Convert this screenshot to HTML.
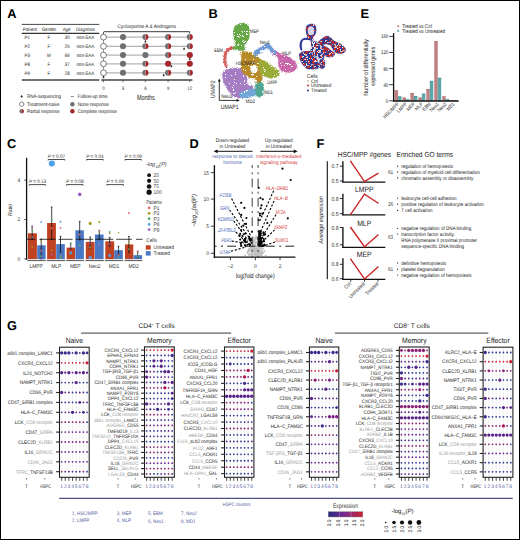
<!DOCTYPE html>
<html><head><meta charset="utf-8"><style>
html,body{margin:0;padding:0;background:#fff;}
body{width:520px;height:540px;overflow:hidden;position:relative;}
svg{position:absolute;left:0;top:0;font-family:"Liberation Sans",sans-serif;text-rendering:geometricPrecision;}
.frame{position:absolute;left:0;top:0;width:520px;height:540px;box-sizing:border-box;border:1px solid #000;border-right-width:1.4px;border-bottom-width:1.5px;}
</style></head><body>
<svg width="520" height="540" viewBox="0 0 520 540">
<rect width="520" height="540" fill="#fff"/>
<text x="7.20" y="17.60" font-size="12.8" font-weight="bold">A</text>
<text x="208.55" y="17.60" font-size="12.8" font-weight="bold">B</text>
<text x="360.55" y="17.60" font-size="12.8" font-weight="bold">E</text>
<text x="6.95" y="147.80" font-size="12.8" font-weight="bold">C</text>
<text x="189.55" y="147.60" font-size="12.8" font-weight="bold">D</text>
<text x="316.55" y="147.60" font-size="12.8" font-weight="bold">F</text>
<text x="6.95" y="330.00" font-size="12.8" font-weight="bold">G</text>
<line x1="21.80" y1="24.40" x2="99.30" y2="24.40" stroke="#333" stroke-width="0.9"/>
<line x1="21.80" y1="33.30" x2="99.30" y2="33.30" stroke="#333" stroke-width="1.2"/>
<line x1="21.80" y1="80.00" x2="99.30" y2="80.00" stroke="#444" stroke-width="1.4"/>
<text x="22.80" y="30.97" font-size="4.928" fill="#222" textLength="14.20" lengthAdjust="spacingAndGlyphs">Patient</text>
<text x="41.70" y="30.97" font-size="4.928" fill="#222" textLength="14.50" lengthAdjust="spacingAndGlyphs">Gender</text>
<text x="62.70" y="30.97" font-size="4.928" fill="#222" textLength="7.80" lengthAdjust="spacingAndGlyphs">Age</text>
<text x="76.00" y="30.97" font-size="4.928" fill="#222" textLength="19.00" lengthAdjust="spacingAndGlyphs">Diagnosis</text>
<text x="24.60" y="38.87" font-size="4.928" fill="#222" textLength="5.38" lengthAdjust="spacingAndGlyphs">P1</text>
<text x="48.80" y="38.87" font-size="4.928" text-anchor="middle" fill="#222" textLength="2.69" lengthAdjust="spacingAndGlyphs">F</text>
<text x="67.20" y="38.87" font-size="4.928" text-anchor="middle" fill="#222" textLength="4.89" lengthAdjust="spacingAndGlyphs">30</text>
<text x="76.50" y="38.87" font-size="4.928" fill="#222" textLength="17.70" lengthAdjust="spacingAndGlyphs">non-SAA</text>
<text x="24.60" y="48.07" font-size="4.928" fill="#222" textLength="5.38" lengthAdjust="spacingAndGlyphs">P2</text>
<text x="48.80" y="48.07" font-size="4.928" text-anchor="middle" fill="#222" textLength="2.69" lengthAdjust="spacingAndGlyphs">F</text>
<text x="67.20" y="48.07" font-size="4.928" text-anchor="middle" fill="#222" textLength="4.89" lengthAdjust="spacingAndGlyphs">25</text>
<text x="76.50" y="48.07" font-size="4.928" fill="#222" textLength="17.70" lengthAdjust="spacingAndGlyphs">non-SAA</text>
<text x="24.60" y="56.87" font-size="4.928" fill="#222" textLength="5.38" lengthAdjust="spacingAndGlyphs">P3</text>
<text x="48.80" y="56.87" font-size="4.928" text-anchor="middle" fill="#222" textLength="3.67" lengthAdjust="spacingAndGlyphs">M</text>
<text x="67.20" y="56.87" font-size="4.928" text-anchor="middle" fill="#222" textLength="4.89" lengthAdjust="spacingAndGlyphs">66</text>
<text x="76.50" y="56.87" font-size="4.928" fill="#222" textLength="17.70" lengthAdjust="spacingAndGlyphs">non-SAA</text>
<text x="24.60" y="65.57" font-size="4.928" fill="#222" textLength="5.38" lengthAdjust="spacingAndGlyphs">P8</text>
<text x="48.80" y="65.57" font-size="4.928" text-anchor="middle" fill="#222" textLength="2.69" lengthAdjust="spacingAndGlyphs">F</text>
<text x="67.20" y="65.57" font-size="4.928" text-anchor="middle" fill="#222" textLength="4.89" lengthAdjust="spacingAndGlyphs">37</text>
<text x="76.50" y="65.57" font-size="4.928" fill="#222" textLength="17.70" lengthAdjust="spacingAndGlyphs">non-SAA</text>
<text x="24.60" y="74.57" font-size="4.928" fill="#222" textLength="5.38" lengthAdjust="spacingAndGlyphs">P9</text>
<text x="48.80" y="74.57" font-size="4.928" text-anchor="middle" fill="#222" textLength="2.69" lengthAdjust="spacingAndGlyphs">F</text>
<text x="67.20" y="74.57" font-size="4.928" text-anchor="middle" fill="#222" textLength="4.89" lengthAdjust="spacingAndGlyphs">28</text>
<text x="76.50" y="74.57" font-size="4.928" fill="#222" textLength="17.70" lengthAdjust="spacingAndGlyphs">non-SAA</text>
<text x="146.80" y="27.85" font-size="5.152" text-anchor="middle" fill="#222" textLength="58.60" lengthAdjust="spacingAndGlyphs">Cyclosporine A &amp; Androgens</text>
<path d="M103.5 34.2 V32.6 Q103.5 31.7 104.4 31.7 H189.6 V33.4" fill="none" stroke="#222" stroke-width="0.9"/>
<line x1="103.50" y1="37.00" x2="103.50" y2="78.00" stroke="#555" stroke-width="0.6"/>
<line x1="103.50" y1="37.10" x2="189.80" y2="37.10" stroke="#b4b4b4" stroke-width="1.3"/>
<circle cx="103.50" cy="37.10" r="2.95" fill="#fff" stroke="#5a5a5a" stroke-width="0.8"/>
<circle cx="123.00" cy="37.10" r="3.05" fill="#6f6f71"/>
<path d="M145.40 34.05 A3.05 3.05 0 0 0 145.40 40.15Z" fill="#6f6f71"/>
<path d="M145.40 34.05 A3.05 3.05 0 0 1 145.40 40.15Z" fill="#a3262a"/>
<line x1="145.40" y1="34.35" x2="145.40" y2="39.85" stroke="#d8d8d8" stroke-width="0.35"/>
<path d="M168.10 34.05 A3.05 3.05 0 0 0 168.10 40.15Z" fill="#6f6f71"/>
<path d="M168.10 34.05 A3.05 3.05 0 0 1 168.10 40.15Z" fill="#a3262a"/>
<line x1="168.10" y1="34.35" x2="168.10" y2="39.85" stroke="#d8d8d8" stroke-width="0.35"/>
<path d="M189.80 34.05 A3.05 3.05 0 0 0 189.80 40.15Z" fill="#6f6f71"/>
<path d="M189.80 34.05 A3.05 3.05 0 0 1 189.80 40.15Z" fill="#a3262a"/>
<line x1="189.80" y1="34.35" x2="189.80" y2="39.85" stroke="#d8d8d8" stroke-width="0.35"/>
<line x1="103.50" y1="46.30" x2="189.80" y2="46.30" stroke="#b4b4b4" stroke-width="1.3"/>
<circle cx="103.50" cy="46.30" r="2.95" fill="#fff" stroke="#5a5a5a" stroke-width="0.8"/>
<circle cx="123.00" cy="46.30" r="3.05" fill="#6f6f71"/>
<path d="M145.40 43.25 A3.05 3.05 0 0 0 145.40 49.35Z" fill="#6f6f71"/>
<path d="M145.40 43.25 A3.05 3.05 0 0 1 145.40 49.35Z" fill="#a3262a"/>
<line x1="145.40" y1="43.55" x2="145.40" y2="49.05" stroke="#d8d8d8" stroke-width="0.35"/>
<path d="M168.10 43.25 A3.05 3.05 0 0 0 168.10 49.35Z" fill="#6f6f71"/>
<path d="M168.10 43.25 A3.05 3.05 0 0 1 168.10 49.35Z" fill="#a3262a"/>
<line x1="168.10" y1="43.55" x2="168.10" y2="49.05" stroke="#d8d8d8" stroke-width="0.35"/>
<path d="M189.80 43.25 A3.05 3.05 0 0 0 189.80 49.35Z" fill="#6f6f71"/>
<path d="M189.80 43.25 A3.05 3.05 0 0 1 189.80 49.35Z" fill="#a3262a"/>
<line x1="189.80" y1="43.55" x2="189.80" y2="49.05" stroke="#d8d8d8" stroke-width="0.35"/>
<line x1="103.50" y1="55.10" x2="189.80" y2="55.10" stroke="#b4b4b4" stroke-width="1.3"/>
<circle cx="103.50" cy="55.10" r="2.95" fill="#fff" stroke="#5a5a5a" stroke-width="0.8"/>
<circle cx="123.00" cy="55.10" r="3.05" fill="#6f6f71"/>
<circle cx="145.40" cy="55.10" r="3.05" fill="#6f6f71"/>
<path d="M168.10 52.05 A3.05 3.05 0 0 0 168.10 58.15Z" fill="#6f6f71"/>
<path d="M168.10 52.05 A3.05 3.05 0 0 1 168.10 58.15Z" fill="#a3262a"/>
<line x1="168.10" y1="52.35" x2="168.10" y2="57.85" stroke="#d8d8d8" stroke-width="0.35"/>
<circle cx="189.80" cy="55.10" r="3.05" fill="#a3262a"/>
<line x1="103.50" y1="63.80" x2="189.80" y2="63.80" stroke="#b4b4b4" stroke-width="1.3"/>
<circle cx="103.50" cy="63.80" r="2.95" fill="#fff" stroke="#5a5a5a" stroke-width="0.8"/>
<circle cx="123.00" cy="63.80" r="3.05" fill="#6f6f71"/>
<path d="M145.40 60.75 A3.05 3.05 0 0 0 145.40 66.85Z" fill="#6f6f71"/>
<path d="M145.40 60.75 A3.05 3.05 0 0 1 145.40 66.85Z" fill="#a3262a"/>
<line x1="145.40" y1="61.05" x2="145.40" y2="66.55" stroke="#d8d8d8" stroke-width="0.35"/>
<circle cx="168.10" cy="63.80" r="3.05" fill="#a3262a"/>
<circle cx="189.80" cy="63.80" r="3.05" fill="#a3262a"/>
<line x1="103.50" y1="72.80" x2="189.80" y2="72.80" stroke="#b4b4b4" stroke-width="1.3"/>
<circle cx="103.50" cy="72.80" r="2.95" fill="#fff" stroke="#5a5a5a" stroke-width="0.8"/>
<circle cx="123.00" cy="72.80" r="3.05" fill="#6f6f71"/>
<path d="M145.40 69.75 A3.05 3.05 0 0 0 145.40 75.85Z" fill="#6f6f71"/>
<path d="M145.40 69.75 A3.05 3.05 0 0 1 145.40 75.85Z" fill="#a3262a"/>
<line x1="145.40" y1="70.05" x2="145.40" y2="75.55" stroke="#d8d8d8" stroke-width="0.35"/>
<path d="M168.10 69.75 A3.05 3.05 0 0 0 168.10 75.85Z" fill="#6f6f71"/>
<path d="M168.10 69.75 A3.05 3.05 0 0 1 168.10 75.85Z" fill="#a3262a"/>
<line x1="168.10" y1="70.05" x2="168.10" y2="75.55" stroke="#d8d8d8" stroke-width="0.35"/>
<path d="M189.80 69.75 A3.05 3.05 0 0 0 189.80 75.85Z" fill="#6f6f71"/>
<path d="M189.80 69.75 A3.05 3.05 0 0 1 189.80 75.85Z" fill="#a3262a"/>
<line x1="189.80" y1="70.05" x2="189.80" y2="75.55" stroke="#d8d8d8" stroke-width="0.35"/>
<path d="M144.65 41.90 L145.40 40.40 L146.15 41.90Z M145.40 41.60 V42.90" fill="#222" stroke="#222" stroke-width="0.5"/>
<path d="M183.35 49.20 L184.10 47.70 L184.85 49.20Z M184.10 48.90 V50.20" fill="#222" stroke="#222" stroke-width="0.5"/>
<path d="M189.05 59.50 L189.80 58.00 L190.55 59.50Z M189.80 59.20 V60.50" fill="#222" stroke="#222" stroke-width="0.5"/>
<path d="M170.65 66.60 L171.40 65.10 L172.15 66.60Z M171.40 66.30 V67.60" fill="#222" stroke="#222" stroke-width="0.5"/>
<path d="M162.95 75.60 L163.70 74.10 L164.45 75.60Z M163.70 75.30 V76.60" fill="#222" stroke="#222" stroke-width="0.5"/>
<path d="M102.75 77.50 L103.50 76.00 L104.25 77.50Z M103.50 77.20 V78.50" fill="#222" stroke="#222" stroke-width="0.5"/>
<line x1="101.20" y1="80.00" x2="192.40" y2="80.00" stroke="#444" stroke-width="1.4"/>
<line x1="103.50" y1="80.00" x2="103.50" y2="82.20" stroke="#444" stroke-width="0.8"/>
<text x="103.50" y="90.17" font-size="4.928" text-anchor="middle" fill="#333" textLength="2.45" lengthAdjust="spacingAndGlyphs">0</text>
<line x1="123.00" y1="80.00" x2="123.00" y2="82.20" stroke="#444" stroke-width="0.8"/>
<text x="123.00" y="90.17" font-size="4.928" text-anchor="middle" fill="#333" textLength="2.45" lengthAdjust="spacingAndGlyphs">3</text>
<line x1="145.40" y1="80.00" x2="145.40" y2="82.20" stroke="#444" stroke-width="0.8"/>
<text x="145.40" y="90.17" font-size="4.928" text-anchor="middle" fill="#333" textLength="2.45" lengthAdjust="spacingAndGlyphs">6</text>
<line x1="168.10" y1="80.00" x2="168.10" y2="82.20" stroke="#444" stroke-width="0.8"/>
<text x="168.10" y="90.17" font-size="4.928" text-anchor="middle" fill="#333" textLength="2.45" lengthAdjust="spacingAndGlyphs">9</text>
<line x1="189.80" y1="80.00" x2="189.80" y2="82.20" stroke="#444" stroke-width="0.8"/>
<text x="189.80" y="90.17" font-size="4.928" text-anchor="middle" fill="#333" textLength="4.89" lengthAdjust="spacingAndGlyphs">12</text>
<text x="136.90" y="100.20" font-size="7.5" fill="#222" textLength="17.90" lengthAdjust="spacingAndGlyphs">Months</text>
<path d="M20.88 96.93 L21.70 95.28 L22.52 96.93Z M21.70 96.60 V98.03" fill="#222" stroke="#222" stroke-width="0.5"/>
<text x="26.90" y="98.41" font-size="5.04" fill="#222" textLength="34.02" lengthAdjust="spacingAndGlyphs">RNA-sequencing</text>
<circle cx="21.70" cy="104.20" r="2.20" fill="#fff" stroke="#555" stroke-width="0.7"/>
<text x="26.90" y="106.01" font-size="5.04" fill="#222" textLength="32.59" lengthAdjust="spacingAndGlyphs">Treatment-naive</text>
<path d="M21.7 109.1 A2.2 2.2 0 0 0 21.7 113.5Z" fill="#6f6f71"/>
<path d="M21.7 109.1 A2.2 2.2 0 0 1 21.7 113.5Z" fill="#a3262a"/>
<text x="26.90" y="113.11" font-size="5.04" fill="#222" textLength="32.52" lengthAdjust="spacingAndGlyphs">Partial response</text>
<line x1="70.80" y1="96.60" x2="73.80" y2="96.60" stroke="#666" stroke-width="0.8"/>
<text x="77.70" y="98.45" font-size="5.152" fill="#222" textLength="29.91" lengthAdjust="spacingAndGlyphs">Follow-up time</text>
<circle cx="72.40" cy="104.20" r="2.20" fill="#6f6f71"/>
<text x="77.70" y="106.05" font-size="5.152" fill="#222" textLength="31.20" lengthAdjust="spacingAndGlyphs">None response</text>
<circle cx="72.40" cy="111.30" r="2.20" fill="#a3262a"/>
<text x="77.70" y="113.11" font-size="5.04" fill="#222" textLength="39.02" lengthAdjust="spacingAndGlyphs">Complete response</text>
<defs>
<filter id="rough" x="-5%" y="-5%" width="110%" height="110%" color-interpolation-filters="sRGB"><feTurbulence type="fractalNoise" baseFrequency="0.8" numOctaves="2" seed="3"/><feDisplacementMap in="SourceGraphic" scale="2.6" xChannelSelector="R" yChannelSelector="G"/></filter>
<filter id="rough2" x="-5%" y="-5%" width="110%" height="110%" color-interpolation-filters="sRGB"><feTurbulence type="fractalNoise" baseFrequency="0.9" numOctaves="2" seed="5"/><feDisplacementMap in="SourceGraphic" scale="1.6" xChannelSelector="R" yChannelSelector="G"/></filter>
<filter id="speck" x="0" y="0" width="100%" height="100%" color-interpolation-filters="sRGB"><feTurbulence type="fractalNoise" baseFrequency="1.1" numOctaves="1" seed="9" result="n"/><feColorMatrix in="n" type="matrix" values="0 0 0 0 0  0 0 0 0 0  0 0 0 0 0  1 0 0 0 0.18" result="a"/><feComponentTransfer in="a" result="m"><feFuncA type="discrete" tableValues="0 1"/></feComponentTransfer><feComposite in="SourceGraphic" in2="m" operator="in"/></filter>
<filter id="mred" x="0" y="0" width="100%" height="100%" color-interpolation-filters="sRGB"><feTurbulence type="fractalNoise" baseFrequency="0.25" numOctaves="2" seed="21" result="n"/><feColorMatrix in="n" type="matrix" values="0 0 0 0 0  0 0 0 0 0  0 0 0 0 0  0 3 0 0 -0.88" result="a"/><feComponentTransfer in="a" result="m"><feFuncA type="discrete" tableValues="0 1"/></feComponentTransfer><feComposite in="SourceGraphic" in2="m" operator="in"/></filter>
<filter id="mred2" x="0" y="0" width="100%" height="100%" color-interpolation-filters="sRGB"><feTurbulence type="fractalNoise" baseFrequency="0.25" numOctaves="2" seed="21" result="n"/><feColorMatrix in="n" type="matrix" values="0 0 0 0 0  0 0 0 0 0  0 0 0 0 0  0 3 0 0 -1.1" result="a"/><feComponentTransfer in="a" result="m"><feFuncA type="discrete" tableValues="0 1"/></feComponentTransfer><feComposite in="SourceGraphic" in2="m" operator="in"/></filter>
<filter id="mblu" x="0" y="0" width="100%" height="100%" color-interpolation-filters="sRGB"><feTurbulence type="fractalNoise" baseFrequency="0.28" numOctaves="2" seed="57" result="n"/><feColorMatrix in="n" type="matrix" values="0 0 0 0 0  0 0 0 0 0  0 0 0 0 0  3 0 0 0 -1.1" result="a"/><feComponentTransfer in="a" result="m"><feFuncA type="discrete" tableValues="0 1"/></feComponentTransfer><feComposite in="SourceGraphic" in2="m" operator="in"/></filter>
<filter id="mgry" x="0" y="0" width="100%" height="100%" color-interpolation-filters="sRGB"><feTurbulence type="fractalNoise" baseFrequency="0.3" numOctaves="2" seed="33" result="n"/><feColorMatrix in="n" type="matrix" values="0 0 0 0 0  0 0 0 0 0  0 0 0 0 0  0 0 3 0 -1.38" result="a"/><feComponentTransfer in="a" result="m"><feFuncA type="discrete" tableValues="0 1"/></feComponentTransfer><feComposite in="SourceGraphic" in2="m" operator="in"/></filter>
<filter id="mwht" x="0" y="0" width="100%" height="100%" color-interpolation-filters="sRGB"><feTurbulence type="fractalNoise" baseFrequency="0.6" numOctaves="1" seed="44" result="n"/><feColorMatrix in="n" type="matrix" values="0 0 0 0 0  0 0 0 0 0  0 0 0 0 0  3 0 0 0 -1.62" result="a"/><feComponentTransfer in="a" result="m"><feFuncA type="discrete" tableValues="0 1"/></feComponentTransfer><feComposite in="SourceGraphic" in2="m" operator="in"/></filter>
</defs>
<g filter="url(#rough)"><g filter="url(#speck)">
<path d="M223.00 72.50 C223.82 71.20 224.90 70.80 226.50 70.00 C228.10 69.20 229.10 68.90 231.00 68.50 C232.90 68.10 234.00 67.90 236.00 68.00 C238.00 68.10 239.50 68.20 241.00 69.00 C242.50 69.80 242.50 70.60 243.50 72.00 C244.50 73.40 244.80 74.40 246.00 76.00 C247.20 77.60 248.30 78.40 249.50 80.00 C250.70 81.60 251.30 82.40 252.00 84.00 C252.70 85.60 253.20 86.40 253.00 88.00 C252.80 89.60 252.10 90.50 251.00 92.00 C249.90 93.50 249.30 94.38 247.50 95.50 C245.70 96.62 244.20 97.10 242.00 97.60 C239.80 98.10 238.40 98.42 236.50 98.00 C234.60 97.58 234.00 96.80 232.50 95.50 C231.00 94.20 230.30 93.20 229.00 91.50 C227.70 89.80 227.08 88.90 226.00 87.00 C224.92 85.10 224.32 84.10 223.60 82.00 C222.88 79.90 222.52 78.40 222.40 76.50 C222.28 74.60 222.18 73.80 223.00 72.50Z" fill="#a67cc6"/>
<path d="M240.00 93.00 C241.10 92.00 243.00 91.24 245.00 90.50 C247.00 89.76 248.20 89.64 250.00 89.30 C251.80 88.96 252.54 88.66 254.00 88.80 C255.46 88.94 256.70 89.06 257.30 90.00 C257.90 90.94 257.86 92.18 257.00 93.50 C256.14 94.82 255.00 95.68 253.00 96.60 C251.00 97.52 249.20 97.86 247.00 98.10 C244.80 98.34 243.50 98.32 242.00 97.80 C240.50 97.28 239.90 96.46 239.50 95.50 C239.10 94.54 238.90 94.00 240.00 93.00Z" fill="#6ea9d8"/>
<path d="M256.00 83.00 C256.74 82.00 257.80 82.10 259.00 82.00 C260.20 81.90 261.02 81.80 262.00 82.50 C262.98 83.20 263.58 84.00 263.90 85.50 C264.22 87.00 263.72 88.20 263.60 90.00 C263.48 91.80 263.92 93.08 263.30 94.50 C262.68 95.92 261.76 96.68 260.50 97.10 C259.24 97.52 258.00 97.62 257.00 96.60 C256.00 95.58 255.84 93.92 255.50 92.00 C255.16 90.08 255.20 88.80 255.30 87.00 C255.40 85.20 255.26 84.00 256.00 83.00Z" fill="#50a68e"/>
<path d="M240.80 52.30 C241.60 51.42 242.56 51.70 244.00 51.60 C245.44 51.50 246.60 51.52 248.00 51.80 C249.40 52.08 250.00 52.50 251.00 53.00 C252.00 53.50 251.90 53.64 253.00 54.30 C254.10 54.96 255.30 55.50 256.50 56.30 C257.70 57.10 257.90 57.50 259.00 58.30 C260.10 59.10 261.16 59.26 262.00 60.30 C262.84 61.34 263.20 62.16 263.20 63.50 C263.20 64.84 262.54 65.50 262.00 67.00 C261.46 68.50 260.60 69.40 260.50 71.00 C260.40 72.60 261.14 73.40 261.50 75.00 C261.86 76.60 262.70 77.54 262.30 79.00 C261.90 80.46 260.76 81.80 259.50 82.30 C258.24 82.80 257.50 82.06 256.00 81.50 C254.50 80.94 253.60 80.36 252.00 79.50 C250.40 78.64 249.50 78.26 248.00 77.20 C246.50 76.14 245.70 75.34 244.50 74.20 C243.30 73.06 242.70 72.74 242.00 71.50 C241.30 70.26 241.34 69.90 241.00 68.00 C240.66 66.10 240.50 64.40 240.30 62.00 C240.10 59.60 239.90 57.94 240.00 56.00 C240.10 54.06 240.00 53.18 240.80 52.30Z" fill="#b98a28"/>
<path d="M259.00 61.80 C259.74 60.46 261.20 60.10 263.00 60.30 C264.80 60.50 266.20 61.70 268.00 62.80 C269.80 63.90 270.40 64.60 272.00 65.80 C273.60 67.00 274.56 67.66 276.00 68.80 C277.44 69.94 278.66 70.12 279.20 71.50 C279.74 72.88 279.54 74.46 278.70 75.70 C277.86 76.94 276.74 77.20 275.00 77.70 C273.26 78.20 271.80 78.40 270.00 78.20 C268.20 78.00 267.60 77.20 266.00 76.70 C264.40 76.20 263.14 76.64 262.00 75.70 C260.86 74.76 260.84 73.74 260.30 72.00 C259.76 70.26 259.56 69.04 259.30 67.00 C259.04 64.96 258.26 63.14 259.00 61.80Z" fill="#9aac38"/>
<path d="M272.00 51.00 C272.80 50.54 274.40 50.84 276.00 51.30 C277.60 51.76 278.20 52.50 280.00 53.30 C281.80 54.10 283.00 54.40 285.00 55.30 C287.00 56.20 288.20 56.70 290.00 57.80 C291.80 58.90 292.68 59.46 294.00 60.80 C295.32 62.14 296.16 62.96 296.60 64.50 C297.04 66.04 296.92 67.08 296.20 68.50 C295.48 69.92 294.64 70.78 293.00 71.60 C291.36 72.42 290.00 72.60 288.00 72.60 C286.00 72.60 284.70 72.42 283.00 71.60 C281.30 70.78 280.44 70.02 279.50 68.50 C278.56 66.98 278.56 65.90 278.30 64.00 C278.04 62.10 278.66 60.64 278.20 59.00 C277.74 57.36 277.24 56.88 276.00 55.80 C274.76 54.72 272.80 54.56 272.00 53.60 C271.20 52.64 271.20 51.46 272.00 51.00Z" fill="#c965a9"/>
<path d="M253.50 53.00 C253.70 51.80 254.70 51.10 256.00 50.00 C257.30 48.90 258.40 48.50 260.00 47.50 C261.60 46.50 262.60 45.74 264.00 45.00 C265.40 44.26 265.80 43.84 267.00 43.80 C268.20 43.76 268.80 43.90 270.00 44.80 C271.20 45.70 271.70 46.86 273.00 48.30 C274.30 49.74 276.30 50.76 276.50 52.00 C276.70 53.24 275.10 54.60 274.00 54.50 C272.90 54.40 272.20 52.70 271.00 51.50 C269.80 50.30 269.20 49.00 268.00 48.50 C266.80 48.00 266.20 48.30 265.00 49.00 C263.80 49.70 263.40 50.80 262.00 52.00 C260.60 53.20 259.40 54.20 258.00 55.00 C256.60 55.80 255.90 56.40 255.00 56.00 C254.10 55.60 253.30 54.20 253.50 53.00Z" fill="#6c9ad8"/>
<path d="M232.50 46.50 C231.40 46.30 229.44 47.20 228.00 48.00 C226.56 48.80 226.14 49.20 225.30 50.50 C224.46 51.80 224.20 52.80 223.80 54.50 C223.40 56.20 223.30 57.30 223.30 59.00 C223.30 60.70 223.40 61.44 223.80 63.00 C224.20 64.56 224.60 66.16 225.30 66.80 C226.00 67.44 227.04 67.16 227.30 66.20 C227.56 65.24 226.76 63.84 226.60 62.00 C226.44 60.16 226.32 58.80 226.50 57.00 C226.68 55.20 226.90 54.24 227.50 53.00 C228.10 51.76 228.30 51.60 229.50 50.80 C230.70 50.00 232.90 49.86 233.50 49.00 C234.10 48.14 233.60 46.70 232.50 46.50Z" fill="#d7605f"/>
<path d="M236.50 25.00 C237.84 24.16 239.20 23.58 241.00 23.30 C242.80 23.02 244.00 22.96 245.50 23.60 C247.00 24.24 247.70 25.02 248.50 26.50 C249.30 27.98 249.34 28.90 249.50 31.00 C249.66 33.10 249.70 34.90 249.30 37.00 C248.90 39.10 248.36 40.00 247.50 41.50 C246.64 43.00 245.64 43.40 245.00 44.50 C244.36 45.60 244.30 45.90 244.30 47.00 C244.30 48.10 245.66 49.30 245.00 50.00 C244.34 50.70 242.60 50.50 241.00 50.50 C239.40 50.50 238.60 50.30 237.00 50.00 C235.40 49.70 233.60 49.70 233.00 49.00 C232.40 48.30 233.40 47.40 234.00 46.50 C234.60 45.60 236.00 45.80 236.00 44.50 C236.00 43.20 234.54 42.30 234.00 40.00 C233.46 37.70 233.24 35.50 233.30 33.00 C233.36 30.50 233.66 29.10 234.30 27.50 C234.94 25.90 235.16 25.84 236.50 25.00Z" fill="#66a846"/>
<path d="M229.00 50.50 C230.28 49.50 232.10 50.00 234.00 50.00 C235.90 50.00 237.10 49.90 238.50 50.50 C239.90 51.10 240.46 51.10 241.00 53.00 C241.54 54.90 241.34 57.40 241.20 60.00 C241.06 62.60 241.14 64.48 240.30 66.00 C239.46 67.52 238.66 67.20 237.00 67.60 C235.34 68.00 233.74 68.22 232.00 68.00 C230.26 67.78 229.18 67.70 228.30 66.50 C227.42 65.30 227.74 64.30 227.60 62.00 C227.46 59.70 227.32 57.30 227.60 55.00 C227.88 52.70 227.72 51.50 229.00 50.50Z" fill="#fff"/>
<path d="M251.20 65.50 C252.10 64.90 253.78 64.60 255.00 65.00 C256.22 65.40 256.90 66.20 257.30 67.50 C257.70 68.80 257.66 70.40 257.00 71.50 C256.34 72.60 255.20 73.00 254.00 73.00 C252.80 73.00 251.70 72.50 251.00 71.50 C250.30 70.50 250.46 69.20 250.50 68.00 C250.54 66.80 250.30 66.10 251.20 65.50Z" fill="#fff"/>
<path d="M248.00 78.50 C248.96 77.70 250.50 77.80 252.00 78.00 C253.50 78.20 254.74 78.40 255.50 79.50 C256.26 80.60 256.50 82.24 255.80 83.50 C255.10 84.76 253.46 85.50 252.00 85.80 C250.54 86.10 249.46 85.76 248.50 85.00 C247.54 84.24 247.30 83.30 247.20 82.00 C247.10 80.70 247.04 79.30 248.00 78.50Z" fill="#fff"/>
<path d="M241.50 31.00 C241.70 30.66 242.34 30.98 242.60 31.30 C242.86 31.62 243.00 32.26 242.80 32.60 C242.60 32.94 241.86 33.32 241.60 33.00 C241.34 32.68 241.30 31.34 241.50 31.00Z" fill="#fff"/>
<path d="M242.00 35.50 C242.24 35.22 242.96 35.46 243.20 35.80 C243.44 36.14 243.44 36.92 243.20 37.20 C242.96 37.48 242.24 37.54 242.00 37.20 C241.76 36.86 241.76 35.78 242.00 35.50Z" fill="#fff"/>
<path d="M238.50 36.00 C238.70 35.80 239.30 35.94 239.50 36.20 C239.70 36.46 239.70 37.10 239.50 37.30 C239.30 37.50 238.70 37.46 238.50 37.20 C238.30 36.94 238.30 36.20 238.50 36.00Z" fill="#fff"/>
<path d="M237.50 44.00 C237.78 43.70 238.70 43.70 239.00 44.00 C239.30 44.30 239.28 45.20 239.00 45.50 C238.72 45.80 237.90 45.80 237.60 45.50 C237.30 45.20 237.22 44.30 237.50 44.00Z" fill="#fff"/>
<path d="M260.00 51.00 C260.30 50.10 262.20 49.60 263.00 50.00 C263.80 50.40 264.30 52.10 264.00 53.00 C263.70 53.90 262.30 54.90 261.50 54.50 C260.70 54.10 259.70 51.90 260.00 51.00Z" fill="#fff"/>
</g></g>
<circle cx="232.31" cy="72.53" r="0.40" fill="#66a846"/>
<circle cx="225.28" cy="85.48" r="0.40" fill="#66a846"/>
<circle cx="228.97" cy="70.58" r="0.40" fill="#b98a28"/>
<circle cx="235.39" cy="92.81" r="0.40" fill="#6ea9d8"/>
<circle cx="251.39" cy="86.92" r="0.40" fill="#66a846"/>
<circle cx="251.40" cy="85.31" r="0.40" fill="#b98a28"/>
<circle cx="223.92" cy="74.63" r="0.40" fill="#66a846"/>
<circle cx="226.81" cy="71.53" r="0.40" fill="#b98a28"/>
<circle cx="239.54" cy="88.46" r="0.40" fill="#6ea9d8"/>
<circle cx="240.20" cy="87.17" r="0.40" fill="#b98a28"/>
<circle cx="239.67" cy="86.57" r="0.40" fill="#b98a28"/>
<circle cx="243.22" cy="80.83" r="0.40" fill="#b98a28"/>
<circle cx="236.65" cy="95.70" r="0.40" fill="#b98a28"/>
<circle cx="231.57" cy="91.83" r="0.40" fill="#66a846"/>
<circle cx="231.59" cy="82.85" r="0.40" fill="#b98a28"/>
<circle cx="244.72" cy="76.64" r="0.40" fill="#6ea9d8"/>
<circle cx="226.01" cy="80.54" r="0.40" fill="#b98a28"/>
<circle cx="227.05" cy="82.67" r="0.40" fill="#6ea9d8"/>
<circle cx="239.48" cy="91.67" r="0.40" fill="#b98a28"/>
<circle cx="232.81" cy="78.51" r="0.40" fill="#b98a28"/>
<circle cx="240.14" cy="81.69" r="0.40" fill="#6ea9d8"/>
<circle cx="243.87" cy="87.41" r="0.40" fill="#66a846"/>
<circle cx="234.21" cy="88.06" r="0.40" fill="#6ea9d8"/>
<circle cx="241.09" cy="82.81" r="0.40" fill="#6ea9d8"/>
<circle cx="229.98" cy="79.73" r="0.40" fill="#b98a28"/>
<circle cx="224.87" cy="81.48" r="0.40" fill="#66a846"/>
<circle cx="230.90" cy="72.11" r="0.40" fill="#b98a28"/>
<circle cx="235.11" cy="78.76" r="0.40" fill="#b98a28"/>
<circle cx="227.79" cy="74.96" r="0.40" fill="#6ea9d8"/>
<circle cx="227.98" cy="76.46" r="0.40" fill="#6ea9d8"/>
<circle cx="235.22" cy="79.08" r="0.40" fill="#66a846"/>
<circle cx="251.16" cy="95.68" r="0.40" fill="#a67cc6"/>
<circle cx="246.48" cy="92.51" r="0.40" fill="#a67cc6"/>
<circle cx="248.07" cy="92.52" r="0.40" fill="#a67cc6"/>
<circle cx="256.70" cy="87.13" r="0.40" fill="#6ea9d8"/>
<circle cx="256.18" cy="90.56" r="0.40" fill="#6ea9d8"/>
<circle cx="263.46" cy="91.27" r="0.40" fill="#6ea9d8"/>
<circle cx="262.82" cy="91.27" r="0.40" fill="#6ea9d8"/>
<circle cx="260.76" cy="96.43" r="0.40" fill="#b98a28"/>
<circle cx="259.38" cy="83.74" r="0.40" fill="#b98a28"/>
<circle cx="251.22" cy="54.24" r="0.40" fill="#66a846"/>
<circle cx="257.39" cy="74.33" r="0.40" fill="#6c9ad8"/>
<circle cx="252.26" cy="56.10" r="0.40" fill="#66a846"/>
<circle cx="257.59" cy="60.75" r="0.40" fill="#66a846"/>
<circle cx="256.15" cy="59.62" r="0.40" fill="#a67cc6"/>
<circle cx="261.07" cy="62.52" r="0.40" fill="#9aac38"/>
<circle cx="252.36" cy="75.52" r="0.40" fill="#a67cc6"/>
<circle cx="254.77" cy="70.43" r="0.40" fill="#9aac38"/>
<circle cx="258.70" cy="76.72" r="0.40" fill="#9aac38"/>
<circle cx="244.64" cy="66.73" r="0.40" fill="#66a846"/>
<circle cx="250.96" cy="57.54" r="0.40" fill="#a67cc6"/>
<circle cx="248.46" cy="58.37" r="0.40" fill="#9aac38"/>
<circle cx="250.91" cy="61.97" r="0.40" fill="#6c9ad8"/>
<circle cx="254.48" cy="79.24" r="0.40" fill="#66a846"/>
<circle cx="251.12" cy="71.65" r="0.40" fill="#66a846"/>
<circle cx="249.01" cy="73.44" r="0.40" fill="#9aac38"/>
<circle cx="251.09" cy="57.08" r="0.40" fill="#a67cc6"/>
<circle cx="256.75" cy="65.82" r="0.40" fill="#66a846"/>
<circle cx="256.82" cy="56.82" r="0.40" fill="#9aac38"/>
<circle cx="250.80" cy="71.73" r="0.40" fill="#6c9ad8"/>
<circle cx="255.25" cy="62.36" r="0.40" fill="#9aac38"/>
<circle cx="263.30" cy="69.27" r="0.40" fill="#fff"/>
<circle cx="264.24" cy="67.80" r="0.40" fill="#b98a28"/>
<circle cx="277.13" cy="72.16" r="0.40" fill="#fff"/>
<circle cx="275.71" cy="76.02" r="0.40" fill="#b98a28"/>
<circle cx="269.74" cy="69.67" r="0.40" fill="#b98a28"/>
<circle cx="276.63" cy="74.20" r="0.40" fill="#b98a28"/>
<circle cx="261.86" cy="71.38" r="0.40" fill="#b98a28"/>
<circle cx="270.24" cy="66.14" r="0.40" fill="#fff"/>
<circle cx="270.32" cy="64.75" r="0.40" fill="#fff"/>
<circle cx="259.85" cy="62.05" r="0.40" fill="#fff"/>
<circle cx="270.35" cy="73.90" r="0.40" fill="#b98a28"/>
<circle cx="267.95" cy="71.26" r="0.40" fill="#b98a28"/>
<circle cx="272.99" cy="68.40" r="0.40" fill="#fff"/>
<circle cx="269.26" cy="64.73" r="0.40" fill="#fff"/>
<circle cx="282.25" cy="59.48" r="0.40" fill="#fff"/>
<circle cx="291.28" cy="70.38" r="0.40" fill="#6c9ad8"/>
<circle cx="295.11" cy="64.90" r="0.40" fill="#fff"/>
<circle cx="282.62" cy="62.14" r="0.40" fill="#fff"/>
<circle cx="282.36" cy="58.70" r="0.40" fill="#6c9ad8"/>
<circle cx="285.63" cy="60.51" r="0.40" fill="#6c9ad8"/>
<circle cx="281.45" cy="62.18" r="0.40" fill="#fff"/>
<circle cx="296.23" cy="68.03" r="0.40" fill="#6c9ad8"/>
<circle cx="290.59" cy="68.71" r="0.40" fill="#fff"/>
<circle cx="281.99" cy="62.59" r="0.40" fill="#fff"/>
<circle cx="295.08" cy="64.70" r="0.40" fill="#fff"/>
<circle cx="255.43" cy="54.25" r="0.40" fill="#c965a9"/>
<circle cx="267.80" cy="44.33" r="0.40" fill="#c965a9"/>
<circle cx="274.94" cy="51.47" r="0.40" fill="#c965a9"/>
<circle cx="260.17" cy="49.90" r="0.40" fill="#c965a9"/>
<circle cx="259.72" cy="53.60" r="0.40" fill="#b98a28"/>
<circle cx="265.33" cy="46.80" r="0.40" fill="#b98a28"/>
<circle cx="255.94" cy="53.79" r="0.40" fill="#b98a28"/>
<circle cx="226.44" cy="50.87" r="0.40" fill="#6c9ad8"/>
<circle cx="226.80" cy="63.40" r="0.40" fill="#6c9ad8"/>
<circle cx="224.02" cy="61.54" r="0.40" fill="#66a846"/>
<circle cx="242.88" cy="42.14" r="0.40" fill="#b98a28"/>
<circle cx="240.58" cy="27.58" r="0.40" fill="#6c9ad8"/>
<circle cx="238.43" cy="50.09" r="0.40" fill="#6c9ad8"/>
<circle cx="237.03" cy="49.57" r="0.40" fill="#6c9ad8"/>
<circle cx="236.59" cy="28.28" r="0.40" fill="#6c9ad8"/>
<circle cx="239.30" cy="36.21" r="0.40" fill="#b98a28"/>
<circle cx="237.09" cy="44.41" r="0.40" fill="#b98a28"/>
<circle cx="237.36" cy="25.74" r="0.40" fill="#6c9ad8"/>
<circle cx="242.68" cy="34.02" r="0.40" fill="#6c9ad8"/>
<circle cx="238.02" cy="29.63" r="0.40" fill="#b98a28"/>
<circle cx="243.85" cy="42.78" r="0.40" fill="#6c9ad8"/>
<circle cx="245.61" cy="42.90" r="0.40" fill="#6c9ad8"/>
<circle cx="235.47" cy="43.00" r="0.40" fill="#b98a28"/>
<circle cx="247.72" cy="40.36" r="0.40" fill="#b98a28"/>
<circle cx="242.38" cy="45.41" r="0.40" fill="#b98a28"/>
<circle cx="246.64" cy="39.19" r="0.40" fill="#b98a28"/>
<circle cx="243.51" cy="49.40" r="0.40" fill="#6c9ad8"/>
<circle cx="246.79" cy="38.49" r="0.40" fill="#b98a28"/>
<circle cx="224.75" cy="69.99" r="0.42" fill="#a67cc6"/>
<circle cx="223.45" cy="71.06" r="0.42" fill="#a67cc6"/>
<circle cx="223.47" cy="70.95" r="0.42" fill="#a67cc6"/>
<circle cx="226.74" cy="69.22" r="0.42" fill="#a67cc6"/>
<circle cx="226.69" cy="71.34" r="0.42" fill="#a67cc6"/>
<circle cx="227.27" cy="67.24" r="0.42" fill="#a67cc6"/>
<circle cx="232.71" cy="68.94" r="0.42" fill="#a67cc6"/>
<circle cx="234.55" cy="66.92" r="0.42" fill="#a67cc6"/>
<circle cx="234.66" cy="68.42" r="0.42" fill="#a67cc6"/>
<circle cx="237.24" cy="67.49" r="0.42" fill="#a67cc6"/>
<circle cx="239.16" cy="68.59" r="0.42" fill="#a67cc6"/>
<circle cx="236.69" cy="67.05" r="0.42" fill="#a67cc6"/>
<circle cx="242.41" cy="72.08" r="0.42" fill="#a67cc6"/>
<circle cx="241.72" cy="70.49" r="0.42" fill="#a67cc6"/>
<circle cx="244.01" cy="74.04" r="0.42" fill="#a67cc6"/>
<circle cx="246.83" cy="75.85" r="0.42" fill="#a67cc6"/>
<circle cx="246.51" cy="75.08" r="0.42" fill="#a67cc6"/>
<circle cx="244.71" cy="75.18" r="0.42" fill="#a67cc6"/>
<circle cx="246.30" cy="76.60" r="0.42" fill="#a67cc6"/>
<circle cx="248.29" cy="77.96" r="0.42" fill="#a67cc6"/>
<circle cx="246.99" cy="79.18" r="0.42" fill="#a67cc6"/>
<circle cx="251.48" cy="84.72" r="0.42" fill="#a67cc6"/>
<circle cx="250.79" cy="81.96" r="0.42" fill="#a67cc6"/>
<circle cx="250.00" cy="82.20" r="0.42" fill="#a67cc6"/>
<circle cx="251.70" cy="85.21" r="0.42" fill="#a67cc6"/>
<circle cx="254.34" cy="87.38" r="0.42" fill="#a67cc6"/>
<circle cx="254.34" cy="88.76" r="0.42" fill="#a67cc6"/>
<circle cx="252.18" cy="90.42" r="0.42" fill="#a67cc6"/>
<circle cx="249.68" cy="91.55" r="0.42" fill="#a67cc6"/>
<circle cx="251.21" cy="91.09" r="0.42" fill="#a67cc6"/>
<circle cx="250.43" cy="93.09" r="0.42" fill="#a67cc6"/>
<circle cx="247.61" cy="96.98" r="0.42" fill="#a67cc6"/>
<circle cx="250.02" cy="93.94" r="0.42" fill="#a67cc6"/>
<circle cx="244.88" cy="97.51" r="0.42" fill="#a67cc6"/>
<circle cx="243.12" cy="96.18" r="0.42" fill="#a67cc6"/>
<circle cx="243.53" cy="97.00" r="0.42" fill="#a67cc6"/>
<circle cx="239.43" cy="98.33" r="0.42" fill="#a67cc6"/>
<circle cx="239.54" cy="96.49" r="0.42" fill="#a67cc6"/>
<circle cx="242.39" cy="98.34" r="0.42" fill="#a67cc6"/>
<circle cx="235.18" cy="97.83" r="0.42" fill="#a67cc6"/>
<circle cx="235.14" cy="94.80" r="0.42" fill="#a67cc6"/>
<circle cx="235.04" cy="96.72" r="0.42" fill="#a67cc6"/>
<circle cx="230.12" cy="93.61" r="0.42" fill="#a67cc6"/>
<circle cx="232.45" cy="96.74" r="0.42" fill="#a67cc6"/>
<circle cx="231.13" cy="95.44" r="0.42" fill="#a67cc6"/>
<circle cx="225.54" cy="87.17" r="0.42" fill="#a67cc6"/>
<circle cx="229.12" cy="91.08" r="0.42" fill="#a67cc6"/>
<circle cx="228.77" cy="91.78" r="0.42" fill="#a67cc6"/>
<circle cx="225.77" cy="83.18" r="0.42" fill="#a67cc6"/>
<circle cx="224.07" cy="85.50" r="0.42" fill="#a67cc6"/>
<circle cx="224.93" cy="85.39" r="0.42" fill="#a67cc6"/>
<circle cx="223.72" cy="80.38" r="0.42" fill="#a67cc6"/>
<circle cx="221.76" cy="77.93" r="0.42" fill="#a67cc6"/>
<circle cx="223.25" cy="81.49" r="0.42" fill="#a67cc6"/>
<circle cx="220.53" cy="75.65" r="0.42" fill="#a67cc6"/>
<circle cx="223.04" cy="72.97" r="0.42" fill="#a67cc6"/>
<circle cx="221.94" cy="74.52" r="0.42" fill="#a67cc6"/>
<circle cx="242.35" cy="91.81" r="0.42" fill="#6ea9d8"/>
<circle cx="243.46" cy="91.27" r="0.42" fill="#6ea9d8"/>
<circle cx="244.95" cy="90.74" r="0.42" fill="#6ea9d8"/>
<circle cx="246.16" cy="91.27" r="0.42" fill="#6ea9d8"/>
<circle cx="249.75" cy="89.16" r="0.42" fill="#6ea9d8"/>
<circle cx="248.33" cy="88.73" r="0.42" fill="#6ea9d8"/>
<circle cx="253.73" cy="89.41" r="0.42" fill="#6ea9d8"/>
<circle cx="252.07" cy="88.56" r="0.42" fill="#6ea9d8"/>
<circle cx="251.69" cy="89.64" r="0.42" fill="#6ea9d8"/>
<circle cx="255.96" cy="89.15" r="0.42" fill="#6ea9d8"/>
<circle cx="253.06" cy="88.70" r="0.42" fill="#6ea9d8"/>
<circle cx="255.48" cy="90.47" r="0.42" fill="#6ea9d8"/>
<circle cx="256.98" cy="90.98" r="0.42" fill="#6ea9d8"/>
<circle cx="255.86" cy="91.88" r="0.42" fill="#6ea9d8"/>
<circle cx="257.22" cy="92.34" r="0.42" fill="#6ea9d8"/>
<circle cx="252.94" cy="95.74" r="0.42" fill="#6ea9d8"/>
<circle cx="255.56" cy="93.58" r="0.42" fill="#6ea9d8"/>
<circle cx="255.26" cy="96.14" r="0.42" fill="#6ea9d8"/>
<circle cx="247.48" cy="98.22" r="0.42" fill="#6ea9d8"/>
<circle cx="249.77" cy="97.76" r="0.42" fill="#6ea9d8"/>
<circle cx="252.24" cy="95.49" r="0.42" fill="#6ea9d8"/>
<circle cx="245.14" cy="100.24" r="0.42" fill="#6ea9d8"/>
<circle cx="245.72" cy="97.42" r="0.42" fill="#6ea9d8"/>
<circle cx="245.94" cy="97.28" r="0.42" fill="#6ea9d8"/>
<circle cx="239.04" cy="95.63" r="0.42" fill="#6ea9d8"/>
<circle cx="240.29" cy="97.95" r="0.42" fill="#6ea9d8"/>
<circle cx="240.17" cy="96.33" r="0.42" fill="#6ea9d8"/>
<circle cx="240.10" cy="94.89" r="0.42" fill="#6ea9d8"/>
<circle cx="240.36" cy="95.70" r="0.42" fill="#6ea9d8"/>
<circle cx="241.04" cy="92.28" r="0.42" fill="#6ea9d8"/>
<circle cx="259.72" cy="81.67" r="0.42" fill="#50a68e"/>
<circle cx="257.93" cy="82.23" r="0.42" fill="#50a68e"/>
<circle cx="255.65" cy="82.21" r="0.42" fill="#50a68e"/>
<circle cx="259.85" cy="82.66" r="0.42" fill="#50a68e"/>
<circle cx="258.85" cy="82.82" r="0.42" fill="#50a68e"/>
<circle cx="263.52" cy="84.11" r="0.42" fill="#50a68e"/>
<circle cx="261.36" cy="84.43" r="0.42" fill="#50a68e"/>
<circle cx="263.30" cy="85.08" r="0.42" fill="#50a68e"/>
<circle cx="261.49" cy="85.37" r="0.42" fill="#50a68e"/>
<circle cx="262.58" cy="87.81" r="0.42" fill="#50a68e"/>
<circle cx="262.50" cy="86.51" r="0.42" fill="#50a68e"/>
<circle cx="263.90" cy="89.01" r="0.42" fill="#50a68e"/>
<circle cx="264.19" cy="89.95" r="0.42" fill="#50a68e"/>
<circle cx="264.03" cy="92.88" r="0.42" fill="#50a68e"/>
<circle cx="264.72" cy="90.90" r="0.42" fill="#50a68e"/>
<circle cx="262.40" cy="94.41" r="0.42" fill="#50a68e"/>
<circle cx="264.04" cy="95.25" r="0.42" fill="#50a68e"/>
<circle cx="259.30" cy="95.27" r="0.42" fill="#50a68e"/>
<circle cx="260.52" cy="98.10" r="0.42" fill="#50a68e"/>
<circle cx="258.00" cy="96.37" r="0.42" fill="#50a68e"/>
<circle cx="258.67" cy="97.42" r="0.42" fill="#50a68e"/>
<circle cx="256.27" cy="93.81" r="0.42" fill="#50a68e"/>
<circle cx="256.58" cy="91.81" r="0.42" fill="#50a68e"/>
<circle cx="255.72" cy="94.50" r="0.42" fill="#50a68e"/>
<circle cx="255.50" cy="89.83" r="0.42" fill="#50a68e"/>
<circle cx="255.47" cy="90.34" r="0.42" fill="#50a68e"/>
<circle cx="256.60" cy="91.92" r="0.42" fill="#50a68e"/>
<circle cx="257.38" cy="85.47" r="0.42" fill="#50a68e"/>
<circle cx="255.96" cy="83.42" r="0.42" fill="#50a68e"/>
<circle cx="253.95" cy="86.63" r="0.42" fill="#50a68e"/>
<circle cx="242.32" cy="52.92" r="0.42" fill="#b98a28"/>
<circle cx="242.10" cy="50.54" r="0.42" fill="#b98a28"/>
<circle cx="243.28" cy="51.31" r="0.42" fill="#b98a28"/>
<circle cx="247.05" cy="52.89" r="0.42" fill="#b98a28"/>
<circle cx="245.45" cy="51.08" r="0.42" fill="#b98a28"/>
<circle cx="245.00" cy="52.17" r="0.42" fill="#b98a28"/>
<circle cx="249.95" cy="52.48" r="0.42" fill="#b98a28"/>
<circle cx="250.26" cy="52.22" r="0.42" fill="#b98a28"/>
<circle cx="249.16" cy="50.85" r="0.42" fill="#b98a28"/>
<circle cx="253.80" cy="54.90" r="0.42" fill="#b98a28"/>
<circle cx="253.71" cy="52.38" r="0.42" fill="#b98a28"/>
<circle cx="250.96" cy="53.49" r="0.42" fill="#b98a28"/>
<circle cx="254.84" cy="54.48" r="0.42" fill="#b98a28"/>
<circle cx="255.00" cy="57.46" r="0.42" fill="#b98a28"/>
<circle cx="254.47" cy="56.76" r="0.42" fill="#b98a28"/>
<circle cx="259.82" cy="58.94" r="0.42" fill="#b98a28"/>
<circle cx="258.22" cy="58.39" r="0.42" fill="#b98a28"/>
<circle cx="257.05" cy="57.24" r="0.42" fill="#b98a28"/>
<circle cx="260.45" cy="59.00" r="0.42" fill="#b98a28"/>
<circle cx="258.40" cy="59.52" r="0.42" fill="#b98a28"/>
<circle cx="259.32" cy="59.23" r="0.42" fill="#b98a28"/>
<circle cx="262.64" cy="62.75" r="0.42" fill="#b98a28"/>
<circle cx="261.22" cy="61.32" r="0.42" fill="#b98a28"/>
<circle cx="263.22" cy="62.64" r="0.42" fill="#b98a28"/>
<circle cx="261.75" cy="66.33" r="0.42" fill="#b98a28"/>
<circle cx="263.58" cy="64.35" r="0.42" fill="#b98a28"/>
<circle cx="261.94" cy="66.21" r="0.42" fill="#b98a28"/>
<circle cx="261.56" cy="70.44" r="0.42" fill="#b98a28"/>
<circle cx="261.62" cy="67.19" r="0.42" fill="#b98a28"/>
<circle cx="262.76" cy="66.48" r="0.42" fill="#b98a28"/>
<circle cx="259.77" cy="75.32" r="0.42" fill="#b98a28"/>
<circle cx="261.04" cy="72.98" r="0.42" fill="#b98a28"/>
<circle cx="259.80" cy="71.68" r="0.42" fill="#b98a28"/>
<circle cx="260.95" cy="74.75" r="0.42" fill="#b98a28"/>
<circle cx="262.35" cy="77.60" r="0.42" fill="#b98a28"/>
<circle cx="262.30" cy="76.89" r="0.42" fill="#b98a28"/>
<circle cx="261.72" cy="78.41" r="0.42" fill="#b98a28"/>
<circle cx="263.26" cy="81.19" r="0.42" fill="#b98a28"/>
<circle cx="259.27" cy="82.25" r="0.42" fill="#b98a28"/>
<circle cx="254.77" cy="82.82" r="0.42" fill="#b98a28"/>
<circle cx="257.57" cy="81.33" r="0.42" fill="#b98a28"/>
<circle cx="256.91" cy="82.57" r="0.42" fill="#b98a28"/>
<circle cx="252.89" cy="79.30" r="0.42" fill="#b98a28"/>
<circle cx="254.25" cy="81.70" r="0.42" fill="#b98a28"/>
<circle cx="254.95" cy="81.21" r="0.42" fill="#b98a28"/>
<circle cx="249.31" cy="77.68" r="0.42" fill="#b98a28"/>
<circle cx="249.76" cy="77.96" r="0.42" fill="#b98a28"/>
<circle cx="249.55" cy="78.39" r="0.42" fill="#b98a28"/>
<circle cx="245.54" cy="75.00" r="0.42" fill="#b98a28"/>
<circle cx="245.71" cy="75.47" r="0.42" fill="#b98a28"/>
<circle cx="244.78" cy="75.54" r="0.42" fill="#b98a28"/>
<circle cx="243.68" cy="73.43" r="0.42" fill="#b98a28"/>
<circle cx="244.05" cy="72.00" r="0.42" fill="#b98a28"/>
<circle cx="243.79" cy="73.88" r="0.42" fill="#b98a28"/>
<circle cx="242.55" cy="71.82" r="0.42" fill="#b98a28"/>
<circle cx="240.90" cy="71.56" r="0.42" fill="#b98a28"/>
<circle cx="241.72" cy="71.08" r="0.42" fill="#b98a28"/>
<circle cx="240.67" cy="62.54" r="0.42" fill="#b98a28"/>
<circle cx="240.09" cy="67.65" r="0.42" fill="#b98a28"/>
<circle cx="241.50" cy="63.64" r="0.42" fill="#b98a28"/>
<circle cx="239.82" cy="54.38" r="0.42" fill="#b98a28"/>
<circle cx="241.28" cy="60.72" r="0.42" fill="#b98a28"/>
<circle cx="240.48" cy="55.99" r="0.42" fill="#b98a28"/>
<circle cx="240.93" cy="52.94" r="0.42" fill="#b98a28"/>
<circle cx="240.30" cy="54.17" r="0.42" fill="#b98a28"/>
<circle cx="240.46" cy="54.32" r="0.42" fill="#b98a28"/>
<circle cx="257.55" cy="61.56" r="0.42" fill="#9aac38"/>
<circle cx="259.75" cy="62.55" r="0.42" fill="#9aac38"/>
<circle cx="260.83" cy="61.45" r="0.42" fill="#9aac38"/>
<circle cx="265.06" cy="60.17" r="0.42" fill="#9aac38"/>
<circle cx="268.25" cy="63.92" r="0.42" fill="#9aac38"/>
<circle cx="262.32" cy="60.34" r="0.42" fill="#9aac38"/>
<circle cx="270.24" cy="63.06" r="0.42" fill="#9aac38"/>
<circle cx="270.63" cy="64.26" r="0.42" fill="#9aac38"/>
<circle cx="271.35" cy="65.12" r="0.42" fill="#9aac38"/>
<circle cx="274.94" cy="70.93" r="0.42" fill="#9aac38"/>
<circle cx="273.33" cy="68.71" r="0.42" fill="#9aac38"/>
<circle cx="274.43" cy="68.46" r="0.42" fill="#9aac38"/>
<circle cx="276.45" cy="68.31" r="0.42" fill="#9aac38"/>
<circle cx="279.23" cy="70.41" r="0.42" fill="#9aac38"/>
<circle cx="278.10" cy="70.64" r="0.42" fill="#9aac38"/>
<circle cx="279.92" cy="72.65" r="0.42" fill="#9aac38"/>
<circle cx="277.08" cy="73.16" r="0.42" fill="#9aac38"/>
<circle cx="279.32" cy="73.35" r="0.42" fill="#9aac38"/>
<circle cx="279.46" cy="75.76" r="0.42" fill="#9aac38"/>
<circle cx="277.91" cy="76.41" r="0.42" fill="#9aac38"/>
<circle cx="276.03" cy="76.54" r="0.42" fill="#9aac38"/>
<circle cx="271.40" cy="78.09" r="0.42" fill="#9aac38"/>
<circle cx="270.34" cy="78.68" r="0.42" fill="#9aac38"/>
<circle cx="273.34" cy="76.36" r="0.42" fill="#9aac38"/>
<circle cx="266.30" cy="77.43" r="0.42" fill="#9aac38"/>
<circle cx="269.24" cy="77.27" r="0.42" fill="#9aac38"/>
<circle cx="268.00" cy="76.90" r="0.42" fill="#9aac38"/>
<circle cx="262.18" cy="75.09" r="0.42" fill="#9aac38"/>
<circle cx="263.45" cy="76.10" r="0.42" fill="#9aac38"/>
<circle cx="264.40" cy="76.61" r="0.42" fill="#9aac38"/>
<circle cx="261.81" cy="72.91" r="0.42" fill="#9aac38"/>
<circle cx="260.78" cy="72.69" r="0.42" fill="#9aac38"/>
<circle cx="259.68" cy="73.39" r="0.42" fill="#9aac38"/>
<circle cx="259.84" cy="68.62" r="0.42" fill="#9aac38"/>
<circle cx="261.80" cy="71.07" r="0.42" fill="#9aac38"/>
<circle cx="259.50" cy="67.99" r="0.42" fill="#9aac38"/>
<circle cx="259.02" cy="61.60" r="0.42" fill="#9aac38"/>
<circle cx="258.46" cy="63.33" r="0.42" fill="#9aac38"/>
<circle cx="259.30" cy="66.70" r="0.42" fill="#9aac38"/>
<circle cx="273.34" cy="49.71" r="0.42" fill="#c965a9"/>
<circle cx="275.21" cy="50.57" r="0.42" fill="#c965a9"/>
<circle cx="272.76" cy="51.79" r="0.42" fill="#c965a9"/>
<circle cx="277.97" cy="53.63" r="0.42" fill="#c965a9"/>
<circle cx="280.24" cy="55.04" r="0.42" fill="#c965a9"/>
<circle cx="276.02" cy="51.99" r="0.42" fill="#c965a9"/>
<circle cx="285.12" cy="54.28" r="0.42" fill="#c965a9"/>
<circle cx="282.22" cy="53.40" r="0.42" fill="#c965a9"/>
<circle cx="282.26" cy="53.08" r="0.42" fill="#c965a9"/>
<circle cx="287.19" cy="54.88" r="0.42" fill="#c965a9"/>
<circle cx="288.09" cy="55.30" r="0.42" fill="#c965a9"/>
<circle cx="287.95" cy="58.00" r="0.42" fill="#c965a9"/>
<circle cx="292.06" cy="60.09" r="0.42" fill="#c965a9"/>
<circle cx="294.24" cy="60.60" r="0.42" fill="#c965a9"/>
<circle cx="291.00" cy="58.31" r="0.42" fill="#c965a9"/>
<circle cx="296.14" cy="64.65" r="0.42" fill="#c965a9"/>
<circle cx="295.41" cy="61.26" r="0.42" fill="#c965a9"/>
<circle cx="295.17" cy="61.76" r="0.42" fill="#c965a9"/>
<circle cx="295.85" cy="64.30" r="0.42" fill="#c965a9"/>
<circle cx="297.08" cy="66.05" r="0.42" fill="#c965a9"/>
<circle cx="297.92" cy="63.29" r="0.42" fill="#c965a9"/>
<circle cx="293.66" cy="71.81" r="0.42" fill="#c965a9"/>
<circle cx="297.55" cy="69.22" r="0.42" fill="#c965a9"/>
<circle cx="292.48" cy="69.76" r="0.42" fill="#c965a9"/>
<circle cx="289.75" cy="72.63" r="0.42" fill="#c965a9"/>
<circle cx="292.54" cy="71.09" r="0.42" fill="#c965a9"/>
<circle cx="291.24" cy="72.00" r="0.42" fill="#c965a9"/>
<circle cx="286.43" cy="73.74" r="0.42" fill="#c965a9"/>
<circle cx="285.16" cy="74.33" r="0.42" fill="#c965a9"/>
<circle cx="286.22" cy="71.09" r="0.42" fill="#c965a9"/>
<circle cx="282.07" cy="72.01" r="0.42" fill="#c965a9"/>
<circle cx="279.49" cy="70.36" r="0.42" fill="#c965a9"/>
<circle cx="281.49" cy="71.69" r="0.42" fill="#c965a9"/>
<circle cx="279.62" cy="67.59" r="0.42" fill="#c965a9"/>
<circle cx="279.95" cy="69.95" r="0.42" fill="#c965a9"/>
<circle cx="279.37" cy="64.13" r="0.42" fill="#c965a9"/>
<circle cx="278.42" cy="60.99" r="0.42" fill="#c965a9"/>
<circle cx="277.28" cy="62.92" r="0.42" fill="#c965a9"/>
<circle cx="278.96" cy="62.44" r="0.42" fill="#c965a9"/>
<circle cx="277.40" cy="57.31" r="0.42" fill="#c965a9"/>
<circle cx="277.72" cy="58.37" r="0.42" fill="#c965a9"/>
<circle cx="275.95" cy="54.98" r="0.42" fill="#c965a9"/>
<circle cx="272.93" cy="55.14" r="0.42" fill="#c965a9"/>
<circle cx="274.72" cy="54.69" r="0.42" fill="#c965a9"/>
<circle cx="273.05" cy="53.94" r="0.42" fill="#c965a9"/>
<circle cx="272.86" cy="52.30" r="0.42" fill="#c965a9"/>
<circle cx="272.49" cy="52.18" r="0.42" fill="#c965a9"/>
<circle cx="270.52" cy="52.10" r="0.42" fill="#c965a9"/>
<circle cx="254.88" cy="50.08" r="0.42" fill="#6c9ad8"/>
<circle cx="255.29" cy="53.45" r="0.42" fill="#6c9ad8"/>
<circle cx="255.13" cy="50.47" r="0.42" fill="#6c9ad8"/>
<circle cx="257.93" cy="47.73" r="0.42" fill="#6c9ad8"/>
<circle cx="254.68" cy="50.13" r="0.42" fill="#6c9ad8"/>
<circle cx="257.23" cy="50.12" r="0.42" fill="#6c9ad8"/>
<circle cx="263.10" cy="45.31" r="0.42" fill="#6c9ad8"/>
<circle cx="260.64" cy="47.91" r="0.42" fill="#6c9ad8"/>
<circle cx="262.51" cy="46.87" r="0.42" fill="#6c9ad8"/>
<circle cx="266.00" cy="44.55" r="0.42" fill="#6c9ad8"/>
<circle cx="264.71" cy="44.78" r="0.42" fill="#6c9ad8"/>
<circle cx="266.75" cy="44.38" r="0.42" fill="#6c9ad8"/>
<circle cx="268.65" cy="44.77" r="0.42" fill="#6c9ad8"/>
<circle cx="269.39" cy="44.82" r="0.42" fill="#6c9ad8"/>
<circle cx="269.05" cy="44.38" r="0.42" fill="#6c9ad8"/>
<circle cx="272.00" cy="46.57" r="0.42" fill="#6c9ad8"/>
<circle cx="271.41" cy="47.13" r="0.42" fill="#6c9ad8"/>
<circle cx="270.59" cy="47.75" r="0.42" fill="#6c9ad8"/>
<circle cx="275.11" cy="52.16" r="0.42" fill="#6c9ad8"/>
<circle cx="275.05" cy="51.38" r="0.42" fill="#6c9ad8"/>
<circle cx="276.66" cy="49.91" r="0.42" fill="#6c9ad8"/>
<circle cx="275.56" cy="52.66" r="0.42" fill="#6c9ad8"/>
<circle cx="274.15" cy="53.83" r="0.42" fill="#6c9ad8"/>
<circle cx="275.70" cy="54.11" r="0.42" fill="#6c9ad8"/>
<circle cx="271.36" cy="50.92" r="0.42" fill="#6c9ad8"/>
<circle cx="272.37" cy="54.21" r="0.42" fill="#6c9ad8"/>
<circle cx="271.00" cy="53.36" r="0.42" fill="#6c9ad8"/>
<circle cx="268.75" cy="49.91" r="0.42" fill="#6c9ad8"/>
<circle cx="267.87" cy="49.84" r="0.42" fill="#6c9ad8"/>
<circle cx="269.17" cy="48.84" r="0.42" fill="#6c9ad8"/>
<circle cx="267.94" cy="46.48" r="0.42" fill="#6c9ad8"/>
<circle cx="267.39" cy="49.46" r="0.42" fill="#6c9ad8"/>
<circle cx="266.16" cy="47.71" r="0.42" fill="#6c9ad8"/>
<circle cx="263.60" cy="49.96" r="0.42" fill="#6c9ad8"/>
<circle cx="264.35" cy="50.03" r="0.42" fill="#6c9ad8"/>
<circle cx="261.76" cy="52.01" r="0.42" fill="#6c9ad8"/>
<circle cx="262.35" cy="52.28" r="0.42" fill="#6c9ad8"/>
<circle cx="261.63" cy="53.07" r="0.42" fill="#6c9ad8"/>
<circle cx="261.13" cy="52.50" r="0.42" fill="#6c9ad8"/>
<circle cx="255.48" cy="56.26" r="0.42" fill="#6c9ad8"/>
<circle cx="257.21" cy="53.09" r="0.42" fill="#6c9ad8"/>
<circle cx="256.73" cy="57.11" r="0.42" fill="#6c9ad8"/>
<circle cx="254.52" cy="55.28" r="0.42" fill="#6c9ad8"/>
<circle cx="254.30" cy="52.48" r="0.42" fill="#6c9ad8"/>
<circle cx="253.70" cy="54.35" r="0.42" fill="#6c9ad8"/>
<circle cx="227.39" cy="48.97" r="0.42" fill="#d7605f"/>
<circle cx="229.22" cy="46.80" r="0.42" fill="#d7605f"/>
<circle cx="230.73" cy="46.80" r="0.42" fill="#d7605f"/>
<circle cx="224.68" cy="51.47" r="0.42" fill="#d7605f"/>
<circle cx="226.79" cy="49.15" r="0.42" fill="#d7605f"/>
<circle cx="226.88" cy="49.13" r="0.42" fill="#d7605f"/>
<circle cx="224.09" cy="54.05" r="0.42" fill="#d7605f"/>
<circle cx="223.90" cy="51.83" r="0.42" fill="#d7605f"/>
<circle cx="223.88" cy="52.33" r="0.42" fill="#d7605f"/>
<circle cx="223.52" cy="58.43" r="0.42" fill="#d7605f"/>
<circle cx="224.69" cy="57.35" r="0.42" fill="#d7605f"/>
<circle cx="224.35" cy="54.02" r="0.42" fill="#d7605f"/>
<circle cx="225.52" cy="59.22" r="0.42" fill="#d7605f"/>
<circle cx="223.63" cy="62.04" r="0.42" fill="#d7605f"/>
<circle cx="223.53" cy="61.12" r="0.42" fill="#d7605f"/>
<circle cx="225.44" cy="65.91" r="0.42" fill="#d7605f"/>
<circle cx="225.92" cy="67.66" r="0.42" fill="#d7605f"/>
<circle cx="224.97" cy="64.00" r="0.42" fill="#d7605f"/>
<circle cx="227.50" cy="64.59" r="0.42" fill="#d7605f"/>
<circle cx="225.31" cy="65.65" r="0.42" fill="#d7605f"/>
<circle cx="225.06" cy="67.06" r="0.42" fill="#d7605f"/>
<circle cx="226.85" cy="64.52" r="0.42" fill="#d7605f"/>
<circle cx="226.89" cy="65.63" r="0.42" fill="#d7605f"/>
<circle cx="227.62" cy="65.06" r="0.42" fill="#d7605f"/>
<circle cx="224.81" cy="59.07" r="0.42" fill="#d7605f"/>
<circle cx="227.15" cy="61.12" r="0.42" fill="#d7605f"/>
<circle cx="225.67" cy="57.70" r="0.42" fill="#d7605f"/>
<circle cx="224.88" cy="56.62" r="0.42" fill="#d7605f"/>
<circle cx="225.74" cy="55.73" r="0.42" fill="#d7605f"/>
<circle cx="225.48" cy="56.02" r="0.42" fill="#d7605f"/>
<circle cx="228.13" cy="53.18" r="0.42" fill="#d7605f"/>
<circle cx="226.61" cy="52.06" r="0.42" fill="#d7605f"/>
<circle cx="227.32" cy="51.69" r="0.42" fill="#d7605f"/>
<circle cx="231.41" cy="49.53" r="0.42" fill="#d7605f"/>
<circle cx="229.87" cy="49.70" r="0.42" fill="#d7605f"/>
<circle cx="229.48" cy="50.79" r="0.42" fill="#d7605f"/>
<circle cx="233.29" cy="46.95" r="0.42" fill="#d7605f"/>
<circle cx="231.80" cy="47.54" r="0.42" fill="#d7605f"/>
<circle cx="230.79" cy="48.22" r="0.42" fill="#d7605f"/>
<circle cx="239.66" cy="23.11" r="0.42" fill="#66a846"/>
<circle cx="237.56" cy="25.60" r="0.42" fill="#66a846"/>
<circle cx="239.41" cy="23.67" r="0.42" fill="#66a846"/>
<circle cx="245.10" cy="22.77" r="0.42" fill="#66a846"/>
<circle cx="241.19" cy="23.41" r="0.42" fill="#66a846"/>
<circle cx="242.94" cy="22.77" r="0.42" fill="#66a846"/>
<circle cx="247.95" cy="23.59" r="0.42" fill="#66a846"/>
<circle cx="246.40" cy="24.53" r="0.42" fill="#66a846"/>
<circle cx="246.47" cy="24.85" r="0.42" fill="#66a846"/>
<circle cx="248.22" cy="26.59" r="0.42" fill="#66a846"/>
<circle cx="249.72" cy="30.27" r="0.42" fill="#66a846"/>
<circle cx="248.84" cy="24.70" r="0.42" fill="#66a846"/>
<circle cx="248.23" cy="36.16" r="0.42" fill="#66a846"/>
<circle cx="248.70" cy="35.45" r="0.42" fill="#66a846"/>
<circle cx="248.74" cy="33.18" r="0.42" fill="#66a846"/>
<circle cx="247.21" cy="37.31" r="0.42" fill="#66a846"/>
<circle cx="248.97" cy="37.14" r="0.42" fill="#66a846"/>
<circle cx="249.52" cy="36.44" r="0.42" fill="#66a846"/>
<circle cx="245.06" cy="44.31" r="0.42" fill="#66a846"/>
<circle cx="244.76" cy="41.50" r="0.42" fill="#66a846"/>
<circle cx="244.13" cy="44.58" r="0.42" fill="#66a846"/>
<circle cx="244.55" cy="44.27" r="0.42" fill="#66a846"/>
<circle cx="244.98" cy="44.89" r="0.42" fill="#66a846"/>
<circle cx="246.21" cy="47.83" r="0.42" fill="#66a846"/>
<circle cx="244.68" cy="46.92" r="0.42" fill="#66a846"/>
<circle cx="244.18" cy="46.40" r="0.42" fill="#66a846"/>
<circle cx="244.92" cy="49.47" r="0.42" fill="#66a846"/>
<circle cx="241.50" cy="48.66" r="0.42" fill="#66a846"/>
<circle cx="243.17" cy="51.00" r="0.42" fill="#66a846"/>
<circle cx="240.14" cy="50.87" r="0.42" fill="#66a846"/>
<circle cx="241.38" cy="50.05" r="0.42" fill="#66a846"/>
<circle cx="242.25" cy="50.61" r="0.42" fill="#66a846"/>
<circle cx="238.41" cy="50.46" r="0.42" fill="#66a846"/>
<circle cx="234.98" cy="50.82" r="0.42" fill="#66a846"/>
<circle cx="235.86" cy="49.83" r="0.42" fill="#66a846"/>
<circle cx="233.45" cy="49.93" r="0.42" fill="#66a846"/>
<circle cx="233.40" cy="47.82" r="0.42" fill="#66a846"/>
<circle cx="233.00" cy="46.71" r="0.42" fill="#66a846"/>
<circle cx="233.87" cy="45.92" r="0.42" fill="#66a846"/>
<circle cx="234.89" cy="44.63" r="0.42" fill="#66a846"/>
<circle cx="235.51" cy="46.15" r="0.42" fill="#66a846"/>
<circle cx="235.05" cy="45.91" r="0.42" fill="#66a846"/>
<circle cx="234.64" cy="39.04" r="0.42" fill="#66a846"/>
<circle cx="233.69" cy="43.93" r="0.42" fill="#66a846"/>
<circle cx="234.76" cy="41.68" r="0.42" fill="#66a846"/>
<circle cx="233.63" cy="33.04" r="0.42" fill="#66a846"/>
<circle cx="233.92" cy="40.93" r="0.42" fill="#66a846"/>
<circle cx="234.35" cy="34.17" r="0.42" fill="#66a846"/>
<circle cx="234.16" cy="31.34" r="0.42" fill="#66a846"/>
<circle cx="233.52" cy="27.92" r="0.42" fill="#66a846"/>
<circle cx="234.63" cy="27.04" r="0.42" fill="#66a846"/>
<circle cx="236.09" cy="25.53" r="0.42" fill="#66a846"/>
<circle cx="235.69" cy="25.54" r="0.42" fill="#66a846"/>
<circle cx="236.55" cy="25.35" r="0.42" fill="#66a846"/>
<text x="250.00" y="32.95" font-size="5.152" fill="#222" textLength="8.80" lengthAdjust="spacingAndGlyphs">MEP</text>
<text x="259.70" y="43.65" font-size="5.152" fill="#222" textLength="10.30" lengthAdjust="spacingAndGlyphs">Neu1</text>
<text x="282.30" y="54.95" font-size="5.152" fill="#222" textLength="8.70" lengthAdjust="spacingAndGlyphs">MLP</text>
<text x="223.00" y="52.15" font-size="5.152" text-anchor="end" fill="#222" textLength="8.80" lengthAdjust="spacingAndGlyphs">EBM</text>
<text x="235.80" y="64.55" font-size="5.152" fill="#222" textLength="19.20" lengthAdjust="spacingAndGlyphs">HSC/MPP</text>
<text x="267.30" y="83.75" font-size="5.152" fill="#222" textLength="10.00" lengthAdjust="spacingAndGlyphs">LMPP</text>
<text x="264.20" y="94.05" font-size="5.152" fill="#222" textLength="8.50" lengthAdjust="spacingAndGlyphs">MD1</text>
<text x="245.80" y="102.65" font-size="5.152" fill="#222" textLength="9.20" lengthAdjust="spacingAndGlyphs">MD2</text>
<text x="221.20" y="97.75" font-size="5.152" fill="#222" textLength="11.10" lengthAdjust="spacingAndGlyphs">Neu2</text>
<path d="M219.3 100.4 V80 M238 100.4 H219.3" stroke="#111" stroke-width="0.85" fill="none"/>
<path d="M219.3 78.4 L217.9 81.6 L220.7 81.6Z M239.8 100.4 L236.6 99 L236.6 101.8Z" fill="#111"/>
<text x="220.80" y="108.97" font-size="6.3" fill="#222" textLength="17.70" lengthAdjust="spacingAndGlyphs">UMAP1</text>
<text x="212.40" y="91.47" font-size="6.3" text-anchor="middle" fill="#222" textLength="17.70" lengthAdjust="spacingAndGlyphs" transform="rotate(-90 212.40 89.20)">UMAP2</text>
<g filter="url(#rough2)"><g transform="matrix(0.622 0 0 0.603 160.854 9.950)">
<g fill="#2b3a96"><path d="M223.00 72.50 C223.82 71.20 224.90 70.80 226.50 70.00 C228.10 69.20 229.10 68.90 231.00 68.50 C232.90 68.10 234.00 67.90 236.00 68.00 C238.00 68.10 239.50 68.20 241.00 69.00 C242.50 69.80 242.50 70.60 243.50 72.00 C244.50 73.40 244.80 74.40 246.00 76.00 C247.20 77.60 248.30 78.40 249.50 80.00 C250.70 81.60 251.30 82.40 252.00 84.00 C252.70 85.60 253.20 86.40 253.00 88.00 C252.80 89.60 252.10 90.50 251.00 92.00 C249.90 93.50 249.30 94.38 247.50 95.50 C245.70 96.62 244.20 97.10 242.00 97.60 C239.80 98.10 238.40 98.42 236.50 98.00 C234.60 97.58 234.00 96.80 232.50 95.50 C231.00 94.20 230.30 93.20 229.00 91.50 C227.70 89.80 227.08 88.90 226.00 87.00 C224.92 85.10 224.32 84.10 223.60 82.00 C222.88 79.90 222.52 78.40 222.40 76.50 C222.28 74.60 222.18 73.80 223.00 72.50Z"/><path d="M240.00 93.00 C241.10 92.00 243.00 91.24 245.00 90.50 C247.00 89.76 248.20 89.64 250.00 89.30 C251.80 88.96 252.54 88.66 254.00 88.80 C255.46 88.94 256.70 89.06 257.30 90.00 C257.90 90.94 257.86 92.18 257.00 93.50 C256.14 94.82 255.00 95.68 253.00 96.60 C251.00 97.52 249.20 97.86 247.00 98.10 C244.80 98.34 243.50 98.32 242.00 97.80 C240.50 97.28 239.90 96.46 239.50 95.50 C239.10 94.54 238.90 94.00 240.00 93.00Z"/><path d="M256.00 83.00 C256.74 82.00 257.80 82.10 259.00 82.00 C260.20 81.90 261.02 81.80 262.00 82.50 C262.98 83.20 263.58 84.00 263.90 85.50 C264.22 87.00 263.72 88.20 263.60 90.00 C263.48 91.80 263.92 93.08 263.30 94.50 C262.68 95.92 261.76 96.68 260.50 97.10 C259.24 97.52 258.00 97.62 257.00 96.60 C256.00 95.58 255.84 93.92 255.50 92.00 C255.16 90.08 255.20 88.80 255.30 87.00 C255.40 85.20 255.26 84.00 256.00 83.00Z"/><path d="M252.00 56.00 C252.20 54.40 253.40 52.80 255.00 51.00 C256.60 49.20 258.00 48.40 260.00 47.00 C262.00 45.60 263.20 44.70 265.00 44.00 C266.80 43.30 267.40 43.10 269.00 43.50 C270.60 43.90 271.40 44.60 273.00 46.00 C274.60 47.40 275.70 48.90 277.00 50.50 C278.30 52.10 279.50 52.50 279.50 54.00 C279.50 55.50 278.70 57.30 277.00 58.00 C275.30 58.70 273.40 57.80 271.00 57.50 C268.60 57.20 267.40 56.30 265.00 56.50 C262.60 56.70 261.20 58.00 259.00 58.50 C256.80 59.00 255.40 59.50 254.00 59.00 C252.60 58.50 251.80 57.60 252.00 56.00Z"/><path d="M232.50 46.50 C231.40 46.30 229.44 47.20 228.00 48.00 C226.56 48.80 226.14 49.20 225.30 50.50 C224.46 51.80 224.20 52.80 223.80 54.50 C223.40 56.20 223.30 57.30 223.30 59.00 C223.30 60.70 223.40 61.44 223.80 63.00 C224.20 64.56 224.60 66.16 225.30 66.80 C226.00 67.44 227.04 67.16 227.30 66.20 C227.56 65.24 226.76 63.84 226.60 62.00 C226.44 60.16 226.32 58.80 226.50 57.00 C226.68 55.20 226.90 54.24 227.50 53.00 C228.10 51.76 228.30 51.60 229.50 50.80 C230.70 50.00 232.90 49.86 233.50 49.00 C234.10 48.14 233.60 46.70 232.50 46.50Z"/><path d="M236.50 25.00 C237.84 24.16 239.20 23.58 241.00 23.30 C242.80 23.02 244.00 22.96 245.50 23.60 C247.00 24.24 247.70 25.02 248.50 26.50 C249.30 27.98 249.34 28.90 249.50 31.00 C249.66 33.10 249.70 34.90 249.30 37.00 C248.90 39.10 248.36 40.00 247.50 41.50 C246.64 43.00 245.64 43.40 245.00 44.50 C244.36 45.60 244.30 45.90 244.30 47.00 C244.30 48.10 245.66 49.30 245.00 50.00 C244.34 50.70 242.60 50.50 241.00 50.50 C239.40 50.50 238.60 50.30 237.00 50.00 C235.40 49.70 233.60 49.70 233.00 49.00 C232.40 48.30 233.40 47.40 234.00 46.50 C234.60 45.60 236.00 45.80 236.00 44.50 C236.00 43.20 234.54 42.30 234.00 40.00 C233.46 37.70 233.24 35.50 233.30 33.00 C233.36 30.50 233.66 29.10 234.30 27.50 C234.94 25.90 235.16 25.84 236.50 25.00Z"/></g>
<g fill="#d2d2d6"><path d="M240.80 52.30 C241.60 51.42 242.56 51.70 244.00 51.60 C245.44 51.50 246.60 51.52 248.00 51.80 C249.40 52.08 250.00 52.50 251.00 53.00 C252.00 53.50 251.90 53.64 253.00 54.30 C254.10 54.96 255.30 55.50 256.50 56.30 C257.70 57.10 257.90 57.50 259.00 58.30 C260.10 59.10 261.16 59.26 262.00 60.30 C262.84 61.34 263.20 62.16 263.20 63.50 C263.20 64.84 262.54 65.50 262.00 67.00 C261.46 68.50 260.60 69.40 260.50 71.00 C260.40 72.60 261.14 73.40 261.50 75.00 C261.86 76.60 262.70 77.54 262.30 79.00 C261.90 80.46 260.76 81.80 259.50 82.30 C258.24 82.80 257.50 82.06 256.00 81.50 C254.50 80.94 253.60 80.36 252.00 79.50 C250.40 78.64 249.50 78.26 248.00 77.20 C246.50 76.14 245.70 75.34 244.50 74.20 C243.30 73.06 242.70 72.74 242.00 71.50 C241.30 70.26 241.34 69.90 241.00 68.00 C240.66 66.10 240.50 64.40 240.30 62.00 C240.10 59.60 239.90 57.94 240.00 56.00 C240.10 54.06 240.00 53.18 240.80 52.30Z"/></g>
<g fill="#c32a2a"><path d="M259.00 61.80 C259.74 60.46 261.20 60.10 263.00 60.30 C264.80 60.50 266.20 61.70 268.00 62.80 C269.80 63.90 270.40 64.60 272.00 65.80 C273.60 67.00 274.56 67.66 276.00 68.80 C277.44 69.94 278.66 70.12 279.20 71.50 C279.74 72.88 279.54 74.46 278.70 75.70 C277.86 76.94 276.74 77.20 275.00 77.70 C273.26 78.20 271.80 78.40 270.00 78.20 C268.20 78.00 267.60 77.20 266.00 76.70 C264.40 76.20 263.14 76.64 262.00 75.70 C260.86 74.76 260.84 73.74 260.30 72.00 C259.76 70.26 259.56 69.04 259.30 67.00 C259.04 64.96 258.26 63.14 259.00 61.80Z"/><path d="M271.00 50.00 C272.10 49.06 274.20 49.84 276.00 50.30 C277.80 50.76 278.20 51.46 280.00 52.30 C281.80 53.14 283.00 53.50 285.00 54.50 C287.00 55.50 288.20 56.10 290.00 57.30 C291.80 58.50 292.64 59.06 294.00 60.50 C295.36 61.94 296.32 62.90 296.80 64.50 C297.28 66.10 297.16 67.08 296.40 68.50 C295.64 69.92 294.68 70.78 293.00 71.60 C291.32 72.42 290.00 72.60 288.00 72.60 C286.00 72.60 284.80 72.42 283.00 71.60 C281.20 70.78 280.40 70.02 279.00 68.50 C277.60 66.98 277.20 65.90 276.00 64.00 C274.80 62.10 274.10 60.80 273.00 59.00 C271.90 57.20 270.90 56.80 270.50 55.00 C270.10 53.20 269.90 50.94 271.00 50.00Z"/></g>
<g fill="#c32a2a" filter="url(#mred2)"><path d="M223.00 72.50 C223.82 71.20 224.90 70.80 226.50 70.00 C228.10 69.20 229.10 68.90 231.00 68.50 C232.90 68.10 234.00 67.90 236.00 68.00 C238.00 68.10 239.50 68.20 241.00 69.00 C242.50 69.80 242.50 70.60 243.50 72.00 C244.50 73.40 244.80 74.40 246.00 76.00 C247.20 77.60 248.30 78.40 249.50 80.00 C250.70 81.60 251.30 82.40 252.00 84.00 C252.70 85.60 253.20 86.40 253.00 88.00 C252.80 89.60 252.10 90.50 251.00 92.00 C249.90 93.50 249.30 94.38 247.50 95.50 C245.70 96.62 244.20 97.10 242.00 97.60 C239.80 98.10 238.40 98.42 236.50 98.00 C234.60 97.58 234.00 96.80 232.50 95.50 C231.00 94.20 230.30 93.20 229.00 91.50 C227.70 89.80 227.08 88.90 226.00 87.00 C224.92 85.10 224.32 84.10 223.60 82.00 C222.88 79.90 222.52 78.40 222.40 76.50 C222.28 74.60 222.18 73.80 223.00 72.50Z"/><path d="M240.00 93.00 C241.10 92.00 243.00 91.24 245.00 90.50 C247.00 89.76 248.20 89.64 250.00 89.30 C251.80 88.96 252.54 88.66 254.00 88.80 C255.46 88.94 256.70 89.06 257.30 90.00 C257.90 90.94 257.86 92.18 257.00 93.50 C256.14 94.82 255.00 95.68 253.00 96.60 C251.00 97.52 249.20 97.86 247.00 98.10 C244.80 98.34 243.50 98.32 242.00 97.80 C240.50 97.28 239.90 96.46 239.50 95.50 C239.10 94.54 238.90 94.00 240.00 93.00Z"/><path d="M256.00 83.00 C256.74 82.00 257.80 82.10 259.00 82.00 C260.20 81.90 261.02 81.80 262.00 82.50 C262.98 83.20 263.58 84.00 263.90 85.50 C264.22 87.00 263.72 88.20 263.60 90.00 C263.48 91.80 263.92 93.08 263.30 94.50 C262.68 95.92 261.76 96.68 260.50 97.10 C259.24 97.52 258.00 97.62 257.00 96.60 C256.00 95.58 255.84 93.92 255.50 92.00 C255.16 90.08 255.20 88.80 255.30 87.00 C255.40 85.20 255.26 84.00 256.00 83.00Z"/><path d="M252.00 56.00 C252.20 54.40 253.40 52.80 255.00 51.00 C256.60 49.20 258.00 48.40 260.00 47.00 C262.00 45.60 263.20 44.70 265.00 44.00 C266.80 43.30 267.40 43.10 269.00 43.50 C270.60 43.90 271.40 44.60 273.00 46.00 C274.60 47.40 275.70 48.90 277.00 50.50 C278.30 52.10 279.50 52.50 279.50 54.00 C279.50 55.50 278.70 57.30 277.00 58.00 C275.30 58.70 273.40 57.80 271.00 57.50 C268.60 57.20 267.40 56.30 265.00 56.50 C262.60 56.70 261.20 58.00 259.00 58.50 C256.80 59.00 255.40 59.50 254.00 59.00 C252.60 58.50 251.80 57.60 252.00 56.00Z"/><path d="M236.50 25.00 C237.84 24.16 239.20 23.58 241.00 23.30 C242.80 23.02 244.00 22.96 245.50 23.60 C247.00 24.24 247.70 25.02 248.50 26.50 C249.30 27.98 249.34 28.90 249.50 31.00 C249.66 33.10 249.70 34.90 249.30 37.00 C248.90 39.10 248.36 40.00 247.50 41.50 C246.64 43.00 245.64 43.40 245.00 44.50 C244.36 45.60 244.30 45.90 244.30 47.00 C244.30 48.10 245.66 49.30 245.00 50.00 C244.34 50.70 242.60 50.50 241.00 50.50 C239.40 50.50 238.60 50.30 237.00 50.00 C235.40 49.70 233.60 49.70 233.00 49.00 C232.40 48.30 233.40 47.40 234.00 46.50 C234.60 45.60 236.00 45.80 236.00 44.50 C236.00 43.20 234.54 42.30 234.00 40.00 C233.46 37.70 233.24 35.50 233.30 33.00 C233.36 30.50 233.66 29.10 234.30 27.50 C234.94 25.90 235.16 25.84 236.50 25.00Z"/><path d="M240.80 52.30 C241.60 51.42 242.56 51.70 244.00 51.60 C245.44 51.50 246.60 51.52 248.00 51.80 C249.40 52.08 250.00 52.50 251.00 53.00 C252.00 53.50 251.90 53.64 253.00 54.30 C254.10 54.96 255.30 55.50 256.50 56.30 C257.70 57.10 257.90 57.50 259.00 58.30 C260.10 59.10 261.16 59.26 262.00 60.30 C262.84 61.34 263.20 62.16 263.20 63.50 C263.20 64.84 262.54 65.50 262.00 67.00 C261.46 68.50 260.60 69.40 260.50 71.00 C260.40 72.60 261.14 73.40 261.50 75.00 C261.86 76.60 262.70 77.54 262.30 79.00 C261.90 80.46 260.76 81.80 259.50 82.30 C258.24 82.80 257.50 82.06 256.00 81.50 C254.50 80.94 253.60 80.36 252.00 79.50 C250.40 78.64 249.50 78.26 248.00 77.20 C246.50 76.14 245.70 75.34 244.50 74.20 C243.30 73.06 242.70 72.74 242.00 71.50 C241.30 70.26 241.34 69.90 241.00 68.00 C240.66 66.10 240.50 64.40 240.30 62.00 C240.10 59.60 239.90 57.94 240.00 56.00 C240.10 54.06 240.00 53.18 240.80 52.30Z"/></g>
<g fill="#2b3a96" filter="url(#mblu)"><path d="M259.00 61.80 C259.74 60.46 261.20 60.10 263.00 60.30 C264.80 60.50 266.20 61.70 268.00 62.80 C269.80 63.90 270.40 64.60 272.00 65.80 C273.60 67.00 274.56 67.66 276.00 68.80 C277.44 69.94 278.66 70.12 279.20 71.50 C279.74 72.88 279.54 74.46 278.70 75.70 C277.86 76.94 276.74 77.20 275.00 77.70 C273.26 78.20 271.80 78.40 270.00 78.20 C268.20 78.00 267.60 77.20 266.00 76.70 C264.40 76.20 263.14 76.64 262.00 75.70 C260.86 74.76 260.84 73.74 260.30 72.00 C259.76 70.26 259.56 69.04 259.30 67.00 C259.04 64.96 258.26 63.14 259.00 61.80Z"/><path d="M271.00 50.00 C272.10 49.06 274.20 49.84 276.00 50.30 C277.80 50.76 278.20 51.46 280.00 52.30 C281.80 53.14 283.00 53.50 285.00 54.50 C287.00 55.50 288.20 56.10 290.00 57.30 C291.80 58.50 292.64 59.06 294.00 60.50 C295.36 61.94 296.32 62.90 296.80 64.50 C297.28 66.10 297.16 67.08 296.40 68.50 C295.64 69.92 294.68 70.78 293.00 71.60 C291.32 72.42 290.00 72.60 288.00 72.60 C286.00 72.60 284.80 72.42 283.00 71.60 C281.20 70.78 280.40 70.02 279.00 68.50 C277.60 66.98 277.20 65.90 276.00 64.00 C274.80 62.10 274.10 60.80 273.00 59.00 C271.90 57.20 270.90 56.80 270.50 55.00 C270.10 53.20 269.90 50.94 271.00 50.00Z"/><path d="M240.80 52.30 C241.60 51.42 242.56 51.70 244.00 51.60 C245.44 51.50 246.60 51.52 248.00 51.80 C249.40 52.08 250.00 52.50 251.00 53.00 C252.00 53.50 251.90 53.64 253.00 54.30 C254.10 54.96 255.30 55.50 256.50 56.30 C257.70 57.10 257.90 57.50 259.00 58.30 C260.10 59.10 261.16 59.26 262.00 60.30 C262.84 61.34 263.20 62.16 263.20 63.50 C263.20 64.84 262.54 65.50 262.00 67.00 C261.46 68.50 260.60 69.40 260.50 71.00 C260.40 72.60 261.14 73.40 261.50 75.00 C261.86 76.60 262.70 77.54 262.30 79.00 C261.90 80.46 260.76 81.80 259.50 82.30 C258.24 82.80 257.50 82.06 256.00 81.50 C254.50 80.94 253.60 80.36 252.00 79.50 C250.40 78.64 249.50 78.26 248.00 77.20 C246.50 76.14 245.70 75.34 244.50 74.20 C243.30 73.06 242.70 72.74 242.00 71.50 C241.30 70.26 241.34 69.90 241.00 68.00 C240.66 66.10 240.50 64.40 240.30 62.00 C240.10 59.60 239.90 57.94 240.00 56.00 C240.10 54.06 240.00 53.18 240.80 52.30Z"/></g>
<g fill="#c4c4c8" filter="url(#mgry)"><path d="M223.00 72.50 C223.82 71.20 224.90 70.80 226.50 70.00 C228.10 69.20 229.10 68.90 231.00 68.50 C232.90 68.10 234.00 67.90 236.00 68.00 C238.00 68.10 239.50 68.20 241.00 69.00 C242.50 69.80 242.50 70.60 243.50 72.00 C244.50 73.40 244.80 74.40 246.00 76.00 C247.20 77.60 248.30 78.40 249.50 80.00 C250.70 81.60 251.30 82.40 252.00 84.00 C252.70 85.60 253.20 86.40 253.00 88.00 C252.80 89.60 252.10 90.50 251.00 92.00 C249.90 93.50 249.30 94.38 247.50 95.50 C245.70 96.62 244.20 97.10 242.00 97.60 C239.80 98.10 238.40 98.42 236.50 98.00 C234.60 97.58 234.00 96.80 232.50 95.50 C231.00 94.20 230.30 93.20 229.00 91.50 C227.70 89.80 227.08 88.90 226.00 87.00 C224.92 85.10 224.32 84.10 223.60 82.00 C222.88 79.90 222.52 78.40 222.40 76.50 C222.28 74.60 222.18 73.80 223.00 72.50Z"/><path d="M240.00 93.00 C241.10 92.00 243.00 91.24 245.00 90.50 C247.00 89.76 248.20 89.64 250.00 89.30 C251.80 88.96 252.54 88.66 254.00 88.80 C255.46 88.94 256.70 89.06 257.30 90.00 C257.90 90.94 257.86 92.18 257.00 93.50 C256.14 94.82 255.00 95.68 253.00 96.60 C251.00 97.52 249.20 97.86 247.00 98.10 C244.80 98.34 243.50 98.32 242.00 97.80 C240.50 97.28 239.90 96.46 239.50 95.50 C239.10 94.54 238.90 94.00 240.00 93.00Z"/><path d="M256.00 83.00 C256.74 82.00 257.80 82.10 259.00 82.00 C260.20 81.90 261.02 81.80 262.00 82.50 C262.98 83.20 263.58 84.00 263.90 85.50 C264.22 87.00 263.72 88.20 263.60 90.00 C263.48 91.80 263.92 93.08 263.30 94.50 C262.68 95.92 261.76 96.68 260.50 97.10 C259.24 97.52 258.00 97.62 257.00 96.60 C256.00 95.58 255.84 93.92 255.50 92.00 C255.16 90.08 255.20 88.80 255.30 87.00 C255.40 85.20 255.26 84.00 256.00 83.00Z"/><path d="M252.00 56.00 C252.20 54.40 253.40 52.80 255.00 51.00 C256.60 49.20 258.00 48.40 260.00 47.00 C262.00 45.60 263.20 44.70 265.00 44.00 C266.80 43.30 267.40 43.10 269.00 43.50 C270.60 43.90 271.40 44.60 273.00 46.00 C274.60 47.40 275.70 48.90 277.00 50.50 C278.30 52.10 279.50 52.50 279.50 54.00 C279.50 55.50 278.70 57.30 277.00 58.00 C275.30 58.70 273.40 57.80 271.00 57.50 C268.60 57.20 267.40 56.30 265.00 56.50 C262.60 56.70 261.20 58.00 259.00 58.50 C256.80 59.00 255.40 59.50 254.00 59.00 C252.60 58.50 251.80 57.60 252.00 56.00Z"/><path d="M259.00 61.80 C259.74 60.46 261.20 60.10 263.00 60.30 C264.80 60.50 266.20 61.70 268.00 62.80 C269.80 63.90 270.40 64.60 272.00 65.80 C273.60 67.00 274.56 67.66 276.00 68.80 C277.44 69.94 278.66 70.12 279.20 71.50 C279.74 72.88 279.54 74.46 278.70 75.70 C277.86 76.94 276.74 77.20 275.00 77.70 C273.26 78.20 271.80 78.40 270.00 78.20 C268.20 78.00 267.60 77.20 266.00 76.70 C264.40 76.20 263.14 76.64 262.00 75.70 C260.86 74.76 260.84 73.74 260.30 72.00 C259.76 70.26 259.56 69.04 259.30 67.00 C259.04 64.96 258.26 63.14 259.00 61.80Z"/><path d="M271.00 50.00 C272.10 49.06 274.20 49.84 276.00 50.30 C277.80 50.76 278.20 51.46 280.00 52.30 C281.80 53.14 283.00 53.50 285.00 54.50 C287.00 55.50 288.20 56.10 290.00 57.30 C291.80 58.50 292.64 59.06 294.00 60.50 C295.36 61.94 296.32 62.90 296.80 64.50 C297.28 66.10 297.16 67.08 296.40 68.50 C295.64 69.92 294.68 70.78 293.00 71.60 C291.32 72.42 290.00 72.60 288.00 72.60 C286.00 72.60 284.80 72.42 283.00 71.60 C281.20 70.78 280.40 70.02 279.00 68.50 C277.60 66.98 277.20 65.90 276.00 64.00 C274.80 62.10 274.10 60.80 273.00 59.00 C271.90 57.20 270.90 56.80 270.50 55.00 C270.10 53.20 269.90 50.94 271.00 50.00Z"/></g>
<g fill="#fff" filter="url(#mwht)"><path d="M223.00 72.50 C223.82 71.20 224.90 70.80 226.50 70.00 C228.10 69.20 229.10 68.90 231.00 68.50 C232.90 68.10 234.00 67.90 236.00 68.00 C238.00 68.10 239.50 68.20 241.00 69.00 C242.50 69.80 242.50 70.60 243.50 72.00 C244.50 73.40 244.80 74.40 246.00 76.00 C247.20 77.60 248.30 78.40 249.50 80.00 C250.70 81.60 251.30 82.40 252.00 84.00 C252.70 85.60 253.20 86.40 253.00 88.00 C252.80 89.60 252.10 90.50 251.00 92.00 C249.90 93.50 249.30 94.38 247.50 95.50 C245.70 96.62 244.20 97.10 242.00 97.60 C239.80 98.10 238.40 98.42 236.50 98.00 C234.60 97.58 234.00 96.80 232.50 95.50 C231.00 94.20 230.30 93.20 229.00 91.50 C227.70 89.80 227.08 88.90 226.00 87.00 C224.92 85.10 224.32 84.10 223.60 82.00 C222.88 79.90 222.52 78.40 222.40 76.50 C222.28 74.60 222.18 73.80 223.00 72.50Z"/><path d="M240.00 93.00 C241.10 92.00 243.00 91.24 245.00 90.50 C247.00 89.76 248.20 89.64 250.00 89.30 C251.80 88.96 252.54 88.66 254.00 88.80 C255.46 88.94 256.70 89.06 257.30 90.00 C257.90 90.94 257.86 92.18 257.00 93.50 C256.14 94.82 255.00 95.68 253.00 96.60 C251.00 97.52 249.20 97.86 247.00 98.10 C244.80 98.34 243.50 98.32 242.00 97.80 C240.50 97.28 239.90 96.46 239.50 95.50 C239.10 94.54 238.90 94.00 240.00 93.00Z"/><path d="M256.00 83.00 C256.74 82.00 257.80 82.10 259.00 82.00 C260.20 81.90 261.02 81.80 262.00 82.50 C262.98 83.20 263.58 84.00 263.90 85.50 C264.22 87.00 263.72 88.20 263.60 90.00 C263.48 91.80 263.92 93.08 263.30 94.50 C262.68 95.92 261.76 96.68 260.50 97.10 C259.24 97.52 258.00 97.62 257.00 96.60 C256.00 95.58 255.84 93.92 255.50 92.00 C255.16 90.08 255.20 88.80 255.30 87.00 C255.40 85.20 255.26 84.00 256.00 83.00Z"/><path d="M240.80 52.30 C241.60 51.42 242.56 51.70 244.00 51.60 C245.44 51.50 246.60 51.52 248.00 51.80 C249.40 52.08 250.00 52.50 251.00 53.00 C252.00 53.50 251.90 53.64 253.00 54.30 C254.10 54.96 255.30 55.50 256.50 56.30 C257.70 57.10 257.90 57.50 259.00 58.30 C260.10 59.10 261.16 59.26 262.00 60.30 C262.84 61.34 263.20 62.16 263.20 63.50 C263.20 64.84 262.54 65.50 262.00 67.00 C261.46 68.50 260.60 69.40 260.50 71.00 C260.40 72.60 261.14 73.40 261.50 75.00 C261.86 76.60 262.70 77.54 262.30 79.00 C261.90 80.46 260.76 81.80 259.50 82.30 C258.24 82.80 257.50 82.06 256.00 81.50 C254.50 80.94 253.60 80.36 252.00 79.50 C250.40 78.64 249.50 78.26 248.00 77.20 C246.50 76.14 245.70 75.34 244.50 74.20 C243.30 73.06 242.70 72.74 242.00 71.50 C241.30 70.26 241.34 69.90 241.00 68.00 C240.66 66.10 240.50 64.40 240.30 62.00 C240.10 59.60 239.90 57.94 240.00 56.00 C240.10 54.06 240.00 53.18 240.80 52.30Z"/><path d="M259.00 61.80 C259.74 60.46 261.20 60.10 263.00 60.30 C264.80 60.50 266.20 61.70 268.00 62.80 C269.80 63.90 270.40 64.60 272.00 65.80 C273.60 67.00 274.56 67.66 276.00 68.80 C277.44 69.94 278.66 70.12 279.20 71.50 C279.74 72.88 279.54 74.46 278.70 75.70 C277.86 76.94 276.74 77.20 275.00 77.70 C273.26 78.20 271.80 78.40 270.00 78.20 C268.20 78.00 267.60 77.20 266.00 76.70 C264.40 76.20 263.14 76.64 262.00 75.70 C260.86 74.76 260.84 73.74 260.30 72.00 C259.76 70.26 259.56 69.04 259.30 67.00 C259.04 64.96 258.26 63.14 259.00 61.80Z"/><path d="M271.00 50.00 C272.10 49.06 274.20 49.84 276.00 50.30 C277.80 50.76 278.20 51.46 280.00 52.30 C281.80 53.14 283.00 53.50 285.00 54.50 C287.00 55.50 288.20 56.10 290.00 57.30 C291.80 58.50 292.64 59.06 294.00 60.50 C295.36 61.94 296.32 62.90 296.80 64.50 C297.28 66.10 297.16 67.08 296.40 68.50 C295.64 69.92 294.68 70.78 293.00 71.60 C291.32 72.42 290.00 72.60 288.00 72.60 C286.00 72.60 284.80 72.42 283.00 71.60 C281.20 70.78 280.40 70.02 279.00 68.50 C277.60 66.98 277.20 65.90 276.00 64.00 C274.80 62.10 274.10 60.80 273.00 59.00 C271.90 57.20 270.90 56.80 270.50 55.00 C270.10 53.20 269.90 50.94 271.00 50.00Z"/><path d="M252.00 56.00 C252.20 54.40 253.40 52.80 255.00 51.00 C256.60 49.20 258.00 48.40 260.00 47.00 C262.00 45.60 263.20 44.70 265.00 44.00 C266.80 43.30 267.40 43.10 269.00 43.50 C270.60 43.90 271.40 44.60 273.00 46.00 C274.60 47.40 275.70 48.90 277.00 50.50 C278.30 52.10 279.50 52.50 279.50 54.00 C279.50 55.50 278.70 57.30 277.00 58.00 C275.30 58.70 273.40 57.80 271.00 57.50 C268.60 57.20 267.40 56.30 265.00 56.50 C262.60 56.70 261.20 58.00 259.00 58.50 C256.80 59.00 255.40 59.50 254.00 59.00 C252.60 58.50 251.80 57.60 252.00 56.00Z"/><path d="M232.50 46.50 C231.40 46.30 229.44 47.20 228.00 48.00 C226.56 48.80 226.14 49.20 225.30 50.50 C224.46 51.80 224.20 52.80 223.80 54.50 C223.40 56.20 223.30 57.30 223.30 59.00 C223.30 60.70 223.40 61.44 223.80 63.00 C224.20 64.56 224.60 66.16 225.30 66.80 C226.00 67.44 227.04 67.16 227.30 66.20 C227.56 65.24 226.76 63.84 226.60 62.00 C226.44 60.16 226.32 58.80 226.50 57.00 C226.68 55.20 226.90 54.24 227.50 53.00 C228.10 51.76 228.30 51.60 229.50 50.80 C230.70 50.00 232.90 49.86 233.50 49.00 C234.10 48.14 233.60 46.70 232.50 46.50Z"/><path d="M236.50 25.00 C237.84 24.16 239.20 23.58 241.00 23.30 C242.80 23.02 244.00 22.96 245.50 23.60 C247.00 24.24 247.70 25.02 248.50 26.50 C249.30 27.98 249.34 28.90 249.50 31.00 C249.66 33.10 249.70 34.90 249.30 37.00 C248.90 39.10 248.36 40.00 247.50 41.50 C246.64 43.00 245.64 43.40 245.00 44.50 C244.36 45.60 244.30 45.90 244.30 47.00 C244.30 48.10 245.66 49.30 245.00 50.00 C244.34 50.70 242.60 50.50 241.00 50.50 C239.40 50.50 238.60 50.30 237.00 50.00 C235.40 49.70 233.60 49.70 233.00 49.00 C232.40 48.30 233.40 47.40 234.00 46.50 C234.60 45.60 236.00 45.80 236.00 44.50 C236.00 43.20 234.54 42.30 234.00 40.00 C233.46 37.70 233.24 35.50 233.30 33.00 C233.36 30.50 233.66 29.10 234.30 27.50 C234.94 25.90 235.16 25.84 236.50 25.00Z"/></g>
<g fill="#eef" opacity="0.85"><ellipse cx="241.3" cy="34.5" rx="5.2" ry="7.5"/></g>
<g fill="none" stroke="#2b3a96" stroke-width="0.6"><path d="M223.00 72.50 C223.82 71.20 224.90 70.80 226.50 70.00 C228.10 69.20 229.10 68.90 231.00 68.50 C232.90 68.10 234.00 67.90 236.00 68.00 C238.00 68.10 239.50 68.20 241.00 69.00 C242.50 69.80 242.50 70.60 243.50 72.00 C244.50 73.40 244.80 74.40 246.00 76.00 C247.20 77.60 248.30 78.40 249.50 80.00 C250.70 81.60 251.30 82.40 252.00 84.00 C252.70 85.60 253.20 86.40 253.00 88.00 C252.80 89.60 252.10 90.50 251.00 92.00 C249.90 93.50 249.30 94.38 247.50 95.50 C245.70 96.62 244.20 97.10 242.00 97.60 C239.80 98.10 238.40 98.42 236.50 98.00 C234.60 97.58 234.00 96.80 232.50 95.50 C231.00 94.20 230.30 93.20 229.00 91.50 C227.70 89.80 227.08 88.90 226.00 87.00 C224.92 85.10 224.32 84.10 223.60 82.00 C222.88 79.90 222.52 78.40 222.40 76.50 C222.28 74.60 222.18 73.80 223.00 72.50Z"/><path d="M240.00 93.00 C241.10 92.00 243.00 91.24 245.00 90.50 C247.00 89.76 248.20 89.64 250.00 89.30 C251.80 88.96 252.54 88.66 254.00 88.80 C255.46 88.94 256.70 89.06 257.30 90.00 C257.90 90.94 257.86 92.18 257.00 93.50 C256.14 94.82 255.00 95.68 253.00 96.60 C251.00 97.52 249.20 97.86 247.00 98.10 C244.80 98.34 243.50 98.32 242.00 97.80 C240.50 97.28 239.90 96.46 239.50 95.50 C239.10 94.54 238.90 94.00 240.00 93.00Z"/><path d="M256.00 83.00 C256.74 82.00 257.80 82.10 259.00 82.00 C260.20 81.90 261.02 81.80 262.00 82.50 C262.98 83.20 263.58 84.00 263.90 85.50 C264.22 87.00 263.72 88.20 263.60 90.00 C263.48 91.80 263.92 93.08 263.30 94.50 C262.68 95.92 261.76 96.68 260.50 97.10 C259.24 97.52 258.00 97.62 257.00 96.60 C256.00 95.58 255.84 93.92 255.50 92.00 C255.16 90.08 255.20 88.80 255.30 87.00 C255.40 85.20 255.26 84.00 256.00 83.00Z"/><path d="M240.80 52.30 C241.60 51.42 242.56 51.70 244.00 51.60 C245.44 51.50 246.60 51.52 248.00 51.80 C249.40 52.08 250.00 52.50 251.00 53.00 C252.00 53.50 251.90 53.64 253.00 54.30 C254.10 54.96 255.30 55.50 256.50 56.30 C257.70 57.10 257.90 57.50 259.00 58.30 C260.10 59.10 261.16 59.26 262.00 60.30 C262.84 61.34 263.20 62.16 263.20 63.50 C263.20 64.84 262.54 65.50 262.00 67.00 C261.46 68.50 260.60 69.40 260.50 71.00 C260.40 72.60 261.14 73.40 261.50 75.00 C261.86 76.60 262.70 77.54 262.30 79.00 C261.90 80.46 260.76 81.80 259.50 82.30 C258.24 82.80 257.50 82.06 256.00 81.50 C254.50 80.94 253.60 80.36 252.00 79.50 C250.40 78.64 249.50 78.26 248.00 77.20 C246.50 76.14 245.70 75.34 244.50 74.20 C243.30 73.06 242.70 72.74 242.00 71.50 C241.30 70.26 241.34 69.90 241.00 68.00 C240.66 66.10 240.50 64.40 240.30 62.00 C240.10 59.60 239.90 57.94 240.00 56.00 C240.10 54.06 240.00 53.18 240.80 52.30Z"/><path d="M259.00 61.80 C259.74 60.46 261.20 60.10 263.00 60.30 C264.80 60.50 266.20 61.70 268.00 62.80 C269.80 63.90 270.40 64.60 272.00 65.80 C273.60 67.00 274.56 67.66 276.00 68.80 C277.44 69.94 278.66 70.12 279.20 71.50 C279.74 72.88 279.54 74.46 278.70 75.70 C277.86 76.94 276.74 77.20 275.00 77.70 C273.26 78.20 271.80 78.40 270.00 78.20 C268.20 78.00 267.60 77.20 266.00 76.70 C264.40 76.20 263.14 76.64 262.00 75.70 C260.86 74.76 260.84 73.74 260.30 72.00 C259.76 70.26 259.56 69.04 259.30 67.00 C259.04 64.96 258.26 63.14 259.00 61.80Z"/><path d="M271.00 50.00 C272.10 49.06 274.20 49.84 276.00 50.30 C277.80 50.76 278.20 51.46 280.00 52.30 C281.80 53.14 283.00 53.50 285.00 54.50 C287.00 55.50 288.20 56.10 290.00 57.30 C291.80 58.50 292.64 59.06 294.00 60.50 C295.36 61.94 296.32 62.90 296.80 64.50 C297.28 66.10 297.16 67.08 296.40 68.50 C295.64 69.92 294.68 70.78 293.00 71.60 C291.32 72.42 290.00 72.60 288.00 72.60 C286.00 72.60 284.80 72.42 283.00 71.60 C281.20 70.78 280.40 70.02 279.00 68.50 C277.60 66.98 277.20 65.90 276.00 64.00 C274.80 62.10 274.10 60.80 273.00 59.00 C271.90 57.20 270.90 56.80 270.50 55.00 C270.10 53.20 269.90 50.94 271.00 50.00Z"/><path d="M252.00 56.00 C252.20 54.40 253.40 52.80 255.00 51.00 C256.60 49.20 258.00 48.40 260.00 47.00 C262.00 45.60 263.20 44.70 265.00 44.00 C266.80 43.30 267.40 43.10 269.00 43.50 C270.60 43.90 271.40 44.60 273.00 46.00 C274.60 47.40 275.70 48.90 277.00 50.50 C278.30 52.10 279.50 52.50 279.50 54.00 C279.50 55.50 278.70 57.30 277.00 58.00 C275.30 58.70 273.40 57.80 271.00 57.50 C268.60 57.20 267.40 56.30 265.00 56.50 C262.60 56.70 261.20 58.00 259.00 58.50 C256.80 59.00 255.40 59.50 254.00 59.00 C252.60 58.50 251.80 57.60 252.00 56.00Z"/><path d="M232.50 46.50 C231.40 46.30 229.44 47.20 228.00 48.00 C226.56 48.80 226.14 49.20 225.30 50.50 C224.46 51.80 224.20 52.80 223.80 54.50 C223.40 56.20 223.30 57.30 223.30 59.00 C223.30 60.70 223.40 61.44 223.80 63.00 C224.20 64.56 224.60 66.16 225.30 66.80 C226.00 67.44 227.04 67.16 227.30 66.20 C227.56 65.24 226.76 63.84 226.60 62.00 C226.44 60.16 226.32 58.80 226.50 57.00 C226.68 55.20 226.90 54.24 227.50 53.00 C228.10 51.76 228.30 51.60 229.50 50.80 C230.70 50.00 232.90 49.86 233.50 49.00 C234.10 48.14 233.60 46.70 232.50 46.50Z"/><path d="M236.50 25.00 C237.84 24.16 239.20 23.58 241.00 23.30 C242.80 23.02 244.00 22.96 245.50 23.60 C247.00 24.24 247.70 25.02 248.50 26.50 C249.30 27.98 249.34 28.90 249.50 31.00 C249.66 33.10 249.70 34.90 249.30 37.00 C248.90 39.10 248.36 40.00 247.50 41.50 C246.64 43.00 245.64 43.40 245.00 44.50 C244.36 45.60 244.30 45.90 244.30 47.00 C244.30 48.10 245.66 49.30 245.00 50.00 C244.34 50.70 242.60 50.50 241.00 50.50 C239.40 50.50 238.60 50.30 237.00 50.00 C235.40 49.70 233.60 49.70 233.00 49.00 C232.40 48.30 233.40 47.40 234.00 46.50 C234.60 45.60 236.00 45.80 236.00 44.50 C236.00 43.20 234.54 42.30 234.00 40.00 C233.46 37.70 233.24 35.50 233.30 33.00 C233.36 30.50 233.66 29.10 234.30 27.50 C234.94 25.90 235.16 25.84 236.50 25.00Z"/></g>
<g fill="#fff"><path d="M229.00 50.50 C230.28 49.50 232.10 50.00 234.00 50.00 C235.90 50.00 237.10 49.90 238.50 50.50 C239.90 51.10 240.46 51.10 241.00 53.00 C241.54 54.90 241.34 57.40 241.20 60.00 C241.06 62.60 241.14 64.48 240.30 66.00 C239.46 67.52 238.66 67.20 237.00 67.60 C235.34 68.00 233.74 68.22 232.00 68.00 C230.26 67.78 229.18 67.70 228.30 66.50 C227.42 65.30 227.74 64.30 227.60 62.00 C227.46 59.70 227.32 57.30 227.60 55.00 C227.88 52.70 227.72 51.50 229.00 50.50Z"/></g>
</g></g>
<text x="307.00" y="77.54" font-size="5.376" fill="#222" textLength="10.67" lengthAdjust="spacingAndGlyphs">Cells</text>
<circle cx="308.00" cy="80.80" r="0.85" fill="#b4b4b4"/>
<text x="311.00" y="82.65" font-size="5.152" fill="#222" textLength="7.15" lengthAdjust="spacingAndGlyphs">Ctrl</text>
<circle cx="308.00" cy="85.50" r="1.00" fill="#c32a2a"/>
<text x="311.00" y="87.35" font-size="5.152" fill="#222" textLength="20.20" lengthAdjust="spacingAndGlyphs">Untreated</text>
<circle cx="308.00" cy="90.60" r="1.00" fill="#2b3a96"/>
<text x="311.00" y="92.45" font-size="5.152" fill="#222" textLength="15.68" lengthAdjust="spacingAndGlyphs">Treated</text>
<rect x="27.90" y="233.30" width="9.00" height="25.90" fill="#bf4322"/>
<rect x="37.20" y="245.30" width="8.40" height="13.90" fill="#4a77c4"/>
<rect x="47.10" y="223.00" width="8.80" height="36.20" fill="#bf4322"/>
<rect x="56.20" y="244.10" width="8.60" height="15.10" fill="#4a77c4"/>
<rect x="66.60" y="247.60" width="8.50" height="11.60" fill="#bf4322"/>
<rect x="75.40" y="230.30" width="8.50" height="28.90" fill="#4a77c4"/>
<rect x="85.80" y="241.90" width="8.80" height="17.30" fill="#bf4322"/>
<rect x="95.00" y="234.50" width="8.60" height="24.70" fill="#4a77c4"/>
<rect x="105.30" y="241.30" width="8.90" height="17.90" fill="#bf4322"/>
<rect x="114.20" y="250.20" width="8.60" height="9.00" fill="#4a77c4"/>
<rect x="125.00" y="244.40" width="8.30" height="14.80" fill="#bf4322"/>
<rect x="133.40" y="255.20" width="8.70" height="4.00" fill="#4a77c4"/>
<line x1="32.20" y1="226.70" x2="32.20" y2="239.10" stroke="#111" stroke-width="0.8"/>
<line x1="31.30" y1="226.70" x2="33.10" y2="226.70" stroke="#111" stroke-width="0.7"/>
<line x1="31.30" y1="239.10" x2="33.10" y2="239.10" stroke="#111" stroke-width="0.7"/>
<line x1="41.20" y1="239.10" x2="41.20" y2="259.00" stroke="#111" stroke-width="0.8"/>
<line x1="40.30" y1="239.10" x2="42.10" y2="239.10" stroke="#111" stroke-width="0.7"/>
<line x1="40.30" y1="259.00" x2="42.10" y2="259.00" stroke="#111" stroke-width="0.7"/>
<line x1="51.70" y1="207.00" x2="51.70" y2="239.10" stroke="#111" stroke-width="0.8"/>
<line x1="50.80" y1="207.00" x2="52.60" y2="207.00" stroke="#111" stroke-width="0.7"/>
<line x1="50.80" y1="239.10" x2="52.60" y2="239.10" stroke="#111" stroke-width="0.7"/>
<line x1="60.50" y1="236.40" x2="60.50" y2="252.40" stroke="#111" stroke-width="0.8"/>
<line x1="59.60" y1="236.40" x2="61.40" y2="236.40" stroke="#111" stroke-width="0.7"/>
<line x1="59.60" y1="252.40" x2="61.40" y2="252.40" stroke="#111" stroke-width="0.7"/>
<line x1="70.70" y1="243.10" x2="70.70" y2="249.00" stroke="#111" stroke-width="0.8"/>
<line x1="69.80" y1="243.10" x2="71.60" y2="243.10" stroke="#111" stroke-width="0.7"/>
<line x1="69.80" y1="249.00" x2="71.60" y2="249.00" stroke="#111" stroke-width="0.7"/>
<line x1="79.70" y1="221.30" x2="79.70" y2="239.80" stroke="#111" stroke-width="0.8"/>
<line x1="78.80" y1="221.30" x2="80.60" y2="221.30" stroke="#111" stroke-width="0.7"/>
<line x1="78.80" y1="239.80" x2="80.60" y2="239.80" stroke="#111" stroke-width="0.7"/>
<line x1="90.20" y1="237.00" x2="90.20" y2="248.00" stroke="#111" stroke-width="0.8"/>
<line x1="89.30" y1="237.00" x2="91.10" y2="237.00" stroke="#111" stroke-width="0.7"/>
<line x1="89.30" y1="248.00" x2="91.10" y2="248.00" stroke="#111" stroke-width="0.7"/>
<line x1="99.30" y1="230.30" x2="99.30" y2="239.00" stroke="#111" stroke-width="0.8"/>
<line x1="98.40" y1="230.30" x2="100.20" y2="230.30" stroke="#111" stroke-width="0.7"/>
<line x1="98.40" y1="239.00" x2="100.20" y2="239.00" stroke="#111" stroke-width="0.7"/>
<line x1="109.70" y1="237.40" x2="109.70" y2="246.30" stroke="#111" stroke-width="0.8"/>
<line x1="108.80" y1="237.40" x2="110.60" y2="237.40" stroke="#111" stroke-width="0.7"/>
<line x1="108.80" y1="246.30" x2="110.60" y2="246.30" stroke="#111" stroke-width="0.7"/>
<line x1="118.50" y1="246.30" x2="118.50" y2="254.70" stroke="#111" stroke-width="0.8"/>
<line x1="117.60" y1="246.30" x2="119.40" y2="246.30" stroke="#111" stroke-width="0.7"/>
<line x1="117.60" y1="254.70" x2="119.40" y2="254.70" stroke="#111" stroke-width="0.7"/>
<line x1="128.90" y1="236.50" x2="128.90" y2="252.70" stroke="#111" stroke-width="0.8"/>
<line x1="128.00" y1="236.50" x2="129.80" y2="236.50" stroke="#111" stroke-width="0.7"/>
<line x1="128.00" y1="252.70" x2="129.80" y2="252.70" stroke="#111" stroke-width="0.7"/>
<line x1="137.70" y1="251.40" x2="137.70" y2="258.00" stroke="#111" stroke-width="0.8"/>
<line x1="136.80" y1="251.40" x2="138.60" y2="251.40" stroke="#111" stroke-width="0.7"/>
<line x1="136.80" y1="258.00" x2="138.60" y2="258.00" stroke="#111" stroke-width="0.7"/>
<line x1="26.20" y1="239.30" x2="35.40" y2="239.30" stroke="#111" stroke-width="0.8"/>
<line x1="39.40" y1="239.30" x2="55.60" y2="239.30" stroke="#111" stroke-width="0.8"/>
<line x1="58.50" y1="239.30" x2="72.60" y2="239.30" stroke="#111" stroke-width="0.8"/>
<line x1="75.80" y1="239.30" x2="93.10" y2="239.30" stroke="#111" stroke-width="0.8"/>
<line x1="95.40" y1="239.30" x2="113.30" y2="239.30" stroke="#111" stroke-width="0.8"/>
<line x1="116.20" y1="239.30" x2="131.80" y2="239.30" stroke="#111" stroke-width="0.8"/>
<line x1="136.00" y1="239.30" x2="142.60" y2="239.30" stroke="#111" stroke-width="0.8"/>
<circle cx="32.20" cy="226.10" r="0.85" fill="#9b60c6"/>
<circle cx="32.20" cy="228.00" r="0.85" fill="#e0686a"/>
<circle cx="32.20" cy="229.80" r="0.85" fill="#4caf6c"/>
<circle cx="32.20" cy="237.00" r="0.85" fill="#4da0ea"/>
<circle cx="32.20" cy="246.90" r="0.85" fill="#a29a1c"/>
<circle cx="41.20" cy="222.10" r="0.90" fill="#4da0ea"/>
<circle cx="41.20" cy="240.70" r="0.70" fill="#a29a1c"/>
<circle cx="41.20" cy="250.90" r="0.85" fill="#e0686a"/>
<circle cx="41.20" cy="256.20" r="0.90" fill="#4caf6c"/>
<circle cx="41.20" cy="258.50" r="0.80" fill="#9b60c6"/>
<circle cx="51.70" cy="219.80" r="0.95" fill="#4caf6c"/>
<circle cx="51.70" cy="228.30" r="0.95" fill="#e0686a"/>
<circle cx="51.70" cy="250.30" r="0.90" fill="#a29a1c"/>
<circle cx="51.70" cy="254.40" r="0.90" fill="#9b60c6"/>
<circle cx="60.50" cy="221.70" r="1.00" fill="#4da0ea"/>
<circle cx="60.50" cy="227.90" r="0.95" fill="#e0686a"/>
<circle cx="60.50" cy="256.10" r="0.90" fill="#a29a1c"/>
<circle cx="60.50" cy="258.00" r="0.90" fill="#4caf6c"/>
<circle cx="70.70" cy="243.40" r="0.80" fill="#4caf6c"/>
<circle cx="70.70" cy="247.60" r="0.80" fill="#9b60c6"/>
<circle cx="70.70" cy="253.00" r="1.40" fill="#4da0ea"/>
<circle cx="79.70" cy="194.40" r="1.80" fill="#9b60c6"/>
<circle cx="79.70" cy="234.50" r="0.95" fill="#e0686a"/>
<circle cx="79.70" cy="245.50" r="0.95" fill="#4caf6c"/>
<circle cx="90.20" cy="223.40" r="1.60" fill="#a29a1c"/>
<circle cx="90.20" cy="243.60" r="0.85" fill="#9b60c6"/>
<circle cx="90.20" cy="247.30" r="0.90" fill="#4caf6c"/>
<circle cx="90.20" cy="257.60" r="1.70" fill="#4da0ea"/>
<circle cx="99.30" cy="222.00" r="1.00" fill="#a29a1c"/>
<circle cx="99.30" cy="230.80" r="0.90" fill="#e0686a"/>
<circle cx="99.30" cy="232.00" r="0.80" fill="#4caf6c"/>
<circle cx="99.30" cy="243.10" r="0.90" fill="#4da0ea"/>
<circle cx="99.30" cy="244.80" r="0.85" fill="#9b60c6"/>
<circle cx="109.70" cy="232.00" r="0.95" fill="#4caf6c"/>
<circle cx="109.70" cy="233.60" r="0.80" fill="#a29a1c"/>
<circle cx="109.70" cy="244.00" r="0.80" fill="#9b60c6"/>
<circle cx="109.70" cy="255.60" r="1.50" fill="#4da0ea"/>
<circle cx="118.50" cy="232.80" r="0.80" fill="#a29a1c"/>
<circle cx="118.50" cy="249.40" r="0.80" fill="#4da0ea"/>
<circle cx="118.50" cy="254.90" r="0.90" fill="#e0686a"/>
<circle cx="118.50" cy="257.60" r="0.90" fill="#4caf6c"/>
<circle cx="128.90" cy="213.00" r="0.90" fill="#e0686a"/>
<circle cx="128.90" cy="242.30" r="0.85" fill="#a29a1c"/>
<circle cx="128.90" cy="249.10" r="0.90" fill="#4caf6c"/>
<circle cx="128.90" cy="258.70" r="0.80" fill="#9b60c6"/>
<circle cx="137.70" cy="251.40" r="0.95" fill="#e0686a"/>
<circle cx="137.70" cy="256.40" r="0.90" fill="#4caf6c"/>
<circle cx="137.70" cy="258.50" r="0.80" fill="#9b60c6"/>
<line x1="26.60" y1="157.80" x2="26.60" y2="259.80" stroke="#111" stroke-width="1.3"/>
<line x1="24.30" y1="258.90" x2="26.60" y2="258.90" stroke="#111" stroke-width="0.8"/>
<text x="20.30" y="260.88" font-size="5.488" text-anchor="end" fill="#333" textLength="2.72" lengthAdjust="spacingAndGlyphs">0</text>
<line x1="24.30" y1="219.50" x2="26.60" y2="219.50" stroke="#111" stroke-width="0.8"/>
<text x="20.30" y="221.48" font-size="5.488" text-anchor="end" fill="#333" textLength="2.72" lengthAdjust="spacingAndGlyphs">2</text>
<line x1="24.30" y1="180.10" x2="26.60" y2="180.10" stroke="#111" stroke-width="0.8"/>
<text x="20.30" y="182.08" font-size="5.488" text-anchor="end" fill="#333" textLength="2.72" lengthAdjust="spacingAndGlyphs">4</text>
<line x1="27.30" y1="260.60" x2="45.80" y2="260.60" stroke="#555" stroke-width="1.0"/>
<line x1="46.80" y1="260.60" x2="65.20" y2="260.60" stroke="#555" stroke-width="1.0"/>
<line x1="66.20" y1="260.60" x2="84.20" y2="260.60" stroke="#555" stroke-width="1.0"/>
<line x1="85.40" y1="260.60" x2="103.90" y2="260.60" stroke="#555" stroke-width="1.0"/>
<line x1="104.90" y1="260.60" x2="123.10" y2="260.60" stroke="#555" stroke-width="1.0"/>
<line x1="124.40" y1="260.60" x2="142.40" y2="260.60" stroke="#555" stroke-width="1.0"/>
<text x="36.20" y="268.08" font-size="5.488" text-anchor="middle" fill="#333" textLength="13.34" lengthAdjust="spacingAndGlyphs">LMPP</text>
<text x="56.20" y="268.08" font-size="5.488" text-anchor="middle" fill="#333" textLength="10.07" lengthAdjust="spacingAndGlyphs">MLP</text>
<text x="75.20" y="268.08" font-size="5.488" text-anchor="middle" fill="#333" textLength="10.62" lengthAdjust="spacingAndGlyphs">MEP</text>
<text x="94.60" y="268.08" font-size="5.488" text-anchor="middle" fill="#333" textLength="11.71" lengthAdjust="spacingAndGlyphs">Neu2</text>
<text x="114.00" y="268.08" font-size="5.488" text-anchor="middle" fill="#333" textLength="10.35" lengthAdjust="spacingAndGlyphs">MD1</text>
<text x="133.60" y="268.08" font-size="5.488" text-anchor="middle" fill="#333" textLength="10.35" lengthAdjust="spacingAndGlyphs">MD2</text>
<text x="10.30" y="212.00" font-size="5.824" text-anchor="middle" fill="#333" font-style="italic" textLength="12.14" lengthAdjust="spacingAndGlyphs" transform="rotate(-90 10.30 209.90)">Ratio</text>
<path d="M48.10 160.50 V159.50 H64.80 V160.50" fill="none" stroke="#222" stroke-width="0.8"/>
<text x="56.45" y="157.57" font-size="4.928" text-anchor="middle" fill="#333" textLength="17.50" lengthAdjust="spacingAndGlyphs"><tspan font-style="italic">P</tspan> = 0.07</text>
<path d="M86.60 160.50 V159.50 H103.20 V160.50" fill="none" stroke="#222" stroke-width="0.8"/>
<text x="94.90" y="157.57" font-size="4.928" text-anchor="middle" fill="#333" textLength="17.40" lengthAdjust="spacingAndGlyphs"><tspan font-style="italic">P</tspan> = 0.04</text>
<path d="M125.00 160.50 V159.50 H141.40 V160.50" fill="none" stroke="#222" stroke-width="0.8"/>
<text x="133.20" y="157.57" font-size="4.928" text-anchor="middle" fill="#333" textLength="17.20" lengthAdjust="spacingAndGlyphs"><tspan font-style="italic">P</tspan> = 0.09</text>
<path d="M29.30 185.60 V184.60 H45.60 V185.60" fill="none" stroke="#222" stroke-width="0.8"/>
<text x="37.45" y="182.67" font-size="4.928" text-anchor="middle" fill="#333" textLength="17.10" lengthAdjust="spacingAndGlyphs"><tspan font-style="italic">P</tspan> = 0.13</text>
<path d="M66.50 185.60 V184.60 H83.10 V185.60" fill="none" stroke="#222" stroke-width="0.8"/>
<text x="74.80" y="182.67" font-size="4.928" text-anchor="middle" fill="#333" textLength="17.40" lengthAdjust="spacingAndGlyphs"><tspan font-style="italic">P</tspan> = 0.08</text>
<path d="M106.80 185.60 V184.60 H123.50 V185.60" fill="none" stroke="#222" stroke-width="0.8"/>
<text x="115.15" y="182.67" font-size="4.928" text-anchor="middle" fill="#333" textLength="17.50" lengthAdjust="spacingAndGlyphs"><tspan font-style="italic">P</tspan> = 0.09</text>
<circle cx="51.80" cy="163.60" r="3.05" fill="#4da0ea"/>
<text x="146.00" y="165.58" font-size="5.488" fill="#333" font-style="italic">-log<tspan font-size="3.8" dy="2.2">10</tspan><tspan dy="-2.2">(</tspan><tspan font-style="italic">P</tspan>)</text>
<circle cx="149.10" cy="175.20" r="1.85" fill="#111"/>
<text x="153.60" y="177.14" font-size="5.376" fill="#333" textLength="5.34" lengthAdjust="spacingAndGlyphs">25</text>
<circle cx="149.10" cy="180.80" r="2.10" fill="#111"/>
<text x="153.60" y="182.74" font-size="5.376" fill="#333" textLength="5.34" lengthAdjust="spacingAndGlyphs">50</text>
<circle cx="149.10" cy="186.50" r="2.30" fill="#111"/>
<text x="153.60" y="188.44" font-size="5.376" fill="#333" textLength="5.34" lengthAdjust="spacingAndGlyphs">75</text>
<circle cx="149.10" cy="192.20" r="2.60" fill="#111"/>
<text x="153.60" y="194.14" font-size="5.376" fill="#333" textLength="8.01" lengthAdjust="spacingAndGlyphs">100</text>
<text x="146.20" y="203.94" font-size="5.376" fill="#333" textLength="15.70" lengthAdjust="spacingAndGlyphs">Patients</text>
<circle cx="149.10" cy="207.80" r="1.35" fill="#e0686a"/>
<text x="153.60" y="209.74" font-size="5.376" fill="#333" textLength="5.87" lengthAdjust="spacingAndGlyphs">P1</text>
<circle cx="149.10" cy="213.30" r="1.35" fill="#a29a1c"/>
<text x="153.60" y="215.24" font-size="5.376" fill="#333" textLength="5.87" lengthAdjust="spacingAndGlyphs">P2</text>
<circle cx="149.10" cy="218.70" r="1.35" fill="#4caf6c"/>
<text x="153.60" y="220.64" font-size="5.376" fill="#333" textLength="5.87" lengthAdjust="spacingAndGlyphs">P3</text>
<circle cx="149.10" cy="224.30" r="1.35" fill="#4da0ea"/>
<text x="153.60" y="226.24" font-size="5.376" fill="#333" textLength="5.87" lengthAdjust="spacingAndGlyphs">P8</text>
<circle cx="149.10" cy="229.60" r="1.35" fill="#9b60c6"/>
<text x="153.60" y="231.54" font-size="5.376" fill="#333" textLength="5.87" lengthAdjust="spacingAndGlyphs">P9</text>
<text x="146.20" y="241.84" font-size="5.376" fill="#333" textLength="10.67" lengthAdjust="spacingAndGlyphs">Cells</text>
<rect x="145.80" y="245.30" width="4.90" height="4.30" fill="#bf4322"/>
<text x="153.60" y="249.44" font-size="5.376" fill="#333" textLength="20.40" lengthAdjust="spacingAndGlyphs">Untreated</text>
<rect x="145.80" y="251.10" width="4.90" height="4.50" fill="#4a77c4"/>
<text x="153.60" y="255.34" font-size="5.376" fill="#333" textLength="16.36" lengthAdjust="spacingAndGlyphs">Treated</text>
<text x="232.50" y="142.42" font-size="5.32" text-anchor="middle" fill="#222" textLength="33.53" lengthAdjust="spacingAndGlyphs">Down-regulated</text>
<text x="232.50" y="147.52" font-size="5.32" text-anchor="middle" fill="#222" textLength="25.87" lengthAdjust="spacingAndGlyphs">in Untreated</text>
<text x="278.80" y="142.42" font-size="5.32" text-anchor="middle" fill="#222" textLength="27.46" lengthAdjust="spacingAndGlyphs">Up-regulated</text>
<text x="278.80" y="147.52" font-size="5.32" text-anchor="middle" fill="#222" textLength="25.87" lengthAdjust="spacingAndGlyphs">in Untreated</text>
<line x1="215.50" y1="151.30" x2="252.50" y2="151.30" stroke="#111" stroke-width="1.0"/>
<path d="M213.6 151.3 L217.6 149.4 L217.6 153.2Z" fill="#111"/>
<line x1="260.50" y1="151.30" x2="295.80" y2="151.30" stroke="#111" stroke-width="1.0"/>
<path d="M297.7 151.3 L293.7 149.4 L293.7 153.2Z" fill="#111"/>
<text x="232.50" y="158.22" font-size="5.32" text-anchor="middle" fill="#4a66b6" textLength="40.40" lengthAdjust="spacingAndGlyphs">response to steroid</text>
<text x="232.50" y="163.92" font-size="5.32" text-anchor="middle" fill="#4a66b6" textLength="18.75" lengthAdjust="spacingAndGlyphs">hormone</text>
<text x="278.80" y="158.22" font-size="5.32" text-anchor="middle" fill="#d2403e" textLength="45.14" lengthAdjust="spacingAndGlyphs">interferon-γ-mediated</text>
<text x="278.80" y="163.92" font-size="5.32" text-anchor="middle" fill="#d2403e" textLength="37.76" lengthAdjust="spacingAndGlyphs">signaling pathway</text>
<circle cx="250.37" cy="254.90" r="0.95" fill="#c2c2c2"/>
<circle cx="257.74" cy="250.63" r="0.95" fill="#c2c2c2"/>
<circle cx="249.89" cy="248.02" r="0.95" fill="#c2c2c2"/>
<circle cx="255.70" cy="251.06" r="0.95" fill="#c2c2c2"/>
<circle cx="250.41" cy="247.18" r="0.95" fill="#c2c2c2"/>
<circle cx="250.05" cy="249.12" r="0.95" fill="#c2c2c2"/>
<circle cx="263.06" cy="252.75" r="0.95" fill="#c2c2c2"/>
<circle cx="260.52" cy="246.69" r="0.95" fill="#c2c2c2"/>
<circle cx="254.67" cy="252.02" r="0.95" fill="#c2c2c2"/>
<circle cx="256.44" cy="251.21" r="0.95" fill="#c2c2c2"/>
<circle cx="256.67" cy="246.85" r="0.95" fill="#c2c2c2"/>
<circle cx="257.26" cy="246.58" r="0.95" fill="#c2c2c2"/>
<circle cx="259.19" cy="250.61" r="0.95" fill="#c2c2c2"/>
<circle cx="247.77" cy="251.13" r="0.95" fill="#c2c2c2"/>
<circle cx="259.23" cy="252.25" r="0.95" fill="#c2c2c2"/>
<circle cx="249.22" cy="250.55" r="0.95" fill="#c2c2c2"/>
<circle cx="256.01" cy="248.89" r="0.95" fill="#c2c2c2"/>
<circle cx="255.78" cy="252.88" r="0.95" fill="#c2c2c2"/>
<circle cx="254.67" cy="248.99" r="0.95" fill="#c2c2c2"/>
<circle cx="259.05" cy="246.95" r="0.95" fill="#c2c2c2"/>
<circle cx="256.48" cy="254.17" r="0.95" fill="#c2c2c2"/>
<circle cx="251.37" cy="249.89" r="0.95" fill="#c2c2c2"/>
<circle cx="253.68" cy="248.25" r="0.95" fill="#c2c2c2"/>
<circle cx="260.38" cy="255.42" r="0.95" fill="#c2c2c2"/>
<circle cx="253.23" cy="250.00" r="0.95" fill="#c2c2c2"/>
<circle cx="261.81" cy="253.54" r="0.95" fill="#c2c2c2"/>
<circle cx="258.87" cy="248.81" r="0.95" fill="#c2c2c2"/>
<circle cx="259.53" cy="255.27" r="0.95" fill="#c2c2c2"/>
<circle cx="258.15" cy="253.35" r="0.95" fill="#c2c2c2"/>
<circle cx="258.55" cy="247.24" r="0.95" fill="#c2c2c2"/>
<circle cx="258.34" cy="246.86" r="0.95" fill="#c2c2c2"/>
<circle cx="256.84" cy="251.50" r="0.95" fill="#c2c2c2"/>
<circle cx="253.25" cy="250.46" r="0.95" fill="#c2c2c2"/>
<circle cx="258.72" cy="247.52" r="0.95" fill="#c2c2c2"/>
<circle cx="262.95" cy="252.29" r="0.95" fill="#c2c2c2"/>
<circle cx="259.58" cy="248.28" r="0.95" fill="#c2c2c2"/>
<circle cx="259.21" cy="248.81" r="0.95" fill="#c2c2c2"/>
<circle cx="254.49" cy="254.53" r="0.95" fill="#c2c2c2"/>
<circle cx="257.13" cy="254.25" r="0.95" fill="#c2c2c2"/>
<circle cx="260.47" cy="252.27" r="0.95" fill="#c2c2c2"/>
<circle cx="256.58" cy="249.06" r="0.95" fill="#c2c2c2"/>
<circle cx="251.93" cy="246.98" r="0.95" fill="#c2c2c2"/>
<circle cx="261.13" cy="248.56" r="0.95" fill="#c2c2c2"/>
<circle cx="259.26" cy="251.89" r="0.95" fill="#c2c2c2"/>
<circle cx="252.50" cy="255.22" r="0.95" fill="#c2c2c2"/>
<circle cx="259.65" cy="250.80" r="0.95" fill="#c2c2c2"/>
<circle cx="251.83" cy="247.73" r="0.95" fill="#c2c2c2"/>
<circle cx="263.12" cy="248.62" r="0.95" fill="#c2c2c2"/>
<circle cx="251.38" cy="248.07" r="0.95" fill="#c2c2c2"/>
<circle cx="255.27" cy="248.13" r="0.95" fill="#c2c2c2"/>
<circle cx="245.10" cy="255.14" r="0.95" fill="#c2c2c2"/>
<circle cx="260.62" cy="250.22" r="0.95" fill="#c2c2c2"/>
<circle cx="251.78" cy="247.27" r="0.95" fill="#c2c2c2"/>
<circle cx="258.84" cy="252.85" r="0.95" fill="#c2c2c2"/>
<circle cx="255.62" cy="251.85" r="0.95" fill="#c2c2c2"/>
<circle cx="259.32" cy="246.94" r="0.95" fill="#c2c2c2"/>
<circle cx="262.55" cy="248.42" r="0.95" fill="#c2c2c2"/>
<circle cx="247.62" cy="252.01" r="0.95" fill="#c2c2c2"/>
<circle cx="252.72" cy="248.91" r="0.95" fill="#c2c2c2"/>
<circle cx="258.70" cy="246.45" r="0.95" fill="#c2c2c2"/>
<circle cx="254.46" cy="248.80" r="0.95" fill="#c2c2c2"/>
<circle cx="254.47" cy="247.94" r="0.95" fill="#c2c2c2"/>
<circle cx="256.54" cy="249.73" r="0.95" fill="#c2c2c2"/>
<circle cx="253.80" cy="249.67" r="0.95" fill="#c2c2c2"/>
<circle cx="254.93" cy="254.59" r="0.95" fill="#c2c2c2"/>
<circle cx="262.68" cy="252.73" r="0.95" fill="#c2c2c2"/>
<circle cx="255.18" cy="251.74" r="0.95" fill="#c2c2c2"/>
<circle cx="256.78" cy="246.47" r="0.95" fill="#c2c2c2"/>
<circle cx="256.95" cy="254.76" r="0.95" fill="#c2c2c2"/>
<circle cx="252.42" cy="246.50" r="0.95" fill="#c2c2c2"/>
<circle cx="248.60" cy="249.27" r="0.95" fill="#c2c2c2"/>
<circle cx="256.83" cy="255.59" r="0.95" fill="#c2c2c2"/>
<circle cx="261.15" cy="253.15" r="0.95" fill="#c2c2c2"/>
<circle cx="258.63" cy="254.67" r="0.95" fill="#c2c2c2"/>
<circle cx="255.42" cy="253.68" r="0.95" fill="#c2c2c2"/>
<circle cx="248.85" cy="254.81" r="0.95" fill="#c2c2c2"/>
<circle cx="251.82" cy="254.68" r="0.95" fill="#c2c2c2"/>
<circle cx="261.61" cy="254.40" r="0.95" fill="#c2c2c2"/>
<circle cx="248.94" cy="254.33" r="0.95" fill="#c2c2c2"/>
<circle cx="260.05" cy="251.63" r="0.95" fill="#c2c2c2"/>
<circle cx="252.81" cy="251.72" r="0.95" fill="#c2c2c2"/>
<circle cx="252.81" cy="251.96" r="0.95" fill="#c2c2c2"/>
<circle cx="261.75" cy="255.54" r="0.95" fill="#c2c2c2"/>
<circle cx="259.17" cy="254.48" r="0.95" fill="#c2c2c2"/>
<circle cx="255.38" cy="253.14" r="0.95" fill="#c2c2c2"/>
<circle cx="251.48" cy="251.70" r="0.95" fill="#c2c2c2"/>
<circle cx="259.21" cy="253.28" r="0.95" fill="#c2c2c2"/>
<circle cx="262.13" cy="250.77" r="0.95" fill="#c2c2c2"/>
<circle cx="257.16" cy="248.44" r="0.95" fill="#c2c2c2"/>
<circle cx="254.28" cy="252.01" r="0.95" fill="#c2c2c2"/>
<circle cx="250.89" cy="254.86" r="0.95" fill="#c2c2c2"/>
<circle cx="255.97" cy="249.10" r="0.95" fill="#c2c2c2"/>
<circle cx="256.69" cy="252.61" r="0.95" fill="#c2c2c2"/>
<circle cx="256.82" cy="254.72" r="0.95" fill="#c2c2c2"/>
<circle cx="258.68" cy="252.44" r="0.95" fill="#c2c2c2"/>
<circle cx="259.46" cy="252.49" r="0.95" fill="#c2c2c2"/>
<circle cx="257.55" cy="253.80" r="0.95" fill="#c2c2c2"/>
<circle cx="260.63" cy="254.80" r="0.95" fill="#c2c2c2"/>
<circle cx="259.31" cy="251.72" r="0.95" fill="#c2c2c2"/>
<circle cx="252.90" cy="249.24" r="0.95" fill="#c2c2c2"/>
<circle cx="259.53" cy="254.08" r="0.95" fill="#c2c2c2"/>
<circle cx="260.07" cy="254.19" r="0.95" fill="#c2c2c2"/>
<circle cx="253.28" cy="248.87" r="0.95" fill="#c2c2c2"/>
<circle cx="252.49" cy="248.29" r="0.95" fill="#c2c2c2"/>
<circle cx="257.13" cy="250.15" r="0.95" fill="#c2c2c2"/>
<circle cx="252.22" cy="249.23" r="0.95" fill="#c2c2c2"/>
<circle cx="252.19" cy="254.10" r="0.95" fill="#c2c2c2"/>
<circle cx="261.02" cy="246.99" r="0.95" fill="#c2c2c2"/>
<circle cx="255.43" cy="246.59" r="0.95" fill="#c2c2c2"/>
<circle cx="256.93" cy="252.89" r="0.95" fill="#c2c2c2"/>
<circle cx="255.04" cy="251.61" r="0.95" fill="#c2c2c2"/>
<circle cx="253.05" cy="246.48" r="0.95" fill="#c2c2c2"/>
<circle cx="255.01" cy="254.02" r="0.95" fill="#c2c2c2"/>
<circle cx="256.29" cy="248.51" r="0.95" fill="#c2c2c2"/>
<circle cx="256.90" cy="252.15" r="0.95" fill="#c2c2c2"/>
<circle cx="257.10" cy="250.45" r="0.95" fill="#c2c2c2"/>
<circle cx="251.40" cy="253.81" r="0.95" fill="#c2c2c2"/>
<circle cx="251.11" cy="255.21" r="0.95" fill="#c2c2c2"/>
<circle cx="254.77" cy="250.72" r="0.95" fill="#c2c2c2"/>
<circle cx="253.19" cy="247.96" r="0.95" fill="#c2c2c2"/>
<circle cx="261.19" cy="252.94" r="0.95" fill="#c2c2c2"/>
<circle cx="256.35" cy="247.97" r="0.95" fill="#c2c2c2"/>
<circle cx="255.41" cy="252.78" r="0.95" fill="#c2c2c2"/>
<circle cx="260.20" cy="251.14" r="0.95" fill="#c2c2c2"/>
<circle cx="250.18" cy="249.96" r="0.95" fill="#c2c2c2"/>
<circle cx="250.91" cy="253.66" r="0.95" fill="#c2c2c2"/>
<circle cx="257.63" cy="254.97" r="0.95" fill="#c2c2c2"/>
<circle cx="254.91" cy="253.02" r="0.95" fill="#c2c2c2"/>
<circle cx="259.46" cy="252.12" r="0.95" fill="#c2c2c2"/>
<circle cx="259.68" cy="254.76" r="0.95" fill="#c2c2c2"/>
<circle cx="251.73" cy="254.48" r="0.95" fill="#c2c2c2"/>
<circle cx="260.17" cy="253.71" r="0.95" fill="#c2c2c2"/>
<circle cx="260.82" cy="252.36" r="0.95" fill="#c2c2c2"/>
<circle cx="254.24" cy="248.21" r="0.95" fill="#c2c2c2"/>
<circle cx="254.51" cy="252.27" r="0.95" fill="#c2c2c2"/>
<circle cx="247.64" cy="252.97" r="0.95" fill="#c2c2c2"/>
<circle cx="258.26" cy="255.42" r="0.95" fill="#c2c2c2"/>
<circle cx="265.61" cy="255.39" r="0.95" fill="#c2c2c2"/>
<circle cx="254.13" cy="254.76" r="0.95" fill="#c2c2c2"/>
<circle cx="258.63" cy="247.07" r="0.95" fill="#c2c2c2"/>
<circle cx="252.65" cy="250.40" r="0.95" fill="#c2c2c2"/>
<circle cx="248.52" cy="250.83" r="0.95" fill="#c2c2c2"/>
<circle cx="253.56" cy="246.56" r="0.95" fill="#c2c2c2"/>
<circle cx="256.61" cy="253.74" r="0.95" fill="#c2c2c2"/>
<circle cx="254.44" cy="247.91" r="0.95" fill="#c2c2c2"/>
<circle cx="251.88" cy="247.61" r="0.95" fill="#c2c2c2"/>
<circle cx="248.66" cy="254.11" r="0.95" fill="#c2c2c2"/>
<circle cx="255.24" cy="252.71" r="0.95" fill="#c2c2c2"/>
<circle cx="261.05" cy="255.13" r="0.95" fill="#c2c2c2"/>
<circle cx="254.21" cy="247.10" r="0.95" fill="#c2c2c2"/>
<circle cx="257.01" cy="249.00" r="0.95" fill="#c2c2c2"/>
<circle cx="261.54" cy="253.08" r="0.95" fill="#c2c2c2"/>
<circle cx="252.40" cy="254.15" r="0.95" fill="#c2c2c2"/>
<circle cx="251.71" cy="251.51" r="0.95" fill="#c2c2c2"/>
<circle cx="254.30" cy="254.16" r="0.95" fill="#c2c2c2"/>
<circle cx="260.17" cy="254.67" r="0.95" fill="#c2c2c2"/>
<circle cx="258.33" cy="255.31" r="0.95" fill="#c2c2c2"/>
<circle cx="264.67" cy="251.18" r="0.95" fill="#c2c2c2"/>
<circle cx="253.24" cy="251.28" r="0.95" fill="#c2c2c2"/>
<circle cx="254.64" cy="250.98" r="0.95" fill="#c2c2c2"/>
<circle cx="255.14" cy="255.32" r="0.95" fill="#c2c2c2"/>
<circle cx="255.33" cy="251.10" r="0.95" fill="#c2c2c2"/>
<circle cx="249.29" cy="251.53" r="0.95" fill="#c2c2c2"/>
<circle cx="260.83" cy="250.87" r="0.95" fill="#c2c2c2"/>
<circle cx="255.38" cy="251.31" r="0.95" fill="#c2c2c2"/>
<circle cx="254.42" cy="250.15" r="0.95" fill="#c2c2c2"/>
<circle cx="253.21" cy="250.70" r="0.95" fill="#c2c2c2"/>
<circle cx="259.43" cy="253.89" r="0.95" fill="#c2c2c2"/>
<circle cx="259.51" cy="254.68" r="0.95" fill="#c2c2c2"/>
<circle cx="252.03" cy="248.08" r="0.95" fill="#c2c2c2"/>
<circle cx="255.77" cy="246.18" r="0.85" fill="#c2c2c2"/>
<circle cx="253.42" cy="244.57" r="0.85" fill="#c2c2c2"/>
<circle cx="252.91" cy="238.14" r="0.85" fill="#c2c2c2"/>
<circle cx="253.89" cy="243.56" r="0.85" fill="#c2c2c2"/>
<circle cx="254.35" cy="239.91" r="0.85" fill="#c2c2c2"/>
<circle cx="255.77" cy="237.15" r="0.85" fill="#c2c2c2"/>
<circle cx="256.31" cy="237.35" r="0.85" fill="#c2c2c2"/>
<circle cx="255.25" cy="238.76" r="0.85" fill="#c2c2c2"/>
<circle cx="253.75" cy="241.83" r="0.85" fill="#c2c2c2"/>
<circle cx="254.90" cy="240.13" r="0.85" fill="#c2c2c2"/>
<circle cx="254.78" cy="241.82" r="0.85" fill="#c2c2c2"/>
<circle cx="253.57" cy="238.25" r="0.85" fill="#c2c2c2"/>
<circle cx="255.83" cy="243.02" r="0.85" fill="#c2c2c2"/>
<circle cx="255.34" cy="245.36" r="0.85" fill="#c2c2c2"/>
<circle cx="255.74" cy="245.42" r="0.85" fill="#c2c2c2"/>
<circle cx="253.92" cy="244.15" r="0.85" fill="#c2c2c2"/>
<circle cx="256.69" cy="245.93" r="0.85" fill="#c2c2c2"/>
<circle cx="254.32" cy="239.46" r="0.85" fill="#c2c2c2"/>
<circle cx="257.23" cy="238.40" r="0.85" fill="#c2c2c2"/>
<circle cx="257.59" cy="245.76" r="0.85" fill="#c2c2c2"/>
<circle cx="253.44" cy="238.63" r="0.85" fill="#c2c2c2"/>
<circle cx="256.29" cy="238.85" r="0.85" fill="#c2c2c2"/>
<circle cx="253.27" cy="245.15" r="0.85" fill="#c2c2c2"/>
<circle cx="254.82" cy="244.69" r="0.85" fill="#c2c2c2"/>
<circle cx="253.40" cy="240.43" r="0.85" fill="#c2c2c2"/>
<circle cx="256.09" cy="236.20" r="0.85" fill="#c2c2c2"/>
<circle cx="253.76" cy="243.51" r="0.85" fill="#c2c2c2"/>
<circle cx="257.17" cy="246.65" r="0.85" fill="#c2c2c2"/>
<circle cx="253.35" cy="241.56" r="0.85" fill="#c2c2c2"/>
<circle cx="256.44" cy="241.53" r="0.85" fill="#c2c2c2"/>
<circle cx="256.09" cy="238.08" r="0.85" fill="#c2c2c2"/>
<circle cx="253.14" cy="237.17" r="0.85" fill="#c2c2c2"/>
<circle cx="252.98" cy="242.07" r="0.85" fill="#c2c2c2"/>
<circle cx="255.27" cy="242.26" r="0.85" fill="#c2c2c2"/>
<circle cx="253.50" cy="238.03" r="0.85" fill="#c2c2c2"/>
<circle cx="242.45" cy="236.11" r="1.05" fill="#000"/>
<circle cx="251.88" cy="231.81" r="1.05" fill="#000"/>
<circle cx="241.14" cy="245.85" r="1.05" fill="#000"/>
<circle cx="251.42" cy="242.79" r="1.05" fill="#000"/>
<circle cx="249.18" cy="244.02" r="1.05" fill="#000"/>
<circle cx="245.60" cy="242.22" r="1.05" fill="#000"/>
<circle cx="245.16" cy="241.15" r="1.05" fill="#000"/>
<circle cx="240.16" cy="239.56" r="1.05" fill="#000"/>
<circle cx="250.13" cy="245.10" r="1.05" fill="#000"/>
<circle cx="245.45" cy="238.81" r="1.05" fill="#000"/>
<circle cx="244.86" cy="245.01" r="1.05" fill="#000"/>
<circle cx="241.98" cy="242.25" r="1.05" fill="#000"/>
<circle cx="240.19" cy="233.90" r="1.05" fill="#000"/>
<circle cx="249.62" cy="239.49" r="1.05" fill="#000"/>
<circle cx="250.33" cy="240.74" r="1.05" fill="#000"/>
<circle cx="244.85" cy="241.17" r="1.05" fill="#000"/>
<circle cx="246.05" cy="223.89" r="1.05" fill="#000"/>
<circle cx="249.66" cy="244.56" r="1.05" fill="#000"/>
<circle cx="250.94" cy="238.70" r="1.05" fill="#000"/>
<circle cx="249.34" cy="236.93" r="1.05" fill="#000"/>
<circle cx="244.87" cy="233.72" r="1.05" fill="#000"/>
<circle cx="250.56" cy="239.67" r="1.05" fill="#000"/>
<circle cx="249.21" cy="238.23" r="1.05" fill="#000"/>
<circle cx="244.87" cy="239.15" r="1.05" fill="#000"/>
<circle cx="240.85" cy="243.90" r="1.05" fill="#000"/>
<circle cx="245.63" cy="246.14" r="1.05" fill="#000"/>
<circle cx="244.27" cy="240.60" r="1.05" fill="#000"/>
<circle cx="247.49" cy="244.75" r="1.05" fill="#000"/>
<circle cx="251.34" cy="240.17" r="1.05" fill="#000"/>
<circle cx="244.05" cy="240.27" r="1.05" fill="#000"/>
<circle cx="246.83" cy="242.01" r="1.05" fill="#000"/>
<circle cx="260.76" cy="235.33" r="1.05" fill="#000"/>
<circle cx="258.55" cy="237.60" r="1.05" fill="#000"/>
<circle cx="261.45" cy="243.53" r="1.05" fill="#000"/>
<circle cx="259.63" cy="245.73" r="1.05" fill="#000"/>
<circle cx="258.98" cy="241.96" r="1.05" fill="#000"/>
<circle cx="258.73" cy="243.60" r="1.05" fill="#000"/>
<circle cx="263.69" cy="239.01" r="1.05" fill="#000"/>
<circle cx="260.06" cy="215.46" r="1.05" fill="#000"/>
<circle cx="260.74" cy="231.28" r="1.05" fill="#000"/>
<circle cx="258.67" cy="238.01" r="1.05" fill="#000"/>
<circle cx="261.63" cy="245.78" r="1.05" fill="#000"/>
<circle cx="264.36" cy="244.63" r="1.05" fill="#000"/>
<circle cx="259.90" cy="244.53" r="1.05" fill="#000"/>
<circle cx="260.01" cy="237.70" r="1.05" fill="#000"/>
<circle cx="258.63" cy="220.05" r="1.05" fill="#000"/>
<circle cx="259.70" cy="239.47" r="1.05" fill="#000"/>
<circle cx="260.50" cy="242.10" r="1.05" fill="#000"/>
<circle cx="259.24" cy="236.62" r="1.05" fill="#000"/>
<circle cx="260.31" cy="243.20" r="1.05" fill="#000"/>
<circle cx="261.27" cy="243.04" r="1.05" fill="#000"/>
<circle cx="258.53" cy="243.67" r="1.05" fill="#000"/>
<circle cx="258.60" cy="244.67" r="1.05" fill="#000"/>
<circle cx="261.59" cy="241.75" r="1.05" fill="#000"/>
<circle cx="263.51" cy="233.78" r="1.05" fill="#000"/>
<circle cx="264.86" cy="245.51" r="1.05" fill="#000"/>
<circle cx="263.69" cy="241.15" r="1.05" fill="#000"/>
<circle cx="259.93" cy="213.64" r="1.05" fill="#000"/>
<circle cx="259.11" cy="239.53" r="1.05" fill="#000"/>
<circle cx="264.59" cy="234.65" r="1.05" fill="#000"/>
<circle cx="262.23" cy="237.87" r="1.05" fill="#000"/>
<circle cx="258.77" cy="237.39" r="1.05" fill="#000"/>
<circle cx="259.84" cy="244.15" r="1.05" fill="#000"/>
<circle cx="258.62" cy="239.44" r="1.05" fill="#000"/>
<circle cx="258.79" cy="240.94" r="1.05" fill="#000"/>
<circle cx="260.93" cy="240.73" r="1.05" fill="#000"/>
<circle cx="259.17" cy="238.34" r="1.05" fill="#000"/>
<circle cx="259.70" cy="232.66" r="1.05" fill="#000"/>
<circle cx="265.21" cy="234.27" r="1.05" fill="#000"/>
<circle cx="259.10" cy="245.11" r="1.05" fill="#000"/>
<circle cx="263.41" cy="232.39" r="1.05" fill="#000"/>
<circle cx="260.66" cy="242.19" r="1.05" fill="#000"/>
<circle cx="259.20" cy="235.80" r="1.05" fill="#000"/>
<circle cx="260.33" cy="238.14" r="1.05" fill="#000"/>
<circle cx="260.71" cy="233.60" r="1.05" fill="#000"/>
<circle cx="258.96" cy="243.62" r="1.05" fill="#000"/>
<circle cx="263.14" cy="245.84" r="1.05" fill="#000"/>
<circle cx="258.64" cy="243.36" r="1.05" fill="#000"/>
<circle cx="259.72" cy="237.41" r="1.05" fill="#000"/>
<circle cx="258.74" cy="239.18" r="1.05" fill="#000"/>
<circle cx="258.67" cy="245.39" r="1.05" fill="#000"/>
<circle cx="260.98" cy="239.00" r="1.05" fill="#000"/>
<circle cx="260.69" cy="242.00" r="1.05" fill="#000"/>
<circle cx="259.93" cy="244.07" r="1.05" fill="#000"/>
<circle cx="259.43" cy="233.91" r="1.05" fill="#000"/>
<circle cx="262.51" cy="245.50" r="1.05" fill="#000"/>
<circle cx="258.78" cy="231.29" r="1.05" fill="#000"/>
<circle cx="260.65" cy="233.02" r="1.05" fill="#000"/>
<circle cx="259.03" cy="241.23" r="1.05" fill="#000"/>
<circle cx="259.16" cy="231.26" r="1.05" fill="#000"/>
<circle cx="259.51" cy="236.66" r="1.05" fill="#000"/>
<circle cx="260.25" cy="233.86" r="1.05" fill="#000"/>
<circle cx="264.08" cy="241.18" r="1.05" fill="#000"/>
<circle cx="259.51" cy="245.28" r="1.05" fill="#000"/>
<circle cx="263.08" cy="245.46" r="1.05" fill="#000"/>
<circle cx="258.69" cy="238.72" r="1.05" fill="#000"/>
<circle cx="259.96" cy="235.79" r="1.05" fill="#000"/>
<circle cx="259.28" cy="232.75" r="1.05" fill="#000"/>
<circle cx="258.67" cy="244.04" r="1.05" fill="#000"/>
<circle cx="260.89" cy="245.43" r="1.05" fill="#000"/>
<circle cx="259.30" cy="234.58" r="1.05" fill="#000"/>
<circle cx="261.11" cy="243.21" r="1.05" fill="#000"/>
<circle cx="258.84" cy="242.21" r="1.05" fill="#000"/>
<circle cx="261.35" cy="242.09" r="1.05" fill="#000"/>
<circle cx="241.20" cy="202.80" r="1.10" fill="#000"/>
<circle cx="244.40" cy="207.90" r="1.10" fill="#000"/>
<circle cx="241.20" cy="214.90" r="1.10" fill="#000"/>
<circle cx="246.40" cy="218.00" r="1.10" fill="#000"/>
<circle cx="243.30" cy="225.70" r="1.10" fill="#000"/>
<circle cx="241.20" cy="230.10" r="1.10" fill="#000"/>
<circle cx="239.50" cy="236.00" r="1.10" fill="#000"/>
<circle cx="282.50" cy="168.70" r="1.10" fill="#000"/>
<circle cx="290.70" cy="180.00" r="1.10" fill="#000"/>
<circle cx="258.70" cy="187.80" r="1.10" fill="#000"/>
<circle cx="260.40" cy="198.00" r="1.10" fill="#000"/>
<circle cx="262.80" cy="199.30" r="1.10" fill="#000"/>
<circle cx="260.70" cy="208.30" r="1.10" fill="#000"/>
<circle cx="287.80" cy="218.30" r="1.10" fill="#000"/>
<circle cx="267.30" cy="223.00" r="1.10" fill="#000"/>
<circle cx="261.50" cy="205.40" r="1.10" fill="#000"/>
<circle cx="262.40" cy="213.70" r="1.10" fill="#000"/>
<line x1="252.20" y1="165.00" x2="252.20" y2="257.00" stroke="#333" stroke-width="0.95" stroke-dasharray="8.8 4.4 2.0 4.2" stroke-dashoffset="5.9"/>
<line x1="258.10" y1="165.00" x2="258.10" y2="257.00" stroke="#333" stroke-width="0.95" stroke-dasharray="8.8 4.4 2.0 4.2" stroke-dashoffset="5.9"/>
<line x1="214.30" y1="246.20" x2="295.40" y2="246.20" stroke="#222" stroke-width="1.0" stroke-dasharray="8.8 4.4 2.0 4.2" stroke-dashoffset="6.5"/>
<line x1="231.60" y1="198.60" x2="251.00" y2="236.50" stroke="#000" stroke-width="1.1" stroke-dasharray="2.2 1.7"/>
<line x1="229.60" y1="210.00" x2="250.50" y2="239.50" stroke="#000" stroke-width="1.1" stroke-dasharray="2.2 1.7"/>
<line x1="233.70" y1="220.80" x2="248.00" y2="240.50" stroke="#000" stroke-width="1.1" stroke-dasharray="2.2 1.7"/>
<line x1="235.80" y1="232.00" x2="245.50" y2="241.50" stroke="#000" stroke-width="1.1" stroke-dasharray="2.2 1.7"/>
<line x1="231.60" y1="241.00" x2="244.00" y2="243.00" stroke="#000" stroke-width="1.1" stroke-dasharray="2.2 1.7"/>
<line x1="231.00" y1="251.30" x2="246.00" y2="247.00" stroke="#000" stroke-width="1.1" stroke-dasharray="2.2 1.7"/>
<line x1="273.70" y1="190.80" x2="259.30" y2="222.00" stroke="#000" stroke-width="1.1" stroke-dasharray="2.2 1.7"/>
<line x1="274.00" y1="200.90" x2="260.00" y2="233.00" stroke="#000" stroke-width="1.1" stroke-dasharray="2.2 1.7"/>
<line x1="276.00" y1="214.60" x2="260.30" y2="240.00" stroke="#000" stroke-width="1.1" stroke-dasharray="2.2 1.7"/>
<line x1="274.60" y1="229.80" x2="261.00" y2="243.00" stroke="#000" stroke-width="1.1" stroke-dasharray="2.2 1.7"/>
<line x1="275.00" y1="242.00" x2="262.00" y2="246.50" stroke="#000" stroke-width="1.1" stroke-dasharray="2.2 1.7"/>
<text x="219.60" y="197.42" font-size="5.6" fill="#4a66b6" font-style="italic" textLength="11.80" lengthAdjust="spacingAndGlyphs">FOSB</text>
<text x="220.00" y="209.92" font-size="5.6" fill="#4a66b6" font-style="italic" textLength="9.40" lengthAdjust="spacingAndGlyphs">GRN</text>
<text x="217.80" y="220.82" font-size="5.6" fill="#4a66b6" font-style="italic" textLength="15.70" lengthAdjust="spacingAndGlyphs">KDM5D</text>
<text x="218.30" y="232.12" font-size="5.6" fill="#4a66b6" font-style="italic" textLength="17.30" lengthAdjust="spacingAndGlyphs">ZFP36L2</text>
<text x="221.40" y="242.12" font-size="5.6" fill="#4a66b6" font-style="italic" textLength="10.00" lengthAdjust="spacingAndGlyphs">PER1</text>
<text x="219.60" y="254.02" font-size="5.6" fill="#4a66b6" font-style="italic" textLength="11.20" lengthAdjust="spacingAndGlyphs">UTAF</text>
<text x="265.70" y="189.52" font-size="5.6" fill="#d2403e" font-style="italic" textLength="22.60" lengthAdjust="spacingAndGlyphs">HLA−DRB1</text>
<text x="274.00" y="200.32" font-size="5.6" fill="#d2403e" font-style="italic" textLength="13.80" lengthAdjust="spacingAndGlyphs">HLA−B</text>
<text x="275.70" y="214.22" font-size="5.6" fill="#d2403e" font-style="italic" textLength="9.60" lengthAdjust="spacingAndGlyphs">MT2A</text>
<text x="274.50" y="229.22" font-size="5.6" fill="#d2403e" font-style="italic" textLength="12.50" lengthAdjust="spacingAndGlyphs">ERAP2</text>
<text x="275.00" y="241.72" font-size="5.6" fill="#d2403e" font-style="italic" textLength="13.30" lengthAdjust="spacingAndGlyphs">SUMO1</text>
<line x1="214.40" y1="165.10" x2="214.40" y2="258.10" stroke="#111" stroke-width="1.35"/>
<line x1="213.80" y1="257.20" x2="295.40" y2="257.20" stroke="#111" stroke-width="1.3"/>
<line x1="210.80" y1="253.30" x2="214.30" y2="253.30" stroke="#111" stroke-width="0.8"/>
<text x="209.00" y="255.28" font-size="5.488" text-anchor="end" fill="#333" textLength="2.72" lengthAdjust="spacingAndGlyphs">0</text>
<line x1="210.80" y1="226.20" x2="214.30" y2="226.20" stroke="#111" stroke-width="0.8"/>
<text x="209.00" y="228.18" font-size="5.488" text-anchor="end" fill="#333" textLength="2.72" lengthAdjust="spacingAndGlyphs">5</text>
<line x1="210.80" y1="199.10" x2="214.30" y2="199.10" stroke="#111" stroke-width="0.8"/>
<text x="209.00" y="201.08" font-size="5.488" text-anchor="end" fill="#333" textLength="5.45" lengthAdjust="spacingAndGlyphs">10</text>
<line x1="210.80" y1="172.60" x2="214.30" y2="172.60" stroke="#111" stroke-width="0.8"/>
<text x="209.00" y="174.58" font-size="5.488" text-anchor="end" fill="#333" textLength="5.45" lengthAdjust="spacingAndGlyphs">15</text>
<line x1="230.40" y1="257.50" x2="230.40" y2="260.20" stroke="#111" stroke-width="0.8"/>
<text x="230.40" y="267.78" font-size="5.488" text-anchor="middle" fill="#333" textLength="5.59" lengthAdjust="spacingAndGlyphs">−2</text>
<line x1="255.40" y1="257.50" x2="255.40" y2="260.20" stroke="#111" stroke-width="0.8"/>
<text x="255.40" y="267.78" font-size="5.488" text-anchor="middle" fill="#333" textLength="2.72" lengthAdjust="spacingAndGlyphs">0</text>
<line x1="280.00" y1="257.50" x2="280.00" y2="260.20" stroke="#111" stroke-width="0.8"/>
<text x="280.00" y="267.78" font-size="5.488" text-anchor="middle" fill="#333" textLength="2.72" lengthAdjust="spacingAndGlyphs">2</text>
<text x="255.30" y="277.78" font-size="6.6" text-anchor="middle" fill="#222" textLength="38.80" lengthAdjust="spacingAndGlyphs">log(fold change)</text>
<text x="194.20" y="212.73" font-size="6.2" text-anchor="middle" fill="#222" font-style="italic" transform="rotate(-90 194.20 210.50)">−log<tspan font-size="4.2" dy="1.5">10</tspan><tspan dy="-1.5">(adj</tspan><tspan font-style="italic">P</tspan>)</text>
<rect x="394.50" y="90.33" width="3.50" height="10.46" fill="#bf8083"/>
<rect x="394.50" y="90.33" width="3.50" height="0.50" fill="#a8676b"/>
<rect x="398.00" y="96.49" width="3.45" height="4.31" fill="#5ba6a8"/>
<rect x="398.00" y="96.49" width="3.45" height="0.50" fill="#3f8f91"/>
<text x="399.40" y="104.40" font-size="4.984" text-anchor="end" fill="#222" textLength="20.28" lengthAdjust="spacingAndGlyphs" transform="rotate(-45 399.40 104.40)">HSC/MPP</text>
<rect x="402.45" y="97.70" width="3.50" height="3.10" fill="#bf8083"/>
<rect x="402.45" y="97.70" width="3.50" height="0.50" fill="#a8676b"/>
<rect x="405.95" y="99.39" width="3.45" height="1.41" fill="#5ba6a8"/>
<rect x="405.95" y="99.39" width="3.45" height="0.50" fill="#3f8f91"/>
<text x="407.35" y="104.40" font-size="4.984" text-anchor="end" fill="#222" textLength="12.12" lengthAdjust="spacingAndGlyphs" transform="rotate(-45 407.35 104.40)">LMPP</text>
<rect x="410.40" y="92.99" width="3.50" height="7.81" fill="#bf8083"/>
<rect x="410.40" y="92.99" width="3.50" height="0.50" fill="#a8676b"/>
<rect x="413.90" y="95.97" width="3.45" height="4.83" fill="#5ba6a8"/>
<rect x="413.90" y="95.97" width="3.45" height="0.50" fill="#3f8f91"/>
<text x="415.30" y="104.40" font-size="4.984" text-anchor="end" fill="#222" textLength="9.64" lengthAdjust="spacingAndGlyphs" transform="rotate(-45 415.30 104.40)">MEP</text>
<rect x="418.35" y="97.70" width="3.50" height="3.10" fill="#bf8083"/>
<rect x="418.35" y="97.70" width="3.50" height="0.50" fill="#a8676b"/>
<rect x="421.85" y="93.72" width="3.45" height="7.08" fill="#5ba6a8"/>
<rect x="421.85" y="93.72" width="3.45" height="0.50" fill="#3f8f91"/>
<text x="423.25" y="104.40" font-size="4.984" text-anchor="end" fill="#222" textLength="9.15" lengthAdjust="spacingAndGlyphs" transform="rotate(-45 423.25 104.40)">MLP</text>
<rect x="426.30" y="89.01" width="3.50" height="11.79" fill="#bf8083"/>
<rect x="426.30" y="89.01" width="3.50" height="0.50" fill="#a8676b"/>
<rect x="429.80" y="80.92" width="3.45" height="19.88" fill="#5ba6a8"/>
<rect x="429.80" y="80.92" width="3.45" height="0.50" fill="#3f8f91"/>
<text x="431.20" y="104.40" font-size="4.984" text-anchor="end" fill="#222" textLength="9.64" lengthAdjust="spacingAndGlyphs" transform="rotate(-45 431.20 104.40)">EBM</text>
<rect x="434.25" y="41.23" width="3.50" height="59.57" fill="#bf8083"/>
<rect x="434.25" y="41.23" width="3.50" height="0.50" fill="#a8676b"/>
<rect x="437.75" y="77.86" width="3.45" height="22.94" fill="#5ba6a8"/>
<rect x="437.75" y="77.86" width="3.45" height="0.50" fill="#3f8f91"/>
<text x="439.15" y="104.40" font-size="4.984" text-anchor="end" fill="#222" textLength="10.64" lengthAdjust="spacingAndGlyphs" transform="rotate(-45 439.15 104.40)">Neu1</text>
<rect x="442.20" y="96.49" width="3.50" height="4.31" fill="#bf8083"/>
<rect x="442.20" y="96.49" width="3.50" height="0.50" fill="#a8676b"/>
<rect x="445.70" y="99.19" width="3.45" height="1.61" fill="#5ba6a8"/>
<rect x="445.70" y="99.19" width="3.45" height="0.50" fill="#3f8f91"/>
<text x="447.10" y="104.40" font-size="4.984" text-anchor="end" fill="#222" textLength="10.64" lengthAdjust="spacingAndGlyphs" transform="rotate(-45 447.10 104.40)">Neu2</text>
<rect x="450.15" y="100.20" width="3.50" height="0.60" fill="#bf8083"/>
<rect x="450.15" y="100.20" width="3.50" height="0.50" fill="#a8676b"/>
<rect x="453.65" y="100.40" width="3.45" height="0.40" fill="#5ba6a8"/>
<rect x="453.65" y="100.40" width="3.45" height="0.50" fill="#3f8f91"/>
<text x="455.05" y="104.40" font-size="4.984" text-anchor="end" fill="#222" textLength="9.40" lengthAdjust="spacingAndGlyphs" transform="rotate(-45 455.05 104.40)">MD1</text>
<line x1="393.60" y1="33.20" x2="393.60" y2="101.60" stroke="#111" stroke-width="1.3"/>
<line x1="393.10" y1="101.00" x2="458.60" y2="101.00" stroke="#111" stroke-width="1.3"/>
<line x1="389.20" y1="100.80" x2="393.60" y2="100.80" stroke="#111" stroke-width="0.8"/>
<text x="388.20" y="102.78" font-size="5.488" text-anchor="end" fill="#222" textLength="2.40" lengthAdjust="spacingAndGlyphs">0</text>
<line x1="389.20" y1="84.70" x2="393.60" y2="84.70" stroke="#111" stroke-width="0.8"/>
<text x="388.20" y="86.68" font-size="5.488" text-anchor="end" fill="#222" textLength="4.80" lengthAdjust="spacingAndGlyphs">40</text>
<line x1="389.20" y1="68.60" x2="393.60" y2="68.60" stroke="#111" stroke-width="0.8"/>
<text x="388.20" y="70.58" font-size="5.488" text-anchor="end" fill="#222" textLength="4.80" lengthAdjust="spacingAndGlyphs">80</text>
<line x1="389.20" y1="52.50" x2="393.60" y2="52.50" stroke="#111" stroke-width="0.8"/>
<text x="388.20" y="54.48" font-size="5.488" text-anchor="end" fill="#222" textLength="7.19" lengthAdjust="spacingAndGlyphs">120</text>
<line x1="389.20" y1="36.40" x2="393.60" y2="36.40" stroke="#111" stroke-width="0.8"/>
<text x="388.20" y="38.38" font-size="5.488" text-anchor="end" fill="#222" textLength="7.19" lengthAdjust="spacingAndGlyphs">160</text>
<text x="365.50" y="69.80" font-size="6.4" text-anchor="middle" fill="#222" textLength="56.60" lengthAdjust="spacingAndGlyphs" transform="rotate(-90 365.50 67.50)">Number of differentially</text>
<text x="373.00" y="68.60" font-size="6.4" text-anchor="middle" fill="#222" textLength="39.00" lengthAdjust="spacingAndGlyphs" transform="rotate(-90 373.00 66.30)">expressed genes</text>
<rect x="397.30" y="25.30" width="1.80" height="1.80" fill="#bf8083"/>
<text x="402.20" y="28.14" font-size="5.376" fill="#222" textLength="29.79" lengthAdjust="spacingAndGlyphs">Treated vs Ctrl</text>
<rect x="397.30" y="30.00" width="1.80" height="1.80" fill="#5ba6a8"/>
<text x="402.20" y="32.84" font-size="5.376" fill="#222" textLength="42.80" lengthAdjust="spacingAndGlyphs">Treated vs Untreated</text>
<text x="337.70" y="157.06" font-size="7.392" fill="#222" textLength="53.30" lengthAdjust="spacingAndGlyphs">HSC/MPP #genes</text>
<text x="396.50" y="157.06" font-size="7.392" fill="#222" textLength="56.48" lengthAdjust="spacingAndGlyphs">Enriched GO terms</text>
<line x1="327.30" y1="161.30" x2="327.30" y2="279.30" stroke="#111" stroke-width="1.1"/>
<text x="321.00" y="222.23" font-size="6.2" text-anchor="middle" fill="#222" font-style="italic" textLength="47.30" lengthAdjust="spacingAndGlyphs" transform="rotate(-90 321.00 220.00)">Average expression</text>
<line x1="342.90" y1="161.30" x2="342.90" y2="182.60" stroke="#111" stroke-width="1.35"/>
<line x1="342.20" y1="182.20" x2="385.30" y2="182.20" stroke="#111" stroke-width="1.3"/>
<line x1="339.90" y1="166.20" x2="342.50" y2="166.20" stroke="#111" stroke-width="0.9"/>
<text x="338.60" y="168.26" font-size="5.712" text-anchor="end" fill="#333" textLength="7.09" lengthAdjust="spacingAndGlyphs">0.7</text>
<line x1="339.90" y1="180.90" x2="342.50" y2="180.90" stroke="#111" stroke-width="0.9"/>
<text x="338.60" y="182.96" font-size="5.712" text-anchor="end" fill="#333" textLength="7.09" lengthAdjust="spacingAndGlyphs">0.5</text>
<polyline points="350.7,161.3 364.5,181.7 378.0,173.4" fill="none" stroke="#cc2424" stroke-width="1.35"/>
<circle cx="350.70" cy="161.30" r="0.70" fill="#cc2424"/>
<circle cx="364.50" cy="181.70" r="0.70" fill="#cc2424"/>
<circle cx="378.00" cy="173.40" r="0.70" fill="#cc2424"/>
<line x1="342.90" y1="193.80" x2="342.90" y2="215.20" stroke="#111" stroke-width="1.35"/>
<line x1="342.20" y1="214.80" x2="385.30" y2="214.80" stroke="#111" stroke-width="1.3"/>
<line x1="339.90" y1="198.50" x2="342.50" y2="198.50" stroke="#111" stroke-width="0.9"/>
<text x="338.60" y="200.56" font-size="5.712" text-anchor="end" fill="#333" textLength="7.09" lengthAdjust="spacingAndGlyphs">0.8</text>
<line x1="339.90" y1="213.70" x2="342.50" y2="213.70" stroke="#111" stroke-width="0.9"/>
<text x="338.60" y="215.76" font-size="5.712" text-anchor="end" fill="#333" textLength="7.09" lengthAdjust="spacingAndGlyphs">0.5</text>
<polyline points="350.7,214.3 364.5,194.2 378.0,203.0" fill="none" stroke="#cc2424" stroke-width="1.35"/>
<circle cx="350.70" cy="214.30" r="0.70" fill="#cc2424"/>
<circle cx="364.50" cy="194.20" r="0.70" fill="#cc2424"/>
<circle cx="378.00" cy="203.00" r="0.70" fill="#cc2424"/>
<text x="364.20" y="192.24" font-size="7.616" text-anchor="middle" fill="#222" textLength="18.52" lengthAdjust="spacingAndGlyphs">LMPP</text>
<line x1="342.90" y1="227.10" x2="342.90" y2="247.80" stroke="#111" stroke-width="1.35"/>
<line x1="342.20" y1="247.40" x2="385.30" y2="247.40" stroke="#111" stroke-width="1.3"/>
<line x1="339.90" y1="227.50" x2="342.50" y2="227.50" stroke="#111" stroke-width="0.9"/>
<text x="338.60" y="229.56" font-size="5.712" text-anchor="end" fill="#333" textLength="7.09" lengthAdjust="spacingAndGlyphs">0.8</text>
<line x1="339.90" y1="244.80" x2="342.50" y2="244.80" stroke="#111" stroke-width="0.9"/>
<text x="338.60" y="246.86" font-size="5.712" text-anchor="end" fill="#333" textLength="7.09" lengthAdjust="spacingAndGlyphs">0.6</text>
<polyline points="350.7,227.5 364.5,246.7 378.0,234.9" fill="none" stroke="#cc2424" stroke-width="1.35"/>
<circle cx="350.70" cy="227.50" r="0.70" fill="#cc2424"/>
<circle cx="364.50" cy="246.70" r="0.70" fill="#cc2424"/>
<circle cx="378.00" cy="234.90" r="0.70" fill="#cc2424"/>
<text x="364.20" y="225.54" font-size="7.616" text-anchor="middle" fill="#222" textLength="13.98" lengthAdjust="spacingAndGlyphs">MLP</text>
<line x1="342.90" y1="258.30" x2="342.90" y2="279.80" stroke="#111" stroke-width="1.35"/>
<line x1="342.20" y1="279.40" x2="385.30" y2="279.40" stroke="#111" stroke-width="1.3"/>
<line x1="339.90" y1="264.30" x2="342.50" y2="264.30" stroke="#111" stroke-width="0.9"/>
<text x="338.60" y="266.36" font-size="5.712" text-anchor="end" fill="#333" textLength="7.09" lengthAdjust="spacingAndGlyphs">0.8</text>
<line x1="339.90" y1="278.70" x2="342.50" y2="278.70" stroke="#111" stroke-width="0.9"/>
<text x="338.60" y="280.76" font-size="5.712" text-anchor="end" fill="#333" textLength="7.09" lengthAdjust="spacingAndGlyphs">0.6</text>
<polyline points="350.7,259.1 364.5,279.0 378.0,267.0" fill="none" stroke="#cc2424" stroke-width="1.35"/>
<circle cx="350.70" cy="259.10" r="0.70" fill="#cc2424"/>
<circle cx="364.50" cy="279.00" r="0.70" fill="#cc2424"/>
<circle cx="378.00" cy="267.00" r="0.70" fill="#cc2424"/>
<text x="364.20" y="257.24" font-size="7.616" text-anchor="middle" fill="#222" textLength="14.74" lengthAdjust="spacingAndGlyphs">MEP</text>
<line x1="350.70" y1="279.20" x2="350.70" y2="281.80" stroke="#111" stroke-width="0.8"/>
<line x1="364.50" y1="279.20" x2="364.50" y2="281.80" stroke="#111" stroke-width="0.8"/>
<line x1="378.00" y1="279.20" x2="378.00" y2="281.80" stroke="#111" stroke-width="0.8"/>
<text x="351.50" y="284.20" font-size="5.264" text-anchor="end" fill="#333" textLength="7.31" lengthAdjust="spacingAndGlyphs" transform="rotate(-45 351.50 284.20)">Ctrl</text>
<text x="365.30" y="284.20" font-size="5.264" text-anchor="end" fill="#333" textLength="20.64" lengthAdjust="spacingAndGlyphs" transform="rotate(-45 365.30 284.20)">Untreated</text>
<text x="378.80" y="284.20" font-size="5.264" text-anchor="end" fill="#333" textLength="16.02" lengthAdjust="spacingAndGlyphs" transform="rotate(-45 378.80 284.20)">Treated</text>
<text x="393.20" y="173.80" font-size="5.264" text-anchor="end" fill="#333" textLength="5.23" lengthAdjust="spacingAndGlyphs">61</text>
<circle cx="397.60" cy="166.20" r="0.62" fill="#222"/>
<text x="401.20" y="168.10" font-size="5.264" fill="#222" textLength="51.85" lengthAdjust="spacingAndGlyphs">regulation of hemopoiesis</text>
<circle cx="397.60" cy="171.90" r="0.62" fill="#222"/>
<text x="401.20" y="173.80" font-size="5.264" fill="#222" textLength="78.57" lengthAdjust="spacingAndGlyphs">regulation of myeloid cell differentiation</text>
<circle cx="397.60" cy="177.90" r="0.62" fill="#222"/>
<text x="401.20" y="179.80" font-size="5.264" fill="#222" textLength="72.06" lengthAdjust="spacingAndGlyphs">chromatin assembly or disassembly</text>
<text x="393.20" y="206.10" font-size="5.264" text-anchor="end" fill="#333" textLength="5.23" lengthAdjust="spacingAndGlyphs">26</text>
<circle cx="397.60" cy="198.10" r="0.62" fill="#222"/>
<text x="401.20" y="200.00" font-size="5.264" fill="#222" textLength="55.39" lengthAdjust="spacingAndGlyphs">leukocyte cell-cell adhesion</text>
<circle cx="397.60" cy="204.20" r="0.62" fill="#222"/>
<text x="401.20" y="206.10" font-size="5.264" fill="#222" textLength="82.70" lengthAdjust="spacingAndGlyphs">positive regulation of leukocyte activation</text>
<circle cx="397.60" cy="210.40" r="0.62" fill="#222"/>
<text x="401.20" y="212.30" font-size="5.264" fill="#222" textLength="31.27" lengthAdjust="spacingAndGlyphs">T cell activation</text>
<text x="393.20" y="238.80" font-size="5.264" text-anchor="end" fill="#333" textLength="5.23" lengthAdjust="spacingAndGlyphs">63</text>
<circle cx="397.60" cy="228.50" r="0.62" fill="#222"/>
<text x="401.20" y="230.40" font-size="5.264" fill="#222" textLength="70.06" lengthAdjust="spacingAndGlyphs">negative regulation of DNA binding</text>
<circle cx="397.60" cy="234.00" r="0.62" fill="#222"/>
<text x="401.20" y="235.90" font-size="5.264" fill="#222" textLength="53.52" lengthAdjust="spacingAndGlyphs">transcription factor activity,</text>
<text x="393.20" y="271.10" font-size="5.264" text-anchor="end" fill="#333" textLength="5.23" lengthAdjust="spacingAndGlyphs">61</text>
<circle cx="397.60" cy="262.90" r="0.62" fill="#222"/>
<text x="401.20" y="264.80" font-size="5.264" fill="#222" textLength="44.76" lengthAdjust="spacingAndGlyphs">definitive hemopoiesis</text>
<circle cx="397.60" cy="269.20" r="0.62" fill="#222"/>
<text x="401.20" y="271.10" font-size="5.264" fill="#222" textLength="43.51" lengthAdjust="spacingAndGlyphs">platelet degranulation</text>
<circle cx="397.60" cy="275.00" r="0.62" fill="#222"/>
<text x="401.20" y="276.90" font-size="5.264" fill="#222" textLength="70.31" lengthAdjust="spacingAndGlyphs">negative regulation of hemopoiesis</text>
<text x="401.20" y="241.90" font-size="5.264" fill="#222" textLength="75.85" lengthAdjust="spacingAndGlyphs">RNA polymerase II proximal promoter</text>
<text x="401.20" y="247.50" font-size="5.264" fill="#222" textLength="62.97" lengthAdjust="spacingAndGlyphs">sequence-specific DNA binding</text>
<line x1="61.65" y1="347.80" x2="61.65" y2="476.70" stroke="#ececec" stroke-width="0.7"/>
<line x1="65.28" y1="347.80" x2="65.28" y2="476.70" stroke="#ececec" stroke-width="0.7"/>
<line x1="68.91" y1="347.80" x2="68.91" y2="476.70" stroke="#ececec" stroke-width="0.7"/>
<line x1="72.54" y1="347.80" x2="72.54" y2="476.70" stroke="#ececec" stroke-width="0.7"/>
<line x1="76.16" y1="347.80" x2="76.16" y2="476.70" stroke="#ececec" stroke-width="0.7"/>
<line x1="79.79" y1="347.80" x2="79.79" y2="476.70" stroke="#ececec" stroke-width="0.7"/>
<line x1="83.42" y1="347.80" x2="83.42" y2="476.70" stroke="#ececec" stroke-width="0.7"/>
<line x1="87.05" y1="347.80" x2="87.05" y2="476.70" stroke="#ececec" stroke-width="0.7"/>
<rect x="59.50" y="347.20" width="29.70" height="130.10" fill="none" stroke="#1a1a1a" stroke-width="1.05"/>
<line x1="56.10" y1="352.90" x2="59.50" y2="352.90" stroke="#222" stroke-width="1.1"/>
<text x="52.80" y="354.71" font-size="5.04" text-anchor="end" textLength="45.52" lengthAdjust="spacingAndGlyphs"><tspan fill="#1e1e1e">a6b1 complex_LAMC1</tspan></text>
<circle cx="61.65" cy="352.90" r="1.64" fill="#3a2b8e"/>
<circle cx="65.28" cy="352.90" r="1.64" fill="#3a2b8e"/>
<circle cx="68.91" cy="352.90" r="1.64" fill="#3a2b8e"/>
<circle cx="72.54" cy="352.90" r="0.88" fill="#3a2b8e"/>
<circle cx="76.16" cy="352.90" r="1.64" fill="#3a2b8e"/>
<circle cx="79.79" cy="352.90" r="0.88" fill="#3a2b8e"/>
<circle cx="83.42" cy="352.90" r="1.64" fill="#3a2b8e"/>
<circle cx="87.05" cy="352.90" r="1.42" fill="#3a2b8e"/>
<line x1="56.10" y1="362.80" x2="59.50" y2="362.80" stroke="#222" stroke-width="1.1"/>
<text x="52.80" y="364.61" font-size="5.04" text-anchor="end" textLength="34.76" lengthAdjust="spacingAndGlyphs"><tspan fill="#1e1e1e">CXCR4_CXCL12</tspan></text>
<circle cx="61.65" cy="362.80" r="0.88" fill="#cc2038"/>
<circle cx="65.28" cy="362.80" r="0.88" fill="#cc2038"/>
<circle cx="68.91" cy="362.80" r="0.88" fill="#cc2038"/>
<circle cx="72.54" cy="362.80" r="0.88" fill="#cc2038"/>
<circle cx="76.16" cy="362.80" r="0.88" fill="#cc2038"/>
<circle cx="79.79" cy="362.80" r="0.88" fill="#cc2038"/>
<circle cx="83.42" cy="362.80" r="0.88" fill="#cc2038"/>
<circle cx="87.05" cy="362.80" r="1.64" fill="#cc2038"/>
<line x1="56.10" y1="372.70" x2="59.50" y2="372.70" stroke="#222" stroke-width="1.1"/>
<text x="52.80" y="374.51" font-size="5.04" text-anchor="end" textLength="29.76" lengthAdjust="spacingAndGlyphs"><tspan fill="#1e1e1e">IL24_NOTCH2</tspan></text>
<circle cx="61.65" cy="372.70" r="1.64" fill="#5a238a"/>
<circle cx="65.28" cy="372.70" r="1.15" fill="#5a238a"/>
<circle cx="68.91" cy="372.70" r="1.64" fill="#5a238a"/>
<circle cx="72.54" cy="372.70" r="0.88" fill="#5a238a"/>
<circle cx="76.16" cy="372.70" r="1.64" fill="#5a238a"/>
<circle cx="79.79" cy="372.70" r="1.15" fill="#5a238a"/>
<circle cx="83.42" cy="372.70" r="1.64" fill="#5a238a"/>
<circle cx="87.05" cy="372.70" r="1.15" fill="#5a238a"/>
<line x1="56.10" y1="382.60" x2="59.50" y2="382.60" stroke="#222" stroke-width="1.1"/>
<text x="52.80" y="384.41" font-size="5.04" text-anchor="end" textLength="33.00" lengthAdjust="spacingAndGlyphs"><tspan fill="#1e1e1e">NAMPT_NTRK1</tspan></text>
<circle cx="61.65" cy="382.60" r="0.88" fill="#30399a"/>
<circle cx="65.28" cy="382.60" r="0.88" fill="#30399a"/>
<circle cx="68.91" cy="382.60" r="0.88" fill="#5a238a"/>
<circle cx="72.54" cy="382.60" r="0.88" fill="#30399a"/>
<circle cx="76.16" cy="382.60" r="1.64" fill="#5a238a"/>
<circle cx="79.79" cy="382.60" r="0.88" fill="#30399a"/>
<circle cx="83.42" cy="382.60" r="0.88" fill="#30399a"/>
<circle cx="87.05" cy="382.60" r="0.88" fill="#30399a"/>
<line x1="56.10" y1="392.50" x2="59.50" y2="392.50" stroke="#222" stroke-width="1.1"/>
<text x="52.80" y="394.31" font-size="5.04" text-anchor="end" textLength="23.26" lengthAdjust="spacingAndGlyphs"><tspan fill="#1e1e1e">CD96_PVR</tspan></text>
<circle cx="61.65" cy="392.50" r="1.64" fill="#5a238a"/>
<circle cx="65.28" cy="392.50" r="0.88" fill="#5a238a"/>
<circle cx="68.91" cy="392.50" r="0.88" fill="#5a238a"/>
<circle cx="72.54" cy="392.50" r="0.88" fill="#30399a"/>
<circle cx="76.16" cy="392.50" r="0.88" fill="#5a238a"/>
<circle cx="79.79" cy="392.50" r="0.88" fill="#5a238a"/>
<circle cx="83.42" cy="392.50" r="0.88" fill="#5a238a"/>
<circle cx="87.05" cy="392.50" r="0.88" fill="#30399a"/>
<line x1="56.10" y1="402.40" x2="59.50" y2="402.40" stroke="#222" stroke-width="1.1"/>
<text x="52.80" y="404.21" font-size="5.04" text-anchor="end" textLength="45.02" lengthAdjust="spacingAndGlyphs"><tspan fill="#1e1e1e">CD47_SIRB1 complex</tspan></text>
<circle cx="61.65" cy="402.40" r="0.88" fill="#5a238a"/>
<circle cx="65.28" cy="402.40" r="0.88" fill="#30399a"/>
<circle cx="68.91" cy="402.40" r="0.88" fill="#5a238a"/>
<circle cx="72.54" cy="402.40" r="0.88" fill="#30399a"/>
<circle cx="76.16" cy="402.40" r="0.88" fill="#30399a"/>
<circle cx="79.79" cy="402.40" r="1.42" fill="#5a238a"/>
<circle cx="83.42" cy="402.40" r="0.88" fill="#5a238a"/>
<circle cx="87.05" cy="402.40" r="0.88" fill="#5a238a"/>
<line x1="56.10" y1="412.30" x2="59.50" y2="412.30" stroke="#222" stroke-width="1.1"/>
<text x="52.80" y="414.11" font-size="5.04" text-anchor="end" textLength="32.14" lengthAdjust="spacingAndGlyphs"><tspan fill="#1e1e1e">HLA−C_FAM3C</tspan></text>
<circle cx="61.65" cy="412.30" r="0.88" fill="#5a238a"/>
<circle cx="65.28" cy="412.30" r="0.88" fill="#5a238a"/>
<circle cx="68.91" cy="412.30" r="0.88" fill="#5a238a"/>
<circle cx="72.54" cy="412.30" r="1.64" fill="#3a2b8e"/>
<circle cx="76.16" cy="412.30" r="0.88" fill="#5a238a"/>
<circle cx="79.79" cy="412.30" r="0.88" fill="#5a238a"/>
<circle cx="83.42" cy="412.30" r="1.42" fill="#3a2b8e"/>
<circle cx="87.05" cy="412.30" r="0.88" fill="#5a238a"/>
<line x1="56.10" y1="422.20" x2="59.50" y2="422.20" stroke="#222" stroke-width="1.1"/>
<text x="52.80" y="424.01" font-size="5.04" text-anchor="end" textLength="38.02" lengthAdjust="spacingAndGlyphs"><tspan fill="#1e1e1e">LCK</tspan><tspan fill="#9a9a9a">_CD8 receptor</tspan></text>
<circle cx="61.65" cy="422.20" r="0.88" fill="#8c1f72"/>
<circle cx="65.28" cy="422.20" r="0.88" fill="#8c1f72"/>
<circle cx="68.91" cy="422.20" r="0.88" fill="#8c1f72"/>
<circle cx="72.54" cy="422.20" r="0.88" fill="#8c1f72"/>
<circle cx="76.16" cy="422.20" r="0.88" fill="#8c1f72"/>
<circle cx="79.79" cy="422.20" r="0.88" fill="#8c1f72"/>
<circle cx="83.42" cy="422.20" r="0.88" fill="#8c1f72"/>
<circle cx="87.05" cy="422.20" r="0.88" fill="#30399a"/>
<line x1="56.10" y1="432.10" x2="59.50" y2="432.10" stroke="#222" stroke-width="1.1"/>
<text x="52.80" y="433.91" font-size="5.04" text-anchor="end" textLength="27.18" lengthAdjust="spacingAndGlyphs"><tspan fill="#1e1e1e">CD47</tspan><tspan fill="#9a9a9a">_SIRPA</tspan></text>
<circle cx="61.65" cy="432.10" r="0.88" fill="#6c2a98"/>
<circle cx="65.28" cy="432.10" r="0.88" fill="#6c2a98"/>
<circle cx="68.91" cy="432.10" r="0.88" fill="#6c2a98"/>
<circle cx="72.54" cy="432.10" r="0.88" fill="#6c2a98"/>
<circle cx="76.16" cy="432.10" r="0.88" fill="#6c2a98"/>
<circle cx="79.79" cy="432.10" r="0.88" fill="#6c2a98"/>
<circle cx="83.42" cy="432.10" r="0.88" fill="#6c2a98"/>
<circle cx="87.05" cy="432.10" r="0.88" fill="#6c2a98"/>
<line x1="56.10" y1="442.00" x2="59.50" y2="442.00" stroke="#222" stroke-width="1.1"/>
<text x="52.80" y="443.81" font-size="5.04" text-anchor="end" textLength="34.52" lengthAdjust="spacingAndGlyphs"><tspan fill="#1e1e1e">CLEC2D</tspan><tspan fill="#9a9a9a">_KLRB1</tspan></text>
<circle cx="61.65" cy="442.00" r="0.88" fill="#7a2486"/>
<circle cx="65.28" cy="442.00" r="0.88" fill="#7a2486"/>
<circle cx="68.91" cy="442.00" r="0.88" fill="#7a2486"/>
<circle cx="72.54" cy="442.00" r="0.88" fill="#7a2486"/>
<circle cx="76.16" cy="442.00" r="0.88" fill="#7a2486"/>
<circle cx="79.79" cy="442.00" r="0.88" fill="#7a2486"/>
<circle cx="83.42" cy="442.00" r="0.88" fill="#7a2486"/>
<circle cx="87.05" cy="442.00" r="0.88" fill="#7a2486"/>
<line x1="56.10" y1="451.90" x2="59.50" y2="451.90" stroke="#222" stroke-width="1.1"/>
<text x="52.80" y="453.71" font-size="5.04" text-anchor="end" textLength="28.26" lengthAdjust="spacingAndGlyphs"><tspan fill="#1e1e1e">IL16</tspan><tspan fill="#9a9a9a">_GRIN2C</tspan></text>
<circle cx="61.65" cy="451.90" r="0.88" fill="#6c2a98"/>
<circle cx="65.28" cy="451.90" r="0.88" fill="#6c2a98"/>
<circle cx="68.91" cy="451.90" r="0.88" fill="#6c2a98"/>
<circle cx="72.54" cy="451.90" r="0.88" fill="#6c2a98"/>
<circle cx="76.16" cy="451.90" r="0.88" fill="#6c2a98"/>
<circle cx="79.79" cy="451.90" r="0.88" fill="#6c2a98"/>
<circle cx="83.42" cy="451.90" r="0.88" fill="#6c2a98"/>
<circle cx="87.05" cy="451.90" r="0.88" fill="#6c2a98"/>
<line x1="56.10" y1="461.80" x2="59.50" y2="461.80" stroke="#222" stroke-width="1.1"/>
<text x="52.80" y="463.61" font-size="5.04" text-anchor="end" textLength="25.26" lengthAdjust="spacingAndGlyphs"><tspan fill="#9a9a9a">CD46_JAG1</tspan></text>
<circle cx="61.65" cy="461.80" r="0.88" fill="#6c2a98"/>
<circle cx="65.28" cy="461.80" r="0.88" fill="#6c2a98"/>
<circle cx="68.91" cy="461.80" r="0.88" fill="#6c2a98"/>
<circle cx="72.54" cy="461.80" r="0.88" fill="#6c2a98"/>
<circle cx="76.16" cy="461.80" r="0.88" fill="#6c2a98"/>
<circle cx="79.79" cy="461.80" r="0.88" fill="#6c2a98"/>
<circle cx="83.42" cy="461.80" r="0.88" fill="#6c2a98"/>
<circle cx="87.05" cy="461.80" r="0.88" fill="#6c2a98"/>
<line x1="56.10" y1="471.70" x2="59.50" y2="471.70" stroke="#222" stroke-width="1.1"/>
<text x="52.80" y="473.51" font-size="5.04" text-anchor="end" textLength="37.00" lengthAdjust="spacingAndGlyphs"><tspan fill="#9a9a9a">TFRC_</tspan><tspan fill="#1e1e1e">TNFSF13B</tspan></text>
<circle cx="61.65" cy="471.70" r="0.88" fill="#8c1f72"/>
<circle cx="65.28" cy="471.70" r="0.88" fill="#5a238a"/>
<circle cx="68.91" cy="471.70" r="0.88" fill="#5a238a"/>
<circle cx="72.54" cy="471.70" r="0.88" fill="#30399a"/>
<circle cx="76.16" cy="471.70" r="0.88" fill="#30399a"/>
<circle cx="79.79" cy="471.70" r="0.88" fill="#5a238a"/>
<circle cx="83.42" cy="471.70" r="0.88" fill="#8c1f72"/>
<circle cx="87.05" cy="471.70" r="0.88" fill="#30399a"/>
<line x1="61.65" y1="477.30" x2="61.65" y2="480.80" stroke="#333" stroke-width="0.9"/>
<text x="61.65" y="488.00" font-size="5.0" text-anchor="middle" fill="#5a63a6">1</text>
<line x1="65.28" y1="477.30" x2="65.28" y2="480.80" stroke="#333" stroke-width="0.9"/>
<text x="65.28" y="488.00" font-size="5.0" text-anchor="middle" fill="#5a63a6">2</text>
<line x1="68.91" y1="477.30" x2="68.91" y2="480.80" stroke="#333" stroke-width="0.9"/>
<text x="68.91" y="488.00" font-size="5.0" text-anchor="middle" fill="#5a63a6">3</text>
<line x1="72.54" y1="477.30" x2="72.54" y2="480.80" stroke="#333" stroke-width="0.9"/>
<text x="72.54" y="488.00" font-size="5.0" text-anchor="middle" fill="#5a63a6">4</text>
<line x1="76.16" y1="477.30" x2="76.16" y2="480.80" stroke="#333" stroke-width="0.9"/>
<text x="76.16" y="488.00" font-size="5.0" text-anchor="middle" fill="#5a63a6">5</text>
<line x1="79.79" y1="477.30" x2="79.79" y2="480.80" stroke="#333" stroke-width="0.9"/>
<text x="79.79" y="488.00" font-size="5.0" text-anchor="middle" fill="#5a63a6">6</text>
<line x1="83.42" y1="477.30" x2="83.42" y2="480.80" stroke="#333" stroke-width="0.9"/>
<text x="83.42" y="488.00" font-size="5.0" text-anchor="middle" fill="#5a63a6">7</text>
<line x1="87.05" y1="477.30" x2="87.05" y2="480.80" stroke="#333" stroke-width="0.9"/>
<text x="87.05" y="488.00" font-size="5.0" text-anchor="middle" fill="#5a63a6">8</text>
<text x="74.35" y="343.14" font-size="7.616" text-anchor="middle" fill="#1a1a1a" textLength="17.38" lengthAdjust="spacingAndGlyphs">Naive</text>
<text x="26.50" y="488.05" font-size="5.152" text-anchor="middle" fill="#222" textLength="2.81" lengthAdjust="spacingAndGlyphs">T</text>
<text x="45.60" y="488.05" font-size="5.152" text-anchor="middle" fill="#222" textLength="10.60" lengthAdjust="spacingAndGlyphs">HSPC</text>
<line x1="26.50" y1="478.00" x2="26.50" y2="479.60" stroke="#333" stroke-width="0.6"/>
<line x1="44.80" y1="478.00" x2="44.80" y2="479.60" stroke="#333" stroke-width="0.6"/>
<line x1="146.65" y1="347.50" x2="146.65" y2="476.70" stroke="#ececec" stroke-width="0.7"/>
<line x1="150.29" y1="347.50" x2="150.29" y2="476.70" stroke="#ececec" stroke-width="0.7"/>
<line x1="153.94" y1="347.50" x2="153.94" y2="476.70" stroke="#ececec" stroke-width="0.7"/>
<line x1="157.58" y1="347.50" x2="157.58" y2="476.70" stroke="#ececec" stroke-width="0.7"/>
<line x1="161.22" y1="347.50" x2="161.22" y2="476.70" stroke="#ececec" stroke-width="0.7"/>
<line x1="164.86" y1="347.50" x2="164.86" y2="476.70" stroke="#ececec" stroke-width="0.7"/>
<line x1="168.51" y1="347.50" x2="168.51" y2="476.70" stroke="#ececec" stroke-width="0.7"/>
<line x1="172.15" y1="347.50" x2="172.15" y2="476.70" stroke="#ececec" stroke-width="0.7"/>
<rect x="144.50" y="346.90" width="29.80" height="130.40" fill="none" stroke="#1a1a1a" stroke-width="1.05"/>
<line x1="141.10" y1="350.10" x2="144.50" y2="350.10" stroke="#222" stroke-width="1.1"/>
<text x="138.40" y="351.87" font-size="4.928" text-anchor="end" textLength="33.99" lengthAdjust="spacingAndGlyphs"><tspan fill="#1e1e1e">CXCR4_CXCL12</tspan></text>
<circle cx="146.65" cy="350.10" r="0.88" fill="#cc2038"/>
<circle cx="150.29" cy="350.10" r="0.88" fill="#cc2038"/>
<circle cx="153.94" cy="350.10" r="0.88" fill="#cc2038"/>
<circle cx="157.58" cy="350.10" r="0.88" fill="#cc2038"/>
<circle cx="161.22" cy="350.10" r="0.88" fill="#cc2038"/>
<circle cx="164.86" cy="350.10" r="0.88" fill="#cc2038"/>
<circle cx="168.51" cy="350.10" r="0.88" fill="#cc2038"/>
<circle cx="172.15" cy="350.10" r="1.64" fill="#cc2038"/>
<line x1="141.10" y1="355.49" x2="144.50" y2="355.49" stroke="#222" stroke-width="1.1"/>
<text x="138.40" y="357.26" font-size="4.928" text-anchor="end" textLength="31.06" lengthAdjust="spacingAndGlyphs"><tspan fill="#1e1e1e">EPHA4_EFNA4</tspan></text>
<circle cx="146.65" cy="355.49" r="0.88" fill="#30399a"/>
<circle cx="150.29" cy="355.49" r="0.88" fill="#30399a"/>
<circle cx="153.94" cy="355.49" r="0.88" fill="#30399a"/>
<circle cx="157.58" cy="355.49" r="0.88" fill="#30399a"/>
<circle cx="161.22" cy="355.49" r="0.88" fill="#30399a"/>
<circle cx="164.86" cy="355.49" r="0.88" fill="#30399a"/>
<circle cx="168.51" cy="355.49" r="0.88" fill="#30399a"/>
<circle cx="172.15" cy="355.49" r="1.64" fill="#3a2b8e"/>
<line x1="141.10" y1="360.87" x2="144.50" y2="360.87" stroke="#222" stroke-width="1.1"/>
<text x="138.40" y="362.64" font-size="4.928" text-anchor="end" textLength="32.27" lengthAdjust="spacingAndGlyphs"><tspan fill="#1e1e1e">NAMPT_NTRK1</tspan></text>
<circle cx="146.65" cy="360.87" r="0.88" fill="#30399a"/>
<circle cx="150.29" cy="360.87" r="0.88" fill="#30399a"/>
<circle cx="153.94" cy="360.87" r="1.64" fill="#5a238a"/>
<circle cx="157.58" cy="360.87" r="0.88" fill="#30399a"/>
<circle cx="161.22" cy="360.87" r="1.64" fill="#5a238a"/>
<circle cx="164.86" cy="360.87" r="0.88" fill="#30399a"/>
<circle cx="168.51" cy="360.87" r="0.88" fill="#30399a"/>
<circle cx="172.15" cy="360.87" r="0.88" fill="#30399a"/>
<line x1="141.10" y1="366.25" x2="144.50" y2="366.25" stroke="#222" stroke-width="1.1"/>
<text x="138.40" y="368.03" font-size="4.928" text-anchor="end" textLength="29.01" lengthAdjust="spacingAndGlyphs"><tspan fill="#1e1e1e">COPA_NTRK1</tspan></text>
<circle cx="146.65" cy="366.25" r="0.88" fill="#30399a"/>
<circle cx="150.29" cy="366.25" r="0.88" fill="#30399a"/>
<circle cx="153.94" cy="366.25" r="1.42" fill="#5a238a"/>
<circle cx="157.58" cy="366.25" r="0.88" fill="#30399a"/>
<circle cx="161.22" cy="366.25" r="1.64" fill="#5a238a"/>
<circle cx="164.86" cy="366.25" r="0.88" fill="#30399a"/>
<circle cx="168.51" cy="366.25" r="0.88" fill="#30399a"/>
<circle cx="172.15" cy="366.25" r="0.88" fill="#30399a"/>
<line x1="141.10" y1="371.64" x2="144.50" y2="371.64" stroke="#222" stroke-width="1.1"/>
<text x="138.40" y="373.41" font-size="4.928" text-anchor="end" textLength="36.10" lengthAdjust="spacingAndGlyphs"><tspan fill="#1e1e1e">TGF-βR3_TGF-β1</tspan></text>
<circle cx="146.65" cy="371.64" r="1.42" fill="#5a238a"/>
<circle cx="150.29" cy="371.64" r="0.88" fill="#5a238a"/>
<circle cx="153.94" cy="371.64" r="0.88" fill="#5a238a"/>
<circle cx="157.58" cy="371.64" r="0.88" fill="#30399a"/>
<circle cx="161.22" cy="371.64" r="1.15" fill="#3a2b8e"/>
<circle cx="164.86" cy="371.64" r="1.64" fill="#5a238a"/>
<circle cx="168.51" cy="371.64" r="1.64" fill="#5a238a"/>
<circle cx="172.15" cy="371.64" r="0.88" fill="#5a238a"/>
<line x1="141.10" y1="377.03" x2="144.50" y2="377.03" stroke="#222" stroke-width="1.1"/>
<text x="138.40" y="378.80" font-size="4.928" text-anchor="end" textLength="22.74" lengthAdjust="spacingAndGlyphs"><tspan fill="#1e1e1e">CD96_PVR</tspan></text>
<circle cx="146.65" cy="377.03" r="1.64" fill="#5a238a"/>
<circle cx="150.29" cy="377.03" r="0.88" fill="#5a238a"/>
<circle cx="153.94" cy="377.03" r="0.88" fill="#5a238a"/>
<circle cx="157.58" cy="377.03" r="0.88" fill="#30399a"/>
<circle cx="161.22" cy="377.03" r="0.88" fill="#5a238a"/>
<circle cx="164.86" cy="377.03" r="0.88" fill="#5a238a"/>
<circle cx="168.51" cy="377.03" r="0.88" fill="#5a238a"/>
<circle cx="172.15" cy="377.03" r="0.88" fill="#30399a"/>
<line x1="141.10" y1="382.41" x2="144.50" y2="382.41" stroke="#222" stroke-width="1.1"/>
<text x="138.40" y="384.18" font-size="4.928" text-anchor="end" textLength="44.02" lengthAdjust="spacingAndGlyphs"><tspan fill="#1e1e1e">CD47_SIRB1 complex</tspan></text>
<circle cx="146.65" cy="382.41" r="0.88" fill="#5a238a"/>
<circle cx="150.29" cy="382.41" r="0.88" fill="#30399a"/>
<circle cx="153.94" cy="382.41" r="0.88" fill="#5a238a"/>
<circle cx="157.58" cy="382.41" r="0.88" fill="#30399a"/>
<circle cx="161.22" cy="382.41" r="0.88" fill="#30399a"/>
<circle cx="164.86" cy="382.41" r="1.64" fill="#5a238a"/>
<circle cx="168.51" cy="382.41" r="0.88" fill="#5a238a"/>
<circle cx="172.15" cy="382.41" r="1.64" fill="#5a238a"/>
<line x1="141.10" y1="387.80" x2="144.50" y2="387.80" stroke="#222" stroke-width="1.1"/>
<text x="138.40" y="389.57" font-size="4.928" text-anchor="end" textLength="28.12" lengthAdjust="spacingAndGlyphs"><tspan fill="#1e1e1e">ANXA1_FPR1</tspan></text>
<circle cx="146.65" cy="387.80" r="0.88" fill="#8c1f72"/>
<circle cx="150.29" cy="387.80" r="0.88" fill="#8c1f72"/>
<circle cx="153.94" cy="387.80" r="0.88" fill="#8c1f72"/>
<circle cx="157.58" cy="387.80" r="0.88" fill="#8c1f72"/>
<circle cx="161.22" cy="387.80" r="0.88" fill="#8c1f72"/>
<circle cx="164.86" cy="387.80" r="1.64" fill="#b3124e"/>
<circle cx="168.51" cy="387.80" r="0.88" fill="#8c1f72"/>
<circle cx="172.15" cy="387.80" r="0.88" fill="#30399a"/>
<line x1="141.10" y1="393.18" x2="144.50" y2="393.18" stroke="#222" stroke-width="1.1"/>
<text x="138.40" y="394.95" font-size="4.928" text-anchor="end" textLength="31.71" lengthAdjust="spacingAndGlyphs"><tspan fill="#1e1e1e">NAMPT_P2RY6</tspan></text>
<circle cx="146.65" cy="393.18" r="0.88" fill="#30399a"/>
<circle cx="150.29" cy="393.18" r="0.88" fill="#30399a"/>
<circle cx="153.94" cy="393.18" r="0.88" fill="#30399a"/>
<circle cx="157.58" cy="393.18" r="0.88" fill="#30399a"/>
<circle cx="161.22" cy="393.18" r="0.88" fill="#30399a"/>
<circle cx="164.86" cy="393.18" r="0.88" fill="#30399a"/>
<circle cx="168.51" cy="393.18" r="0.88" fill="#30399a"/>
<circle cx="172.15" cy="393.18" r="1.42" fill="#5a238a"/>
<line x1="141.10" y1="398.56" x2="144.50" y2="398.56" stroke="#222" stroke-width="1.1"/>
<text x="138.40" y="400.34" font-size="4.928" text-anchor="end" textLength="30.57" lengthAdjust="spacingAndGlyphs"><tspan fill="#1e1e1e">DPP4_CXCL12</tspan></text>
<circle cx="146.65" cy="398.56" r="0.88" fill="#30399a"/>
<circle cx="150.29" cy="398.56" r="0.88" fill="#30399a"/>
<circle cx="153.94" cy="398.56" r="0.88" fill="#3a2b8e"/>
<circle cx="157.58" cy="398.56" r="0.88" fill="#30399a"/>
<circle cx="161.22" cy="398.56" r="0.88" fill="#30399a"/>
<circle cx="164.86" cy="398.56" r="0.88" fill="#3a2b8e"/>
<circle cx="168.51" cy="398.56" r="0.88" fill="#30399a"/>
<circle cx="172.15" cy="398.56" r="1.42" fill="#3a2b8e"/>
<line x1="141.10" y1="403.95" x2="144.50" y2="403.95" stroke="#222" stroke-width="1.1"/>
<text x="138.40" y="405.72" font-size="4.928" text-anchor="end" textLength="36.18" lengthAdjust="spacingAndGlyphs"><tspan fill="#1e1e1e">TFRC_TNFSF13B</tspan></text>
<circle cx="146.65" cy="403.95" r="1.64" fill="#5a238a"/>
<circle cx="150.29" cy="403.95" r="0.88" fill="#5a238a"/>
<circle cx="153.94" cy="403.95" r="0.88" fill="#5a238a"/>
<circle cx="157.58" cy="403.95" r="0.88" fill="#5a238a"/>
<circle cx="161.22" cy="403.95" r="0.88" fill="#5a238a"/>
<circle cx="164.86" cy="403.95" r="0.88" fill="#5a238a"/>
<circle cx="168.51" cy="403.95" r="1.64" fill="#5a238a"/>
<circle cx="172.15" cy="403.95" r="0.88" fill="#5a238a"/>
<line x1="141.10" y1="409.34" x2="144.50" y2="409.34" stroke="#222" stroke-width="1.1"/>
<text x="138.40" y="411.11" font-size="4.928" text-anchor="end" textLength="31.42" lengthAdjust="spacingAndGlyphs"><tspan fill="#1e1e1e">HLA−C_FAM3C</tspan></text>
<circle cx="146.65" cy="409.34" r="0.88" fill="#5a238a"/>
<circle cx="150.29" cy="409.34" r="1.15" fill="#3a2b8e"/>
<circle cx="153.94" cy="409.34" r="0.88" fill="#5a238a"/>
<circle cx="157.58" cy="409.34" r="1.64" fill="#3a2b8e"/>
<circle cx="161.22" cy="409.34" r="0.88" fill="#5a238a"/>
<circle cx="164.86" cy="409.34" r="0.88" fill="#5a238a"/>
<circle cx="168.51" cy="409.34" r="1.42" fill="#3a2b8e"/>
<circle cx="172.15" cy="409.34" r="0.88" fill="#5a238a"/>
<line x1="141.10" y1="414.72" x2="144.50" y2="414.72" stroke="#222" stroke-width="1.1"/>
<text x="138.40" y="416.49" font-size="4.928" text-anchor="end" textLength="37.17" lengthAdjust="spacingAndGlyphs"><tspan fill="#1e1e1e">LCK</tspan><tspan fill="#9a9a9a">_CD8 receptor</tspan></text>
<circle cx="146.65" cy="414.72" r="0.88" fill="#8c1f72"/>
<circle cx="150.29" cy="414.72" r="0.88" fill="#8c1f72"/>
<circle cx="153.94" cy="414.72" r="0.88" fill="#8c1f72"/>
<circle cx="157.58" cy="414.72" r="0.88" fill="#8c1f72"/>
<circle cx="161.22" cy="414.72" r="0.88" fill="#8c1f72"/>
<circle cx="164.86" cy="414.72" r="0.88" fill="#8c1f72"/>
<circle cx="168.51" cy="414.72" r="0.88" fill="#8c1f72"/>
<circle cx="172.15" cy="414.72" r="0.88" fill="#30399a"/>
<line x1="141.10" y1="420.11" x2="144.50" y2="420.11" stroke="#222" stroke-width="1.1"/>
<text x="138.40" y="421.88" font-size="4.928" text-anchor="end" textLength="44.51" lengthAdjust="spacingAndGlyphs"><tspan fill="#9a9a9a">a6b1 complex_</tspan><tspan fill="#1e1e1e">LAMC1</tspan></text>
<circle cx="146.65" cy="420.11" r="0.88" fill="#3a2b8e"/>
<circle cx="150.29" cy="420.11" r="0.88" fill="#3a2b8e"/>
<circle cx="153.94" cy="420.11" r="0.88" fill="#3a2b8e"/>
<circle cx="157.58" cy="420.11" r="0.88" fill="#3a2b8e"/>
<circle cx="161.22" cy="420.11" r="0.88" fill="#3a2b8e"/>
<circle cx="164.86" cy="420.11" r="0.88" fill="#3a2b8e"/>
<circle cx="168.51" cy="420.11" r="0.88" fill="#3a2b8e"/>
<circle cx="172.15" cy="420.11" r="0.88" fill="#3a2b8e"/>
<line x1="141.10" y1="425.49" x2="144.50" y2="425.49" stroke="#222" stroke-width="1.1"/>
<text x="138.40" y="427.26" font-size="4.928" text-anchor="end" textLength="31.79" lengthAdjust="spacingAndGlyphs"><tspan fill="#9a9a9a">ADGRE5_</tspan><tspan fill="#1e1e1e">CD55</tspan></text>
<circle cx="146.65" cy="425.49" r="0.88" fill="#7a2486"/>
<circle cx="150.29" cy="425.49" r="0.88" fill="#7a2486"/>
<circle cx="153.94" cy="425.49" r="0.88" fill="#7a2486"/>
<circle cx="157.58" cy="425.49" r="0.88" fill="#7a2486"/>
<circle cx="161.22" cy="425.49" r="0.88" fill="#7a2486"/>
<circle cx="164.86" cy="425.49" r="0.88" fill="#7a2486"/>
<circle cx="168.51" cy="425.49" r="0.88" fill="#7a2486"/>
<circle cx="172.15" cy="425.49" r="0.88" fill="#7a2486"/>
<line x1="141.10" y1="430.88" x2="144.50" y2="430.88" stroke="#222" stroke-width="1.1"/>
<text x="138.40" y="432.65" font-size="4.928" text-anchor="end" textLength="31.30" lengthAdjust="spacingAndGlyphs"><tspan fill="#1e1e1e">TMEM219</tspan><tspan fill="#9a9a9a">_IL13</tspan></text>
<circle cx="146.65" cy="430.88" r="0.88" fill="#30399a"/>
<circle cx="150.29" cy="430.88" r="0.88" fill="#30399a"/>
<circle cx="153.94" cy="430.88" r="0.88" fill="#30399a"/>
<circle cx="157.58" cy="430.88" r="0.88" fill="#30399a"/>
<circle cx="161.22" cy="430.88" r="0.88" fill="#5a238a"/>
<circle cx="164.86" cy="430.88" r="0.88" fill="#30399a"/>
<circle cx="168.51" cy="430.88" r="0.88" fill="#5a238a"/>
<circle cx="172.15" cy="430.88" r="0.88" fill="#30399a"/>
<line x1="141.10" y1="436.26" x2="144.50" y2="436.26" stroke="#222" stroke-width="1.1"/>
<text x="138.40" y="438.03" font-size="4.928" text-anchor="end" textLength="46.70" lengthAdjust="spacingAndGlyphs"><tspan fill="#9a9a9a">TNFSF10_</tspan><tspan fill="#1e1e1e">TNFRSF10A</tspan></text>
<circle cx="146.65" cy="436.26" r="0.88" fill="#3a2b8e"/>
<circle cx="150.29" cy="436.26" r="0.88" fill="#3a2b8e"/>
<circle cx="153.94" cy="436.26" r="0.88" fill="#3a2b8e"/>
<circle cx="157.58" cy="436.26" r="0.88" fill="#3a2b8e"/>
<circle cx="161.22" cy="436.26" r="0.88" fill="#3a2b8e"/>
<circle cx="164.86" cy="436.26" r="0.88" fill="#3a2b8e"/>
<circle cx="168.51" cy="436.26" r="0.88" fill="#3a2b8e"/>
<circle cx="172.15" cy="436.26" r="0.88" fill="#3a2b8e"/>
<line x1="141.10" y1="441.65" x2="144.50" y2="441.65" stroke="#222" stroke-width="1.1"/>
<text x="138.40" y="443.42" font-size="4.928" text-anchor="end" textLength="30.57" lengthAdjust="spacingAndGlyphs"><tspan fill="#1e1e1e">DPP4</tspan><tspan fill="#9a9a9a">_CXCL10</tspan></text>
<circle cx="146.65" cy="441.65" r="0.88" fill="#30399a"/>
<circle cx="150.29" cy="441.65" r="0.88" fill="#30399a"/>
<circle cx="153.94" cy="441.65" r="0.88" fill="#30399a"/>
<circle cx="157.58" cy="441.65" r="0.88" fill="#30399a"/>
<circle cx="161.22" cy="441.65" r="0.88" fill="#30399a"/>
<circle cx="164.86" cy="441.65" r="0.88" fill="#30399a"/>
<circle cx="168.51" cy="441.65" r="0.88" fill="#30399a"/>
<circle cx="172.15" cy="441.65" r="0.88" fill="#30399a"/>
<line x1="141.10" y1="447.03" x2="144.50" y2="447.03" stroke="#222" stroke-width="1.1"/>
<text x="138.40" y="448.80" font-size="4.928" text-anchor="end" textLength="33.75" lengthAdjust="spacingAndGlyphs"><tspan fill="#1e1e1e">CLEC2D</tspan><tspan fill="#9a9a9a">_KLRB1</tspan></text>
<circle cx="146.65" cy="447.03" r="0.88" fill="#8c1f72"/>
<circle cx="150.29" cy="447.03" r="0.88" fill="#8c1f72"/>
<circle cx="153.94" cy="447.03" r="0.88" fill="#8c1f72"/>
<circle cx="157.58" cy="447.03" r="0.88" fill="#8c1f72"/>
<circle cx="161.22" cy="447.03" r="0.88" fill="#8c1f72"/>
<circle cx="164.86" cy="447.03" r="0.88" fill="#8c1f72"/>
<circle cx="168.51" cy="447.03" r="0.88" fill="#8c1f72"/>
<circle cx="172.15" cy="447.03" r="0.88" fill="#8c1f72"/>
<line x1="141.10" y1="452.42" x2="144.50" y2="452.42" stroke="#222" stroke-width="1.1"/>
<text x="138.40" y="454.19" font-size="4.928" text-anchor="end" textLength="36.18" lengthAdjust="spacingAndGlyphs"><tspan fill="#9a9a9a">TNFSF13B_</tspan><tspan fill="#1e1e1e">TFRC</tspan></text>
<circle cx="146.65" cy="452.42" r="0.88" fill="#5a238a"/>
<circle cx="150.29" cy="452.42" r="0.88" fill="#8c1f72"/>
<circle cx="153.94" cy="452.42" r="0.88" fill="#8c1f72"/>
<circle cx="157.58" cy="452.42" r="0.88" fill="#5a238a"/>
<circle cx="161.22" cy="452.42" r="0.88" fill="#8c1f72"/>
<circle cx="164.86" cy="452.42" r="0.88" fill="#5a238a"/>
<circle cx="168.51" cy="452.42" r="0.88" fill="#8c1f72"/>
<circle cx="172.15" cy="452.42" r="0.88" fill="#5a238a"/>
<line x1="141.10" y1="457.80" x2="144.50" y2="457.80" stroke="#222" stroke-width="1.1"/>
<text x="138.40" y="459.57" font-size="4.928" text-anchor="end" textLength="25.19" lengthAdjust="spacingAndGlyphs"><tspan fill="#9a9a9a">CD226_</tspan><tspan fill="#1e1e1e">PVR</tspan></text>
<circle cx="146.65" cy="457.80" r="0.88" fill="#30399a"/>
<circle cx="150.29" cy="457.80" r="0.88" fill="#30399a"/>
<circle cx="153.94" cy="457.80" r="0.88" fill="#30399a"/>
<circle cx="157.58" cy="457.80" r="0.88" fill="#30399a"/>
<circle cx="161.22" cy="457.80" r="0.88" fill="#30399a"/>
<circle cx="164.86" cy="457.80" r="0.88" fill="#30399a"/>
<circle cx="168.51" cy="457.80" r="0.88" fill="#30399a"/>
<circle cx="172.15" cy="457.80" r="0.88" fill="#30399a"/>
<line x1="141.10" y1="463.19" x2="144.50" y2="463.19" stroke="#222" stroke-width="1.1"/>
<text x="138.40" y="464.96" font-size="4.928" text-anchor="end" textLength="27.63" lengthAdjust="spacingAndGlyphs"><tspan fill="#1e1e1e">IL16</tspan><tspan fill="#9a9a9a">_GRIN2C</tspan></text>
<circle cx="146.65" cy="463.19" r="0.88" fill="#6c2a98"/>
<circle cx="150.29" cy="463.19" r="0.88" fill="#6c2a98"/>
<circle cx="153.94" cy="463.19" r="0.88" fill="#6c2a98"/>
<circle cx="157.58" cy="463.19" r="0.88" fill="#6c2a98"/>
<circle cx="161.22" cy="463.19" r="0.88" fill="#6c2a98"/>
<circle cx="164.86" cy="463.19" r="0.88" fill="#6c2a98"/>
<circle cx="168.51" cy="463.19" r="0.88" fill="#6c2a98"/>
<circle cx="172.15" cy="463.19" r="0.88" fill="#6c2a98"/>
<line x1="141.10" y1="468.57" x2="144.50" y2="468.57" stroke="#222" stroke-width="1.1"/>
<text x="138.40" y="470.34" font-size="4.928" text-anchor="end" textLength="30.33" lengthAdjust="spacingAndGlyphs"><tspan fill="#1e1e1e">SELL</tspan><tspan fill="#9a9a9a">_SELPLG</tspan></text>
<circle cx="146.65" cy="468.57" r="0.88" fill="#8c1f72"/>
<circle cx="150.29" cy="468.57" r="0.88" fill="#8c1f72"/>
<circle cx="153.94" cy="468.57" r="0.88" fill="#8c1f72"/>
<circle cx="157.58" cy="468.57" r="0.88" fill="#8c1f72"/>
<circle cx="161.22" cy="468.57" r="0.88" fill="#8c1f72"/>
<circle cx="164.86" cy="468.57" r="0.88" fill="#8c1f72"/>
<circle cx="168.51" cy="468.57" r="0.88" fill="#8c1f72"/>
<circle cx="172.15" cy="468.57" r="0.88" fill="#8c1f72"/>
<line x1="141.10" y1="473.96" x2="144.50" y2="473.96" stroke="#222" stroke-width="1.1"/>
<text x="138.40" y="475.73" font-size="4.928" text-anchor="end" textLength="30.33" lengthAdjust="spacingAndGlyphs"><tspan fill="#9a9a9a">LGALS9_</tspan><tspan fill="#1e1e1e">CD44</tspan></text>
<circle cx="146.65" cy="473.96" r="0.88" fill="#8c1f72"/>
<circle cx="150.29" cy="473.96" r="0.88" fill="#5a238a"/>
<circle cx="153.94" cy="473.96" r="0.88" fill="#30399a"/>
<circle cx="157.58" cy="473.96" r="0.88" fill="#30399a"/>
<circle cx="161.22" cy="473.96" r="0.88" fill="#5a238a"/>
<circle cx="164.86" cy="473.96" r="0.88" fill="#5a238a"/>
<circle cx="168.51" cy="473.96" r="0.88" fill="#8c1f72"/>
<circle cx="172.15" cy="473.96" r="0.88" fill="#5a238a"/>
<line x1="146.65" y1="477.30" x2="146.65" y2="480.80" stroke="#333" stroke-width="0.9"/>
<text x="146.65" y="488.00" font-size="5.0" text-anchor="middle" fill="#5a63a6">1</text>
<line x1="150.29" y1="477.30" x2="150.29" y2="480.80" stroke="#333" stroke-width="0.9"/>
<text x="150.29" y="488.00" font-size="5.0" text-anchor="middle" fill="#5a63a6">2</text>
<line x1="153.94" y1="477.30" x2="153.94" y2="480.80" stroke="#333" stroke-width="0.9"/>
<text x="153.94" y="488.00" font-size="5.0" text-anchor="middle" fill="#5a63a6">3</text>
<line x1="157.58" y1="477.30" x2="157.58" y2="480.80" stroke="#333" stroke-width="0.9"/>
<text x="157.58" y="488.00" font-size="5.0" text-anchor="middle" fill="#5a63a6">4</text>
<line x1="161.22" y1="477.30" x2="161.22" y2="480.80" stroke="#333" stroke-width="0.9"/>
<text x="161.22" y="488.00" font-size="5.0" text-anchor="middle" fill="#5a63a6">5</text>
<line x1="164.86" y1="477.30" x2="164.86" y2="480.80" stroke="#333" stroke-width="0.9"/>
<text x="164.86" y="488.00" font-size="5.0" text-anchor="middle" fill="#5a63a6">6</text>
<line x1="168.51" y1="477.30" x2="168.51" y2="480.80" stroke="#333" stroke-width="0.9"/>
<text x="168.51" y="488.00" font-size="5.0" text-anchor="middle" fill="#5a63a6">7</text>
<line x1="172.15" y1="477.30" x2="172.15" y2="480.80" stroke="#333" stroke-width="0.9"/>
<text x="172.15" y="488.00" font-size="5.0" text-anchor="middle" fill="#5a63a6">8</text>
<text x="159.40" y="343.14" font-size="7.616" text-anchor="middle" fill="#1a1a1a" textLength="24.56" lengthAdjust="spacingAndGlyphs">Memory</text>
<text x="118.00" y="488.05" font-size="5.152" text-anchor="middle" fill="#222" textLength="2.81" lengthAdjust="spacingAndGlyphs">T</text>
<text x="136.20" y="488.05" font-size="5.152" text-anchor="middle" fill="#222" textLength="10.60" lengthAdjust="spacingAndGlyphs">HSPC</text>
<line x1="118.00" y1="478.00" x2="118.00" y2="479.60" stroke="#333" stroke-width="0.6"/>
<line x1="135.40" y1="478.00" x2="135.40" y2="479.60" stroke="#333" stroke-width="0.6"/>
<line x1="226.65" y1="347.60" x2="226.65" y2="476.70" stroke="#ececec" stroke-width="0.7"/>
<line x1="230.24" y1="347.60" x2="230.24" y2="476.70" stroke="#ececec" stroke-width="0.7"/>
<line x1="233.82" y1="347.60" x2="233.82" y2="476.70" stroke="#ececec" stroke-width="0.7"/>
<line x1="237.41" y1="347.60" x2="237.41" y2="476.70" stroke="#ececec" stroke-width="0.7"/>
<line x1="240.99" y1="347.60" x2="240.99" y2="476.70" stroke="#ececec" stroke-width="0.7"/>
<line x1="244.58" y1="347.60" x2="244.58" y2="476.70" stroke="#ececec" stroke-width="0.7"/>
<line x1="248.16" y1="347.60" x2="248.16" y2="476.70" stroke="#ececec" stroke-width="0.7"/>
<line x1="251.75" y1="347.60" x2="251.75" y2="476.70" stroke="#ececec" stroke-width="0.7"/>
<rect x="224.50" y="347.00" width="29.40" height="130.30" fill="none" stroke="#1a1a1a" stroke-width="1.05"/>
<line x1="221.10" y1="351.10" x2="224.50" y2="351.10" stroke="#222" stroke-width="1.1"/>
<text x="217.50" y="352.87" font-size="4.928" text-anchor="end" textLength="33.99" lengthAdjust="spacingAndGlyphs"><tspan fill="#1e1e1e">CXCR4_CXCL12</tspan></text>
<circle cx="226.65" cy="351.10" r="0.88" fill="#cc2038"/>
<circle cx="230.24" cy="351.10" r="0.88" fill="#cc2038"/>
<circle cx="233.82" cy="351.10" r="0.88" fill="#cc2038"/>
<circle cx="237.41" cy="351.10" r="0.88" fill="#cc2038"/>
<circle cx="240.99" cy="351.10" r="0.88" fill="#cc2038"/>
<circle cx="244.58" cy="351.10" r="0.88" fill="#cc2038"/>
<circle cx="248.16" cy="351.10" r="0.88" fill="#cc2038"/>
<circle cx="251.75" cy="351.10" r="1.64" fill="#cc2038"/>
<line x1="221.10" y1="357.55" x2="224.50" y2="357.55" stroke="#222" stroke-width="1.1"/>
<text x="217.50" y="359.32" font-size="4.928" text-anchor="end" textLength="33.99" lengthAdjust="spacingAndGlyphs"><tspan fill="#1e1e1e">CXCR3_CXCL12</tspan></text>
<circle cx="226.65" cy="357.55" r="0.88" fill="#30399a"/>
<circle cx="230.24" cy="357.55" r="0.88" fill="#30399a"/>
<circle cx="233.82" cy="357.55" r="0.88" fill="#30399a"/>
<circle cx="237.41" cy="357.55" r="0.88" fill="#30399a"/>
<circle cx="240.99" cy="357.55" r="0.88" fill="#30399a"/>
<circle cx="244.58" cy="357.55" r="0.88" fill="#30399a"/>
<circle cx="248.16" cy="357.55" r="0.88" fill="#30399a"/>
<circle cx="251.75" cy="357.55" r="1.42" fill="#3a2b8e"/>
<line x1="221.10" y1="364.00" x2="224.50" y2="364.00" stroke="#222" stroke-width="1.1"/>
<text x="217.50" y="365.77" font-size="4.928" text-anchor="end" textLength="29.83" lengthAdjust="spacingAndGlyphs"><tspan fill="#1e1e1e">ICOS_ICOSLG</tspan></text>
<circle cx="226.65" cy="364.00" r="0.88" fill="#30399a"/>
<circle cx="230.24" cy="364.00" r="1.42" fill="#3a2b8e"/>
<circle cx="233.82" cy="364.00" r="0.88" fill="#30399a"/>
<circle cx="237.41" cy="364.00" r="0.88" fill="#30399a"/>
<circle cx="240.99" cy="364.00" r="0.88" fill="#30399a"/>
<circle cx="244.58" cy="364.00" r="0.88" fill="#30399a"/>
<circle cx="248.16" cy="364.00" r="0.88" fill="#30399a"/>
<circle cx="251.75" cy="364.00" r="0.88" fill="#30399a"/>
<line x1="221.10" y1="370.45" x2="224.50" y2="370.45" stroke="#222" stroke-width="1.1"/>
<text x="217.50" y="372.22" font-size="4.928" text-anchor="end" textLength="22.98" lengthAdjust="spacingAndGlyphs"><tspan fill="#1e1e1e">CD44_HGF</tspan></text>
<circle cx="226.65" cy="370.45" r="0.88" fill="#8c1f72"/>
<circle cx="230.24" cy="370.45" r="0.88" fill="#8c1f72"/>
<circle cx="233.82" cy="370.45" r="0.88" fill="#8c1f72"/>
<circle cx="237.41" cy="370.45" r="0.88" fill="#8c1f72"/>
<circle cx="240.99" cy="370.45" r="0.88" fill="#8c1f72"/>
<circle cx="244.58" cy="370.45" r="0.88" fill="#8c1f72"/>
<circle cx="248.16" cy="370.45" r="1.64" fill="#b3124e"/>
<circle cx="251.75" cy="370.45" r="0.88" fill="#8c1f72"/>
<line x1="221.10" y1="376.90" x2="224.50" y2="376.90" stroke="#222" stroke-width="1.1"/>
<text x="217.50" y="378.67" font-size="4.928" text-anchor="end" textLength="28.12" lengthAdjust="spacingAndGlyphs"><tspan fill="#1e1e1e">ANXA1_FPR1</tspan></text>
<circle cx="226.65" cy="376.90" r="0.88" fill="#8c1f72"/>
<circle cx="230.24" cy="376.90" r="0.88" fill="#8c1f72"/>
<circle cx="233.82" cy="376.90" r="0.88" fill="#8c1f72"/>
<circle cx="237.41" cy="376.90" r="0.88" fill="#8c1f72"/>
<circle cx="240.99" cy="376.90" r="0.88" fill="#8c1f72"/>
<circle cx="244.58" cy="376.90" r="1.64" fill="#b3124e"/>
<circle cx="248.16" cy="376.90" r="0.88" fill="#8c1f72"/>
<circle cx="251.75" cy="376.90" r="0.88" fill="#30399a"/>
<line x1="221.10" y1="383.35" x2="224.50" y2="383.35" stroke="#222" stroke-width="1.1"/>
<text x="217.50" y="385.12" font-size="4.928" text-anchor="end" textLength="31.06" lengthAdjust="spacingAndGlyphs"><tspan fill="#1e1e1e">CXCR3_CCL20</tspan></text>
<circle cx="226.65" cy="383.35" r="0.88" fill="#30399a"/>
<circle cx="230.24" cy="383.35" r="0.88" fill="#30399a"/>
<circle cx="233.82" cy="383.35" r="0.88" fill="#30399a"/>
<circle cx="237.41" cy="383.35" r="0.88" fill="#30399a"/>
<circle cx="240.99" cy="383.35" r="0.88" fill="#30399a"/>
<circle cx="244.58" cy="383.35" r="1.64" fill="#3a2b8e"/>
<circle cx="248.16" cy="383.35" r="0.88" fill="#30399a"/>
<circle cx="251.75" cy="383.35" r="0.88" fill="#30399a"/>
<line x1="221.10" y1="389.80" x2="224.50" y2="389.80" stroke="#222" stroke-width="1.1"/>
<text x="217.50" y="391.57" font-size="4.928" text-anchor="end" textLength="34.96" lengthAdjust="spacingAndGlyphs"><tspan fill="#1e1e1e">TNFRSF1A_GRN</tspan></text>
<circle cx="226.65" cy="389.80" r="0.88" fill="#5a238a"/>
<circle cx="230.24" cy="389.80" r="0.88" fill="#5a238a"/>
<circle cx="233.82" cy="389.80" r="0.88" fill="#5a238a"/>
<circle cx="237.41" cy="389.80" r="0.88" fill="#5a238a"/>
<circle cx="240.99" cy="389.80" r="0.88" fill="#5a238a"/>
<circle cx="244.58" cy="389.80" r="1.64" fill="#5a238a"/>
<circle cx="248.16" cy="389.80" r="1.64" fill="#5a238a"/>
<circle cx="251.75" cy="389.80" r="1.64" fill="#5a238a"/>
<line x1="221.10" y1="396.25" x2="224.50" y2="396.25" stroke="#222" stroke-width="1.1"/>
<text x="217.50" y="398.02" font-size="4.928" text-anchor="end" textLength="31.42" lengthAdjust="spacingAndGlyphs"><tspan fill="#1e1e1e">HLA−C_FAM3C</tspan></text>
<circle cx="226.65" cy="396.25" r="1.64" fill="#5a238a"/>
<circle cx="230.24" cy="396.25" r="1.64" fill="#5a238a"/>
<circle cx="233.82" cy="396.25" r="1.64" fill="#5a238a"/>
<circle cx="237.41" cy="396.25" r="1.64" fill="#5a238a"/>
<circle cx="240.99" cy="396.25" r="1.64" fill="#5a238a"/>
<circle cx="244.58" cy="396.25" r="1.64" fill="#5a238a"/>
<circle cx="248.16" cy="396.25" r="1.64" fill="#5a238a"/>
<circle cx="251.75" cy="396.25" r="1.64" fill="#5a238a"/>
<line x1="221.10" y1="402.70" x2="224.50" y2="402.70" stroke="#222" stroke-width="1.1"/>
<text x="217.50" y="404.47" font-size="4.928" text-anchor="end" textLength="37.17" lengthAdjust="spacingAndGlyphs"><tspan fill="#1e1e1e">LCK</tspan><tspan fill="#9a9a9a">_CD8 receptor</tspan></text>
<circle cx="226.65" cy="402.70" r="0.88" fill="#8c1f72"/>
<circle cx="230.24" cy="402.70" r="0.88" fill="#8c1f72"/>
<circle cx="233.82" cy="402.70" r="0.88" fill="#8c1f72"/>
<circle cx="237.41" cy="402.70" r="0.88" fill="#8c1f72"/>
<circle cx="240.99" cy="402.70" r="0.88" fill="#8c1f72"/>
<circle cx="244.58" cy="402.70" r="0.88" fill="#8c1f72"/>
<circle cx="248.16" cy="402.70" r="0.88" fill="#8c1f72"/>
<circle cx="251.75" cy="402.70" r="0.88" fill="#30399a"/>
<line x1="221.10" y1="409.15" x2="224.50" y2="409.15" stroke="#222" stroke-width="1.1"/>
<text x="217.50" y="410.92" font-size="4.928" text-anchor="end" textLength="27.39" lengthAdjust="spacingAndGlyphs"><tspan fill="#9a9a9a">SIRPG_</tspan><tspan fill="#1e1e1e">CD47</tspan></text>
<circle cx="226.65" cy="409.15" r="0.88" fill="#8c1f72"/>
<circle cx="230.24" cy="409.15" r="0.88" fill="#8c1f72"/>
<circle cx="233.82" cy="409.15" r="0.88" fill="#8c1f72"/>
<circle cx="237.41" cy="409.15" r="0.88" fill="#8c1f72"/>
<circle cx="240.99" cy="409.15" r="0.88" fill="#8c1f72"/>
<circle cx="244.58" cy="409.15" r="0.88" fill="#5a238a"/>
<circle cx="248.16" cy="409.15" r="0.88" fill="#8c1f72"/>
<circle cx="251.75" cy="409.15" r="0.88" fill="#8c1f72"/>
<line x1="221.10" y1="415.60" x2="224.50" y2="415.60" stroke="#222" stroke-width="1.1"/>
<text x="217.50" y="417.37" font-size="4.928" text-anchor="end" textLength="36.60" lengthAdjust="spacingAndGlyphs"><tspan fill="#9a9a9a">HAVCR2_</tspan><tspan fill="#1e1e1e">LGALS9</tspan></text>
<circle cx="226.65" cy="415.60" r="0.88" fill="#30399a"/>
<circle cx="230.24" cy="415.60" r="0.88" fill="#30399a"/>
<circle cx="233.82" cy="415.60" r="0.88" fill="#30399a"/>
<circle cx="237.41" cy="415.60" r="0.88" fill="#30399a"/>
<circle cx="240.99" cy="415.60" r="0.88" fill="#30399a"/>
<circle cx="244.58" cy="415.60" r="0.88" fill="#30399a"/>
<circle cx="248.16" cy="415.60" r="0.88" fill="#30399a"/>
<circle cx="251.75" cy="415.60" r="0.88" fill="#30399a"/>
<line x1="221.10" y1="422.05" x2="224.50" y2="422.05" stroke="#222" stroke-width="1.1"/>
<text x="217.50" y="423.82" font-size="4.928" text-anchor="end" textLength="33.99" lengthAdjust="spacingAndGlyphs"><tspan fill="#1e1e1e">CXCR3</tspan><tspan fill="#9a9a9a">_CXCL10</tspan></text>
<circle cx="226.65" cy="422.05" r="0.88" fill="#3a2b8e"/>
<circle cx="230.24" cy="422.05" r="0.88" fill="#5a238a"/>
<circle cx="233.82" cy="422.05" r="0.88" fill="#3a2b8e"/>
<circle cx="237.41" cy="422.05" r="0.88" fill="#3a2b8e"/>
<circle cx="240.99" cy="422.05" r="0.88" fill="#30399a"/>
<circle cx="244.58" cy="422.05" r="0.88" fill="#3a2b8e"/>
<circle cx="248.16" cy="422.05" r="0.88" fill="#5a238a"/>
<circle cx="251.75" cy="422.05" r="0.88" fill="#30399a"/>
<line x1="221.10" y1="428.50" x2="224.50" y2="428.50" stroke="#222" stroke-width="1.1"/>
<text x="217.50" y="430.27" font-size="4.928" text-anchor="end" textLength="33.75" lengthAdjust="spacingAndGlyphs"><tspan fill="#1e1e1e">CLEC2D</tspan><tspan fill="#9a9a9a">_KLRB1</tspan></text>
<circle cx="226.65" cy="428.50" r="0.88" fill="#8c1f72"/>
<circle cx="230.24" cy="428.50" r="0.88" fill="#8c1f72"/>
<circle cx="233.82" cy="428.50" r="0.88" fill="#8c1f72"/>
<circle cx="237.41" cy="428.50" r="0.88" fill="#8c1f72"/>
<circle cx="240.99" cy="428.50" r="0.88" fill="#8c1f72"/>
<circle cx="244.58" cy="428.50" r="0.88" fill="#8c1f72"/>
<circle cx="248.16" cy="428.50" r="0.88" fill="#8c1f72"/>
<circle cx="251.75" cy="428.50" r="0.88" fill="#8c1f72"/>
<line x1="221.10" y1="434.95" x2="224.50" y2="434.95" stroke="#222" stroke-width="1.1"/>
<text x="217.50" y="436.72" font-size="4.928" text-anchor="end" textLength="28.85" lengthAdjust="spacingAndGlyphs"><tspan fill="#9a9a9a">HBEGF_</tspan><tspan fill="#1e1e1e">CD44</tspan></text>
<circle cx="226.65" cy="434.95" r="0.88" fill="#30399a"/>
<circle cx="230.24" cy="434.95" r="0.88" fill="#30399a"/>
<circle cx="233.82" cy="434.95" r="0.88" fill="#30399a"/>
<circle cx="237.41" cy="434.95" r="0.88" fill="#30399a"/>
<circle cx="240.99" cy="434.95" r="0.88" fill="#30399a"/>
<circle cx="244.58" cy="434.95" r="0.88" fill="#30399a"/>
<circle cx="248.16" cy="434.95" r="0.88" fill="#30399a"/>
<circle cx="251.75" cy="434.95" r="0.88" fill="#30399a"/>
<line x1="221.10" y1="441.40" x2="224.50" y2="441.40" stroke="#222" stroke-width="1.1"/>
<text x="217.50" y="443.17" font-size="4.928" text-anchor="end" textLength="40.27" lengthAdjust="spacingAndGlyphs"><tspan fill="#9a9a9a">F11R_</tspan><tspan fill="#1e1e1e">aLb2 complex</tspan></text>
<circle cx="226.65" cy="441.40" r="0.88" fill="#3a2b8e"/>
<circle cx="230.24" cy="441.40" r="0.88" fill="#5a238a"/>
<circle cx="233.82" cy="441.40" r="0.88" fill="#3a2b8e"/>
<circle cx="237.41" cy="441.40" r="0.88" fill="#3a2b8e"/>
<circle cx="240.99" cy="441.40" r="0.88" fill="#30399a"/>
<circle cx="244.58" cy="441.40" r="0.88" fill="#3a2b8e"/>
<circle cx="248.16" cy="441.40" r="0.88" fill="#3a2b8e"/>
<circle cx="251.75" cy="441.40" r="0.88" fill="#5a238a"/>
<line x1="221.10" y1="447.85" x2="224.50" y2="447.85" stroke="#222" stroke-width="1.1"/>
<text x="217.50" y="449.62" font-size="4.928" text-anchor="end" textLength="24.70" lengthAdjust="spacingAndGlyphs"><tspan fill="#9a9a9a">PLD2_</tspan><tspan fill="#1e1e1e">ARF1</tspan></text>
<circle cx="226.65" cy="447.85" r="0.88" fill="#30399a"/>
<circle cx="230.24" cy="447.85" r="0.88" fill="#30399a"/>
<circle cx="233.82" cy="447.85" r="0.88" fill="#30399a"/>
<circle cx="237.41" cy="447.85" r="0.88" fill="#30399a"/>
<circle cx="240.99" cy="447.85" r="0.88" fill="#30399a"/>
<circle cx="244.58" cy="447.85" r="0.88" fill="#30399a"/>
<circle cx="248.16" cy="447.85" r="0.88" fill="#30399a"/>
<circle cx="251.75" cy="447.85" r="0.88" fill="#30399a"/>
<line x1="221.10" y1="454.30" x2="224.50" y2="454.30" stroke="#222" stroke-width="1.1"/>
<text x="217.50" y="456.07" font-size="4.928" text-anchor="end" textLength="28.37" lengthAdjust="spacingAndGlyphs"><tspan fill="#9a9a9a">CCL5_</tspan><tspan fill="#1e1e1e">ACKR1</tspan></text>
<circle cx="226.65" cy="454.30" r="0.88" fill="#30399a"/>
<circle cx="230.24" cy="454.30" r="0.88" fill="#30399a"/>
<circle cx="233.82" cy="454.30" r="0.88" fill="#30399a"/>
<circle cx="237.41" cy="454.30" r="0.88" fill="#30399a"/>
<circle cx="240.99" cy="454.30" r="0.88" fill="#30399a"/>
<circle cx="244.58" cy="454.30" r="0.88" fill="#30399a"/>
<circle cx="248.16" cy="454.30" r="0.88" fill="#30399a"/>
<circle cx="251.75" cy="454.30" r="0.88" fill="#30399a"/>
<line x1="221.10" y1="460.75" x2="224.50" y2="460.75" stroke="#222" stroke-width="1.1"/>
<text x="217.50" y="462.52" font-size="4.928" text-anchor="end" textLength="25.68" lengthAdjust="spacingAndGlyphs"><tspan fill="#9a9a9a">CCL5_</tspan><tspan fill="#1e1e1e">CCR5</tspan></text>
<circle cx="226.65" cy="460.75" r="0.88" fill="#30399a"/>
<circle cx="230.24" cy="460.75" r="0.88" fill="#30399a"/>
<circle cx="233.82" cy="460.75" r="0.88" fill="#30399a"/>
<circle cx="237.41" cy="460.75" r="0.88" fill="#30399a"/>
<circle cx="240.99" cy="460.75" r="0.88" fill="#30399a"/>
<circle cx="244.58" cy="460.75" r="0.88" fill="#30399a"/>
<circle cx="248.16" cy="460.75" r="0.88" fill="#30399a"/>
<circle cx="251.75" cy="460.75" r="0.88" fill="#30399a"/>
<line x1="221.10" y1="467.20" x2="224.50" y2="467.20" stroke="#222" stroke-width="1.1"/>
<text x="217.50" y="468.97" font-size="4.928" text-anchor="end" textLength="28.85" lengthAdjust="spacingAndGlyphs"><tspan fill="#1e1e1e">CD44</tspan><tspan fill="#9a9a9a">_HBEGF</tspan></text>
<circle cx="226.65" cy="467.20" r="0.88" fill="#8c1f72"/>
<circle cx="230.24" cy="467.20" r="0.88" fill="#8c1f72"/>
<circle cx="233.82" cy="467.20" r="0.88" fill="#8c1f72"/>
<circle cx="237.41" cy="467.20" r="0.88" fill="#8c1f72"/>
<circle cx="240.99" cy="467.20" r="0.88" fill="#8c1f72"/>
<circle cx="244.58" cy="467.20" r="0.88" fill="#8c1f72"/>
<circle cx="248.16" cy="467.20" r="0.88" fill="#8c1f72"/>
<circle cx="251.75" cy="467.20" r="0.88" fill="#8c1f72"/>
<line x1="221.10" y1="473.65" x2="224.50" y2="473.65" stroke="#222" stroke-width="1.1"/>
<text x="217.50" y="475.42" font-size="4.928" text-anchor="end" textLength="33.55" lengthAdjust="spacingAndGlyphs"><tspan fill="#9a9a9a">HLA−DPA1_</tspan><tspan fill="#1e1e1e">GAL</tspan></text>
<circle cx="226.65" cy="473.65" r="0.88" fill="#30399a"/>
<circle cx="230.24" cy="473.65" r="0.88" fill="#30399a"/>
<circle cx="233.82" cy="473.65" r="0.88" fill="#30399a"/>
<circle cx="237.41" cy="473.65" r="0.88" fill="#30399a"/>
<circle cx="240.99" cy="473.65" r="0.88" fill="#30399a"/>
<circle cx="244.58" cy="473.65" r="0.88" fill="#30399a"/>
<circle cx="248.16" cy="473.65" r="0.88" fill="#30399a"/>
<circle cx="251.75" cy="473.65" r="0.88" fill="#30399a"/>
<line x1="226.65" y1="477.30" x2="226.65" y2="480.80" stroke="#333" stroke-width="0.9"/>
<text x="226.65" y="488.00" font-size="5.0" text-anchor="middle" fill="#5a63a6">1</text>
<line x1="230.24" y1="477.30" x2="230.24" y2="480.80" stroke="#333" stroke-width="0.9"/>
<text x="230.24" y="488.00" font-size="5.0" text-anchor="middle" fill="#5a63a6">2</text>
<line x1="233.82" y1="477.30" x2="233.82" y2="480.80" stroke="#333" stroke-width="0.9"/>
<text x="233.82" y="488.00" font-size="5.0" text-anchor="middle" fill="#5a63a6">3</text>
<line x1="237.41" y1="477.30" x2="237.41" y2="480.80" stroke="#333" stroke-width="0.9"/>
<text x="237.41" y="488.00" font-size="5.0" text-anchor="middle" fill="#5a63a6">4</text>
<line x1="240.99" y1="477.30" x2="240.99" y2="480.80" stroke="#333" stroke-width="0.9"/>
<text x="240.99" y="488.00" font-size="5.0" text-anchor="middle" fill="#5a63a6">5</text>
<line x1="244.58" y1="477.30" x2="244.58" y2="480.80" stroke="#333" stroke-width="0.9"/>
<text x="244.58" y="488.00" font-size="5.0" text-anchor="middle" fill="#5a63a6">6</text>
<line x1="248.16" y1="477.30" x2="248.16" y2="480.80" stroke="#333" stroke-width="0.9"/>
<text x="248.16" y="488.00" font-size="5.0" text-anchor="middle" fill="#5a63a6">7</text>
<line x1="251.75" y1="477.30" x2="251.75" y2="480.80" stroke="#333" stroke-width="0.9"/>
<text x="251.75" y="488.00" font-size="5.0" text-anchor="middle" fill="#5a63a6">8</text>
<text x="239.20" y="343.14" font-size="7.616" text-anchor="middle" fill="#1a1a1a" textLength="23.31" lengthAdjust="spacingAndGlyphs">Effector</text>
<text x="198.90" y="488.05" font-size="5.152" text-anchor="middle" fill="#222" textLength="2.81" lengthAdjust="spacingAndGlyphs">T</text>
<text x="217.20" y="488.05" font-size="5.152" text-anchor="middle" fill="#222" textLength="10.60" lengthAdjust="spacingAndGlyphs">HSPC</text>
<line x1="198.90" y1="478.00" x2="198.90" y2="479.60" stroke="#333" stroke-width="0.6"/>
<line x1="216.40" y1="478.00" x2="216.40" y2="479.60" stroke="#333" stroke-width="0.6"/>
<line x1="311.55" y1="347.60" x2="311.55" y2="476.70" stroke="#ececec" stroke-width="0.7"/>
<line x1="315.14" y1="347.60" x2="315.14" y2="476.70" stroke="#ececec" stroke-width="0.7"/>
<line x1="318.72" y1="347.60" x2="318.72" y2="476.70" stroke="#ececec" stroke-width="0.7"/>
<line x1="322.31" y1="347.60" x2="322.31" y2="476.70" stroke="#ececec" stroke-width="0.7"/>
<line x1="325.89" y1="347.60" x2="325.89" y2="476.70" stroke="#ececec" stroke-width="0.7"/>
<line x1="329.48" y1="347.60" x2="329.48" y2="476.70" stroke="#ececec" stroke-width="0.7"/>
<line x1="333.06" y1="347.60" x2="333.06" y2="476.70" stroke="#ececec" stroke-width="0.7"/>
<line x1="336.65" y1="347.60" x2="336.65" y2="476.70" stroke="#ececec" stroke-width="0.7"/>
<rect x="309.40" y="347.00" width="29.40" height="130.30" fill="none" stroke="#1a1a1a" stroke-width="1.05"/>
<line x1="306.00" y1="352.50" x2="309.40" y2="352.50" stroke="#222" stroke-width="1.1"/>
<text x="302.80" y="354.31" font-size="5.04" text-anchor="end" textLength="45.52" lengthAdjust="spacingAndGlyphs"><tspan fill="#1e1e1e">a6b1 complex_LAMC1</tspan></text>
<circle cx="311.55" cy="352.50" r="1.64" fill="#3a2b8e"/>
<circle cx="315.14" cy="352.50" r="1.64" fill="#3a2b8e"/>
<circle cx="318.72" cy="352.50" r="1.64" fill="#3a2b8e"/>
<circle cx="322.31" cy="352.50" r="0.88" fill="#3a2b8e"/>
<circle cx="325.89" cy="352.50" r="1.64" fill="#3a2b8e"/>
<circle cx="329.48" cy="352.50" r="0.88" fill="#3a2b8e"/>
<circle cx="333.06" cy="352.50" r="1.64" fill="#3a2b8e"/>
<circle cx="336.65" cy="352.50" r="1.42" fill="#3a2b8e"/>
<line x1="306.00" y1="361.68" x2="309.40" y2="361.68" stroke="#222" stroke-width="1.1"/>
<text x="302.80" y="363.49" font-size="5.04" text-anchor="end" textLength="45.52" lengthAdjust="spacingAndGlyphs"><tspan fill="#1e1e1e">a4b1 complex_PLAUR</tspan></text>
<circle cx="311.55" cy="361.68" r="0.88" fill="#5a238a"/>
<circle cx="315.14" cy="361.68" r="0.88" fill="#5a238a"/>
<circle cx="318.72" cy="361.68" r="0.88" fill="#5a238a"/>
<circle cx="322.31" cy="361.68" r="0.88" fill="#5a238a"/>
<circle cx="325.89" cy="361.68" r="0.88" fill="#5a238a"/>
<circle cx="329.48" cy="361.68" r="1.64" fill="#5a238a"/>
<circle cx="333.06" cy="361.68" r="0.88" fill="#5a238a"/>
<circle cx="336.65" cy="361.68" r="0.88" fill="#5a238a"/>
<line x1="306.00" y1="370.86" x2="309.40" y2="370.86" stroke="#222" stroke-width="1.1"/>
<text x="302.80" y="372.67" font-size="5.04" text-anchor="end" textLength="34.76" lengthAdjust="spacingAndGlyphs"><tspan fill="#1e1e1e">CXCR4_CXCL12</tspan></text>
<circle cx="311.55" cy="370.86" r="0.88" fill="#cc2038"/>
<circle cx="315.14" cy="370.86" r="0.88" fill="#cc2038"/>
<circle cx="318.72" cy="370.86" r="0.88" fill="#cc2038"/>
<circle cx="322.31" cy="370.86" r="0.88" fill="#cc2038"/>
<circle cx="325.89" cy="370.86" r="0.88" fill="#cc2038"/>
<circle cx="329.48" cy="370.86" r="0.88" fill="#cc2038"/>
<circle cx="333.06" cy="370.86" r="0.88" fill="#cc2038"/>
<circle cx="336.65" cy="370.86" r="1.64" fill="#cc2038"/>
<line x1="306.00" y1="380.04" x2="309.40" y2="380.04" stroke="#222" stroke-width="1.1"/>
<text x="302.80" y="381.85" font-size="5.04" text-anchor="end" textLength="34.52" lengthAdjust="spacingAndGlyphs"><tspan fill="#1e1e1e">CLEC2D_KLRB1</tspan></text>
<circle cx="311.55" cy="380.04" r="0.88" fill="#8c1f72"/>
<circle cx="315.14" cy="380.04" r="1.64" fill="#8c1f72"/>
<circle cx="318.72" cy="380.04" r="0.88" fill="#8c1f72"/>
<circle cx="322.31" cy="380.04" r="0.88" fill="#8c1f72"/>
<circle cx="325.89" cy="380.04" r="0.88" fill="#8c1f72"/>
<circle cx="329.48" cy="380.04" r="1.64" fill="#7a2486"/>
<circle cx="333.06" cy="380.04" r="0.88" fill="#8c1f72"/>
<circle cx="336.65" cy="380.04" r="0.88" fill="#8c1f72"/>
<line x1="306.00" y1="389.22" x2="309.40" y2="389.22" stroke="#222" stroke-width="1.1"/>
<text x="302.80" y="391.03" font-size="5.04" text-anchor="end" textLength="33.00" lengthAdjust="spacingAndGlyphs"><tspan fill="#1e1e1e">NAMPT_NTRK1</tspan></text>
<circle cx="311.55" cy="389.22" r="0.88" fill="#30399a"/>
<circle cx="315.14" cy="389.22" r="0.88" fill="#30399a"/>
<circle cx="318.72" cy="389.22" r="0.88" fill="#30399a"/>
<circle cx="322.31" cy="389.22" r="0.88" fill="#30399a"/>
<circle cx="325.89" cy="389.22" r="1.64" fill="#5a238a"/>
<circle cx="329.48" cy="389.22" r="0.88" fill="#30399a"/>
<circle cx="333.06" cy="389.22" r="0.88" fill="#30399a"/>
<circle cx="336.65" cy="389.22" r="0.88" fill="#30399a"/>
<line x1="306.00" y1="398.40" x2="309.40" y2="398.40" stroke="#222" stroke-width="1.1"/>
<text x="302.80" y="400.21" font-size="5.04" text-anchor="end" textLength="23.26" lengthAdjust="spacingAndGlyphs"><tspan fill="#1e1e1e">CD96_PVR</tspan></text>
<circle cx="311.55" cy="398.40" r="1.64" fill="#5a238a"/>
<circle cx="315.14" cy="398.40" r="0.88" fill="#5a238a"/>
<circle cx="318.72" cy="398.40" r="0.88" fill="#5a238a"/>
<circle cx="322.31" cy="398.40" r="0.88" fill="#30399a"/>
<circle cx="325.89" cy="398.40" r="0.88" fill="#5a238a"/>
<circle cx="329.48" cy="398.40" r="0.88" fill="#5a238a"/>
<circle cx="333.06" cy="398.40" r="0.88" fill="#5a238a"/>
<circle cx="336.65" cy="398.40" r="0.88" fill="#30399a"/>
<line x1="306.00" y1="407.58" x2="309.40" y2="407.58" stroke="#222" stroke-width="1.1"/>
<text x="302.80" y="409.39" font-size="5.04" text-anchor="end" textLength="25.51" lengthAdjust="spacingAndGlyphs"><tspan fill="#1e1e1e">CD28_CD86</tspan></text>
<circle cx="311.55" cy="407.58" r="0.88" fill="#30399a"/>
<circle cx="315.14" cy="407.58" r="0.88" fill="#30399a"/>
<circle cx="318.72" cy="407.58" r="0.88" fill="#30399a"/>
<circle cx="322.31" cy="407.58" r="0.88" fill="#30399a"/>
<circle cx="325.89" cy="407.58" r="0.88" fill="#30399a"/>
<circle cx="329.48" cy="407.58" r="0.88" fill="#30399a"/>
<circle cx="333.06" cy="407.58" r="0.88" fill="#30399a"/>
<circle cx="336.65" cy="407.58" r="1.42" fill="#3a2b8e"/>
<line x1="306.00" y1="416.76" x2="309.40" y2="416.76" stroke="#222" stroke-width="1.1"/>
<text x="302.80" y="418.57" font-size="5.04" text-anchor="end" textLength="35.75" lengthAdjust="spacingAndGlyphs"><tspan fill="#1e1e1e">TNFRSF1B_GRN</tspan></text>
<circle cx="311.55" cy="416.76" r="1.42" fill="#5a238a"/>
<circle cx="315.14" cy="416.76" r="0.88" fill="#5a238a"/>
<circle cx="318.72" cy="416.76" r="0.88" fill="#5a238a"/>
<circle cx="322.31" cy="416.76" r="0.88" fill="#5a238a"/>
<circle cx="325.89" cy="416.76" r="0.88" fill="#5a238a"/>
<circle cx="329.48" cy="416.76" r="1.64" fill="#7a2486"/>
<circle cx="333.06" cy="416.76" r="1.64" fill="#7a2486"/>
<circle cx="336.65" cy="416.76" r="1.64" fill="#7a2486"/>
<line x1="306.00" y1="425.94" x2="309.40" y2="425.94" stroke="#222" stroke-width="1.1"/>
<text x="302.80" y="427.75" font-size="5.04" text-anchor="end" textLength="32.14" lengthAdjust="spacingAndGlyphs"><tspan fill="#1e1e1e">HLA−C_FAM3C</tspan></text>
<circle cx="311.55" cy="425.94" r="0.88" fill="#5a238a"/>
<circle cx="315.14" cy="425.94" r="0.88" fill="#5a238a"/>
<circle cx="318.72" cy="425.94" r="0.88" fill="#5a238a"/>
<circle cx="322.31" cy="425.94" r="1.64" fill="#3a2b8e"/>
<circle cx="325.89" cy="425.94" r="0.88" fill="#5a238a"/>
<circle cx="329.48" cy="425.94" r="0.88" fill="#5a238a"/>
<circle cx="333.06" cy="425.94" r="0.88" fill="#5a238a"/>
<circle cx="336.65" cy="425.94" r="0.88" fill="#5a238a"/>
<line x1="306.00" y1="435.12" x2="309.40" y2="435.12" stroke="#222" stroke-width="1.1"/>
<text x="302.80" y="436.93" font-size="5.04" text-anchor="end" textLength="38.02" lengthAdjust="spacingAndGlyphs"><tspan fill="#1e1e1e">LCK</tspan><tspan fill="#9a9a9a">_CD8 receptor</tspan></text>
<circle cx="311.55" cy="435.12" r="0.88" fill="#8c1f72"/>
<circle cx="315.14" cy="435.12" r="0.88" fill="#8c1f72"/>
<circle cx="318.72" cy="435.12" r="0.88" fill="#8c1f72"/>
<circle cx="322.31" cy="435.12" r="0.88" fill="#8c1f72"/>
<circle cx="325.89" cy="435.12" r="0.88" fill="#8c1f72"/>
<circle cx="329.48" cy="435.12" r="0.88" fill="#8c1f72"/>
<circle cx="333.06" cy="435.12" r="0.88" fill="#8c1f72"/>
<circle cx="336.65" cy="435.12" r="0.88" fill="#30399a"/>
<line x1="306.00" y1="444.30" x2="309.40" y2="444.30" stroke="#222" stroke-width="1.1"/>
<text x="302.80" y="446.11" font-size="5.04" text-anchor="end" textLength="27.18" lengthAdjust="spacingAndGlyphs"><tspan fill="#1e1e1e">CD47</tspan><tspan fill="#9a9a9a">_SIRPA</tspan></text>
<circle cx="311.55" cy="444.30" r="0.88" fill="#6c2a98"/>
<circle cx="315.14" cy="444.30" r="0.88" fill="#6c2a98"/>
<circle cx="318.72" cy="444.30" r="0.88" fill="#6c2a98"/>
<circle cx="322.31" cy="444.30" r="0.88" fill="#6c2a98"/>
<circle cx="325.89" cy="444.30" r="0.88" fill="#6c2a98"/>
<circle cx="329.48" cy="444.30" r="0.88" fill="#6c2a98"/>
<circle cx="333.06" cy="444.30" r="0.88" fill="#6c2a98"/>
<circle cx="336.65" cy="444.30" r="0.88" fill="#6c2a98"/>
<line x1="306.00" y1="453.48" x2="309.40" y2="453.48" stroke="#222" stroke-width="1.1"/>
<text x="302.80" y="455.29" font-size="5.04" text-anchor="end" textLength="36.92" lengthAdjust="spacingAndGlyphs"><tspan fill="#9a9a9a">TGF-βR3_</tspan><tspan fill="#1e1e1e">TGF-β1</tspan></text>
<circle cx="311.55" cy="453.48" r="0.88" fill="#5a238a"/>
<circle cx="315.14" cy="453.48" r="0.88" fill="#3a2b8e"/>
<circle cx="318.72" cy="453.48" r="0.88" fill="#5a238a"/>
<circle cx="322.31" cy="453.48" r="0.88" fill="#5a238a"/>
<circle cx="325.89" cy="453.48" r="0.88" fill="#3a2b8e"/>
<circle cx="329.48" cy="453.48" r="0.88" fill="#5a238a"/>
<circle cx="333.06" cy="453.48" r="0.88" fill="#5a238a"/>
<circle cx="336.65" cy="453.48" r="0.88" fill="#5a238a"/>
<line x1="306.00" y1="462.66" x2="309.40" y2="462.66" stroke="#222" stroke-width="1.1"/>
<text x="302.80" y="464.47" font-size="5.04" text-anchor="end" textLength="28.26" lengthAdjust="spacingAndGlyphs"><tspan fill="#1e1e1e">IL16</tspan><tspan fill="#9a9a9a">_GRIN2C</tspan></text>
<circle cx="311.55" cy="462.66" r="0.88" fill="#6c2a98"/>
<circle cx="315.14" cy="462.66" r="0.88" fill="#6c2a98"/>
<circle cx="318.72" cy="462.66" r="0.88" fill="#6c2a98"/>
<circle cx="322.31" cy="462.66" r="0.88" fill="#6c2a98"/>
<circle cx="325.89" cy="462.66" r="0.88" fill="#6c2a98"/>
<circle cx="329.48" cy="462.66" r="0.88" fill="#6c2a98"/>
<circle cx="333.06" cy="462.66" r="0.88" fill="#6c2a98"/>
<circle cx="336.65" cy="462.66" r="0.88" fill="#6c2a98"/>
<line x1="306.00" y1="471.84" x2="309.40" y2="471.84" stroke="#222" stroke-width="1.1"/>
<text x="302.80" y="473.65" font-size="5.04" text-anchor="end" textLength="25.26" lengthAdjust="spacingAndGlyphs"><tspan fill="#9a9a9a">CD46_JAG1</tspan></text>
<circle cx="311.55" cy="471.84" r="0.88" fill="#6c2a98"/>
<circle cx="315.14" cy="471.84" r="0.88" fill="#6c2a98"/>
<circle cx="318.72" cy="471.84" r="0.88" fill="#6c2a98"/>
<circle cx="322.31" cy="471.84" r="0.88" fill="#6c2a98"/>
<circle cx="325.89" cy="471.84" r="0.88" fill="#6c2a98"/>
<circle cx="329.48" cy="471.84" r="0.88" fill="#6c2a98"/>
<circle cx="333.06" cy="471.84" r="0.88" fill="#6c2a98"/>
<circle cx="336.65" cy="471.84" r="0.88" fill="#6c2a98"/>
<line x1="311.55" y1="477.30" x2="311.55" y2="480.80" stroke="#333" stroke-width="0.9"/>
<text x="311.55" y="488.00" font-size="5.0" text-anchor="middle" fill="#5a63a6">1</text>
<line x1="315.14" y1="477.30" x2="315.14" y2="480.80" stroke="#333" stroke-width="0.9"/>
<text x="315.14" y="488.00" font-size="5.0" text-anchor="middle" fill="#5a63a6">2</text>
<line x1="318.72" y1="477.30" x2="318.72" y2="480.80" stroke="#333" stroke-width="0.9"/>
<text x="318.72" y="488.00" font-size="5.0" text-anchor="middle" fill="#5a63a6">3</text>
<line x1="322.31" y1="477.30" x2="322.31" y2="480.80" stroke="#333" stroke-width="0.9"/>
<text x="322.31" y="488.00" font-size="5.0" text-anchor="middle" fill="#5a63a6">4</text>
<line x1="325.89" y1="477.30" x2="325.89" y2="480.80" stroke="#333" stroke-width="0.9"/>
<text x="325.89" y="488.00" font-size="5.0" text-anchor="middle" fill="#5a63a6">5</text>
<line x1="329.48" y1="477.30" x2="329.48" y2="480.80" stroke="#333" stroke-width="0.9"/>
<text x="329.48" y="488.00" font-size="5.0" text-anchor="middle" fill="#5a63a6">6</text>
<line x1="333.06" y1="477.30" x2="333.06" y2="480.80" stroke="#333" stroke-width="0.9"/>
<text x="333.06" y="488.00" font-size="5.0" text-anchor="middle" fill="#5a63a6">7</text>
<line x1="336.65" y1="477.30" x2="336.65" y2="480.80" stroke="#333" stroke-width="0.9"/>
<text x="336.65" y="488.00" font-size="5.0" text-anchor="middle" fill="#5a63a6">8</text>
<text x="324.10" y="343.14" font-size="7.616" text-anchor="middle" fill="#1a1a1a" textLength="17.38" lengthAdjust="spacingAndGlyphs">Naive</text>
<text x="289.80" y="488.05" font-size="5.152" text-anchor="middle" fill="#222" textLength="2.81" lengthAdjust="spacingAndGlyphs">T</text>
<text x="302.30" y="488.05" font-size="5.152" text-anchor="middle" fill="#222" textLength="10.60" lengthAdjust="spacingAndGlyphs">HSPC</text>
<line x1="289.80" y1="478.00" x2="289.80" y2="479.60" stroke="#333" stroke-width="0.6"/>
<line x1="301.50" y1="478.00" x2="301.50" y2="479.60" stroke="#333" stroke-width="0.6"/>
<line x1="401.45" y1="347.60" x2="401.45" y2="476.70" stroke="#ececec" stroke-width="0.7"/>
<line x1="405.11" y1="347.60" x2="405.11" y2="476.70" stroke="#ececec" stroke-width="0.7"/>
<line x1="408.76" y1="347.60" x2="408.76" y2="476.70" stroke="#ececec" stroke-width="0.7"/>
<line x1="412.42" y1="347.60" x2="412.42" y2="476.70" stroke="#ececec" stroke-width="0.7"/>
<line x1="416.08" y1="347.60" x2="416.08" y2="476.70" stroke="#ececec" stroke-width="0.7"/>
<line x1="419.74" y1="347.60" x2="419.74" y2="476.70" stroke="#ececec" stroke-width="0.7"/>
<line x1="423.39" y1="347.60" x2="423.39" y2="476.70" stroke="#ececec" stroke-width="0.7"/>
<line x1="427.05" y1="347.60" x2="427.05" y2="476.70" stroke="#ececec" stroke-width="0.7"/>
<rect x="399.30" y="347.00" width="29.90" height="130.30" fill="none" stroke="#1a1a1a" stroke-width="1.05"/>
<line x1="395.90" y1="350.40" x2="399.30" y2="350.40" stroke="#222" stroke-width="1.1"/>
<text x="392.80" y="352.17" font-size="4.928" text-anchor="end" textLength="31.79" lengthAdjust="spacingAndGlyphs"><tspan fill="#1e1e1e">ADGRE5_CD55</tspan></text>
<circle cx="401.45" cy="350.40" r="1.42" fill="#8c1f72"/>
<circle cx="405.11" cy="350.40" r="0.88" fill="#8c1f72"/>
<circle cx="408.76" cy="350.40" r="1.64" fill="#8c1f72"/>
<circle cx="412.42" cy="350.40" r="1.64" fill="#8c1f72"/>
<circle cx="416.08" cy="350.40" r="1.64" fill="#8c1f72"/>
<circle cx="419.74" cy="350.40" r="1.64" fill="#8c1f72"/>
<circle cx="423.39" cy="350.40" r="1.64" fill="#8c1f72"/>
<circle cx="427.05" cy="350.40" r="0.88" fill="#8c1f72"/>
<line x1="395.90" y1="356.02" x2="399.30" y2="356.02" stroke="#222" stroke-width="1.1"/>
<text x="392.80" y="357.79" font-size="4.928" text-anchor="end" textLength="33.99" lengthAdjust="spacingAndGlyphs"><tspan fill="#1e1e1e">CXCR4_CXCL12</tspan></text>
<circle cx="401.45" cy="356.02" r="0.88" fill="#cc2038"/>
<circle cx="405.11" cy="356.02" r="0.88" fill="#cc2038"/>
<circle cx="408.76" cy="356.02" r="0.88" fill="#cc2038"/>
<circle cx="412.42" cy="356.02" r="0.88" fill="#cc2038"/>
<circle cx="416.08" cy="356.02" r="0.88" fill="#cc2038"/>
<circle cx="419.74" cy="356.02" r="0.88" fill="#cc2038"/>
<circle cx="423.39" cy="356.02" r="0.88" fill="#cc2038"/>
<circle cx="427.05" cy="356.02" r="1.64" fill="#cc2038"/>
<line x1="395.90" y1="361.64" x2="399.30" y2="361.64" stroke="#222" stroke-width="1.1"/>
<text x="392.80" y="363.41" font-size="4.928" text-anchor="end" textLength="33.99" lengthAdjust="spacingAndGlyphs"><tspan fill="#1e1e1e">CXCR3_CXCL12</tspan></text>
<circle cx="401.45" cy="361.64" r="0.88" fill="#5a238a"/>
<circle cx="405.11" cy="361.64" r="0.88" fill="#5a238a"/>
<circle cx="408.76" cy="361.64" r="0.88" fill="#5a238a"/>
<circle cx="412.42" cy="361.64" r="0.88" fill="#5a238a"/>
<circle cx="416.08" cy="361.64" r="0.88" fill="#5a238a"/>
<circle cx="419.74" cy="361.64" r="0.88" fill="#5a238a"/>
<circle cx="423.39" cy="361.64" r="0.88" fill="#5a238a"/>
<circle cx="427.05" cy="361.64" r="1.64" fill="#3a2b8e"/>
<line x1="395.90" y1="367.26" x2="399.30" y2="367.26" stroke="#222" stroke-width="1.1"/>
<text x="392.80" y="369.03" font-size="4.928" text-anchor="end" textLength="32.27" lengthAdjust="spacingAndGlyphs"><tspan fill="#1e1e1e">NAMPT_NTRK1</tspan></text>
<circle cx="401.45" cy="367.26" r="0.88" fill="#30399a"/>
<circle cx="405.11" cy="367.26" r="0.88" fill="#30399a"/>
<circle cx="408.76" cy="367.26" r="1.64" fill="#5a238a"/>
<circle cx="412.42" cy="367.26" r="0.88" fill="#30399a"/>
<circle cx="416.08" cy="367.26" r="1.64" fill="#5a238a"/>
<circle cx="419.74" cy="367.26" r="0.88" fill="#30399a"/>
<circle cx="423.39" cy="367.26" r="0.88" fill="#30399a"/>
<circle cx="427.05" cy="367.26" r="0.88" fill="#30399a"/>
<line x1="395.90" y1="372.88" x2="399.30" y2="372.88" stroke="#222" stroke-width="1.1"/>
<text x="392.80" y="374.65" font-size="4.928" text-anchor="end" textLength="22.74" lengthAdjust="spacingAndGlyphs"><tspan fill="#1e1e1e">TIGIT_PVR</tspan></text>
<circle cx="401.45" cy="372.88" r="1.64" fill="#3a2b8e"/>
<circle cx="405.11" cy="372.88" r="0.88" fill="#30399a"/>
<circle cx="408.76" cy="372.88" r="0.88" fill="#30399a"/>
<circle cx="412.42" cy="372.88" r="0.88" fill="#30399a"/>
<circle cx="416.08" cy="372.88" r="0.88" fill="#30399a"/>
<circle cx="419.74" cy="372.88" r="0.88" fill="#30399a"/>
<circle cx="423.39" cy="372.88" r="0.88" fill="#30399a"/>
<circle cx="427.05" cy="372.88" r="0.88" fill="#30399a"/>
<line x1="395.90" y1="378.50" x2="399.30" y2="378.50" stroke="#222" stroke-width="1.1"/>
<text x="392.80" y="380.27" font-size="4.928" text-anchor="end" textLength="22.74" lengthAdjust="spacingAndGlyphs"><tspan fill="#1e1e1e">CD96_PVR</tspan></text>
<circle cx="401.45" cy="378.50" r="1.64" fill="#7a2486"/>
<circle cx="405.11" cy="378.50" r="0.88" fill="#5a238a"/>
<circle cx="408.76" cy="378.50" r="0.88" fill="#5a238a"/>
<circle cx="412.42" cy="378.50" r="0.88" fill="#30399a"/>
<circle cx="416.08" cy="378.50" r="0.88" fill="#5a238a"/>
<circle cx="419.74" cy="378.50" r="0.88" fill="#5a238a"/>
<circle cx="423.39" cy="378.50" r="0.88" fill="#5a238a"/>
<circle cx="427.05" cy="378.50" r="0.88" fill="#30399a"/>
<line x1="395.90" y1="384.12" x2="399.30" y2="384.12" stroke="#222" stroke-width="1.1"/>
<text x="392.80" y="385.89" font-size="4.928" text-anchor="end" textLength="50.29" lengthAdjust="spacingAndGlyphs"><tspan fill="#1e1e1e">TGF-β1_TGF-β receptor1</tspan></text>
<circle cx="401.45" cy="384.12" r="1.64" fill="#3a2b8e"/>
<circle cx="405.11" cy="384.12" r="1.42" fill="#3a2b8e"/>
<circle cx="408.76" cy="384.12" r="0.88" fill="#3a2b8e"/>
<circle cx="412.42" cy="384.12" r="1.42" fill="#3a2b8e"/>
<circle cx="416.08" cy="384.12" r="0.88" fill="#3a2b8e"/>
<circle cx="419.74" cy="384.12" r="1.64" fill="#5a238a"/>
<circle cx="423.39" cy="384.12" r="1.64" fill="#5a238a"/>
<circle cx="427.05" cy="384.12" r="1.64" fill="#5a238a"/>
<line x1="395.90" y1="389.74" x2="399.30" y2="389.74" stroke="#222" stroke-width="1.1"/>
<text x="392.80" y="391.51" font-size="4.928" text-anchor="end" textLength="28.12" lengthAdjust="spacingAndGlyphs"><tspan fill="#1e1e1e">ANXA1_FPR1</tspan></text>
<circle cx="401.45" cy="389.74" r="0.88" fill="#8c1f72"/>
<circle cx="405.11" cy="389.74" r="0.88" fill="#8c1f72"/>
<circle cx="408.76" cy="389.74" r="0.88" fill="#8c1f72"/>
<circle cx="412.42" cy="389.74" r="0.88" fill="#8c1f72"/>
<circle cx="416.08" cy="389.74" r="0.88" fill="#8c1f72"/>
<circle cx="419.74" cy="389.74" r="1.42" fill="#8c1f72"/>
<circle cx="423.39" cy="389.74" r="0.88" fill="#8c1f72"/>
<circle cx="427.05" cy="389.74" r="0.88" fill="#30399a"/>
<line x1="395.90" y1="395.36" x2="399.30" y2="395.36" stroke="#222" stroke-width="1.1"/>
<text x="392.80" y="397.13" font-size="4.928" text-anchor="end" textLength="31.71" lengthAdjust="spacingAndGlyphs"><tspan fill="#1e1e1e">NAMPT_P2RY6</tspan></text>
<circle cx="401.45" cy="395.36" r="0.88" fill="#30399a"/>
<circle cx="405.11" cy="395.36" r="0.88" fill="#30399a"/>
<circle cx="408.76" cy="395.36" r="0.88" fill="#30399a"/>
<circle cx="412.42" cy="395.36" r="0.88" fill="#30399a"/>
<circle cx="416.08" cy="395.36" r="0.88" fill="#30399a"/>
<circle cx="419.74" cy="395.36" r="0.88" fill="#30399a"/>
<circle cx="423.39" cy="395.36" r="0.88" fill="#30399a"/>
<circle cx="427.05" cy="395.36" r="1.64" fill="#3a2b8e"/>
<line x1="395.90" y1="400.98" x2="399.30" y2="400.98" stroke="#222" stroke-width="1.1"/>
<text x="392.80" y="402.75" font-size="4.928" text-anchor="end" textLength="31.06" lengthAdjust="spacingAndGlyphs"><tspan fill="#1e1e1e">CXCR3_CCL20</tspan></text>
<circle cx="401.45" cy="400.98" r="0.88" fill="#30399a"/>
<circle cx="405.11" cy="400.98" r="0.88" fill="#30399a"/>
<circle cx="408.76" cy="400.98" r="0.88" fill="#30399a"/>
<circle cx="412.42" cy="400.98" r="0.88" fill="#30399a"/>
<circle cx="416.08" cy="400.98" r="0.88" fill="#30399a"/>
<circle cx="419.74" cy="400.98" r="1.64" fill="#3a2b8e"/>
<circle cx="423.39" cy="400.98" r="0.88" fill="#30399a"/>
<circle cx="427.05" cy="400.98" r="0.88" fill="#30399a"/>
<line x1="395.90" y1="406.60" x2="399.30" y2="406.60" stroke="#222" stroke-width="1.1"/>
<text x="392.80" y="408.37" font-size="4.928" text-anchor="end" textLength="33.75" lengthAdjust="spacingAndGlyphs"><tspan fill="#1e1e1e">KLRB1_CLEC2D</tspan></text>
<circle cx="401.45" cy="406.60" r="1.64" fill="#8c1f72"/>
<circle cx="405.11" cy="406.60" r="1.64" fill="#8c1f72"/>
<circle cx="408.76" cy="406.60" r="1.64" fill="#8c1f72"/>
<circle cx="412.42" cy="406.60" r="1.64" fill="#8c1f72"/>
<circle cx="416.08" cy="406.60" r="1.64" fill="#8c1f72"/>
<circle cx="419.74" cy="406.60" r="1.64" fill="#8c1f72"/>
<circle cx="423.39" cy="406.60" r="1.64" fill="#8c1f72"/>
<circle cx="427.05" cy="406.60" r="1.64" fill="#8c1f72"/>
<line x1="395.90" y1="412.22" x2="399.30" y2="412.22" stroke="#222" stroke-width="1.1"/>
<text x="392.80" y="413.99" font-size="4.928" text-anchor="end" textLength="29.18" lengthAdjust="spacingAndGlyphs"><tspan fill="#1e1e1e">COPA_SORT1</tspan></text>
<circle cx="401.45" cy="412.22" r="0.88" fill="#5a238a"/>
<circle cx="405.11" cy="412.22" r="0.88" fill="#5a238a"/>
<circle cx="408.76" cy="412.22" r="0.88" fill="#5a238a"/>
<circle cx="412.42" cy="412.22" r="0.88" fill="#5a238a"/>
<circle cx="416.08" cy="412.22" r="0.88" fill="#5a238a"/>
<circle cx="419.74" cy="412.22" r="1.42" fill="#5a238a"/>
<circle cx="423.39" cy="412.22" r="0.88" fill="#5a238a"/>
<circle cx="427.05" cy="412.22" r="0.88" fill="#5a238a"/>
<line x1="395.90" y1="417.84" x2="399.30" y2="417.84" stroke="#222" stroke-width="1.1"/>
<text x="392.80" y="419.61" font-size="4.928" text-anchor="end" textLength="31.42" lengthAdjust="spacingAndGlyphs"><tspan fill="#1e1e1e">HLA−C_FAM3C</tspan></text>
<circle cx="401.45" cy="417.84" r="1.64" fill="#5a238a"/>
<circle cx="405.11" cy="417.84" r="1.64" fill="#5a238a"/>
<circle cx="408.76" cy="417.84" r="1.64" fill="#5a238a"/>
<circle cx="412.42" cy="417.84" r="1.64" fill="#5a238a"/>
<circle cx="416.08" cy="417.84" r="1.64" fill="#5a238a"/>
<circle cx="419.74" cy="417.84" r="1.64" fill="#5a238a"/>
<circle cx="423.39" cy="417.84" r="1.64" fill="#5a238a"/>
<circle cx="427.05" cy="417.84" r="1.64" fill="#5a238a"/>
<line x1="395.90" y1="423.46" x2="399.30" y2="423.46" stroke="#222" stroke-width="1.1"/>
<text x="392.80" y="425.23" font-size="4.928" text-anchor="end" textLength="37.17" lengthAdjust="spacingAndGlyphs"><tspan fill="#1e1e1e">LCK</tspan><tspan fill="#9a9a9a">_CD8 receptor</tspan></text>
<circle cx="401.45" cy="423.46" r="0.88" fill="#8c1f72"/>
<circle cx="405.11" cy="423.46" r="0.88" fill="#8c1f72"/>
<circle cx="408.76" cy="423.46" r="0.88" fill="#8c1f72"/>
<circle cx="412.42" cy="423.46" r="0.88" fill="#8c1f72"/>
<circle cx="416.08" cy="423.46" r="0.88" fill="#8c1f72"/>
<circle cx="419.74" cy="423.46" r="0.88" fill="#8c1f72"/>
<circle cx="423.39" cy="423.46" r="0.88" fill="#8c1f72"/>
<circle cx="427.05" cy="423.46" r="0.88" fill="#30399a"/>
<line x1="395.90" y1="429.08" x2="399.30" y2="429.08" stroke="#222" stroke-width="1.1"/>
<text x="392.80" y="430.85" font-size="4.928" text-anchor="end" textLength="33.26" lengthAdjust="spacingAndGlyphs"><tspan fill="#9a9a9a">KLRF1_</tspan><tspan fill="#1e1e1e">CLEC2B</tspan></text>
<circle cx="401.45" cy="429.08" r="0.88" fill="#6c2a98"/>
<circle cx="405.11" cy="429.08" r="0.88" fill="#6c2a98"/>
<circle cx="408.76" cy="429.08" r="0.88" fill="#6c2a98"/>
<circle cx="412.42" cy="429.08" r="0.88" fill="#6c2a98"/>
<circle cx="416.08" cy="429.08" r="0.88" fill="#6c2a98"/>
<circle cx="419.74" cy="429.08" r="0.88" fill="#6c2a98"/>
<circle cx="423.39" cy="429.08" r="0.88" fill="#6c2a98"/>
<circle cx="427.05" cy="429.08" r="0.88" fill="#6c2a98"/>
<line x1="395.90" y1="434.70" x2="399.30" y2="434.70" stroke="#222" stroke-width="1.1"/>
<text x="392.80" y="436.47" font-size="4.928" text-anchor="end" textLength="26.17" lengthAdjust="spacingAndGlyphs"><tspan fill="#9a9a9a">ADRB2_</tspan><tspan fill="#1e1e1e">IL1B</tspan></text>
<circle cx="401.45" cy="434.70" r="0.88" fill="#7a2486"/>
<circle cx="405.11" cy="434.70" r="0.88" fill="#5a238a"/>
<circle cx="408.76" cy="434.70" r="0.88" fill="#7a2486"/>
<circle cx="412.42" cy="434.70" r="0.88" fill="#5a238a"/>
<circle cx="416.08" cy="434.70" r="0.88" fill="#5a238a"/>
<circle cx="419.74" cy="434.70" r="0.88" fill="#7a2486"/>
<circle cx="423.39" cy="434.70" r="0.88" fill="#5a238a"/>
<circle cx="427.05" cy="434.70" r="0.88" fill="#30399a"/>
<line x1="395.90" y1="440.32" x2="399.30" y2="440.32" stroke="#222" stroke-width="1.1"/>
<text x="392.80" y="442.09" font-size="4.928" text-anchor="end" textLength="33.99" lengthAdjust="spacingAndGlyphs"><tspan fill="#1e1e1e">CXCR3</tspan><tspan fill="#9a9a9a">_CXCL10</tspan></text>
<circle cx="401.45" cy="440.32" r="0.88" fill="#3a2b8e"/>
<circle cx="405.11" cy="440.32" r="0.88" fill="#5a238a"/>
<circle cx="408.76" cy="440.32" r="0.88" fill="#3a2b8e"/>
<circle cx="412.42" cy="440.32" r="0.88" fill="#3a2b8e"/>
<circle cx="416.08" cy="440.32" r="0.88" fill="#30399a"/>
<circle cx="419.74" cy="440.32" r="0.88" fill="#30399a"/>
<circle cx="423.39" cy="440.32" r="0.88" fill="#5a238a"/>
<circle cx="427.05" cy="440.32" r="0.88" fill="#30399a"/>
<line x1="395.90" y1="445.94" x2="399.30" y2="445.94" stroke="#222" stroke-width="1.1"/>
<text x="392.80" y="447.71" font-size="4.928" text-anchor="end" textLength="33.75" lengthAdjust="spacingAndGlyphs"><tspan fill="#1e1e1e">CLEC2D</tspan><tspan fill="#9a9a9a">_KLRB1</tspan></text>
<circle cx="401.45" cy="445.94" r="0.88" fill="#8c1f72"/>
<circle cx="405.11" cy="445.94" r="0.88" fill="#8c1f72"/>
<circle cx="408.76" cy="445.94" r="0.88" fill="#8c1f72"/>
<circle cx="412.42" cy="445.94" r="0.88" fill="#8c1f72"/>
<circle cx="416.08" cy="445.94" r="0.88" fill="#8c1f72"/>
<circle cx="419.74" cy="445.94" r="0.88" fill="#8c1f72"/>
<circle cx="423.39" cy="445.94" r="0.88" fill="#8c1f72"/>
<circle cx="427.05" cy="445.94" r="0.88" fill="#8c1f72"/>
<line x1="395.90" y1="451.56" x2="399.30" y2="451.56" stroke="#222" stroke-width="1.1"/>
<text x="392.80" y="453.33" font-size="4.928" text-anchor="end" textLength="44.02" lengthAdjust="spacingAndGlyphs"><tspan fill="#9a9a9a">CD47_</tspan><tspan fill="#1e1e1e">SIRB1 complex</tspan></text>
<circle cx="401.45" cy="451.56" r="0.88" fill="#30399a"/>
<circle cx="405.11" cy="451.56" r="0.88" fill="#30399a"/>
<circle cx="408.76" cy="451.56" r="0.88" fill="#5a238a"/>
<circle cx="412.42" cy="451.56" r="0.88" fill="#30399a"/>
<circle cx="416.08" cy="451.56" r="0.88" fill="#30399a"/>
<circle cx="419.74" cy="451.56" r="0.88" fill="#5a238a"/>
<circle cx="423.39" cy="451.56" r="0.88" fill="#5a238a"/>
<circle cx="427.05" cy="451.56" r="0.88" fill="#5a238a"/>
<line x1="395.90" y1="457.18" x2="399.30" y2="457.18" stroke="#222" stroke-width="1.1"/>
<text x="392.80" y="458.95" font-size="4.928" text-anchor="end" textLength="27.63" lengthAdjust="spacingAndGlyphs"><tspan fill="#1e1e1e">IL16</tspan><tspan fill="#9a9a9a">_GRIN2C</tspan></text>
<circle cx="401.45" cy="457.18" r="0.88" fill="#6c2a98"/>
<circle cx="405.11" cy="457.18" r="0.88" fill="#6c2a98"/>
<circle cx="408.76" cy="457.18" r="0.88" fill="#6c2a98"/>
<circle cx="412.42" cy="457.18" r="0.88" fill="#6c2a98"/>
<circle cx="416.08" cy="457.18" r="0.88" fill="#6c2a98"/>
<circle cx="419.74" cy="457.18" r="0.88" fill="#6c2a98"/>
<circle cx="423.39" cy="457.18" r="0.88" fill="#6c2a98"/>
<circle cx="427.05" cy="457.18" r="0.88" fill="#6c2a98"/>
<line x1="395.90" y1="462.80" x2="399.30" y2="462.80" stroke="#222" stroke-width="1.1"/>
<text x="392.80" y="464.57" font-size="4.928" text-anchor="end" textLength="28.37" lengthAdjust="spacingAndGlyphs"><tspan fill="#9a9a9a">CCL5_</tspan><tspan fill="#1e1e1e">ACKR1</tspan></text>
<circle cx="401.45" cy="462.80" r="0.88" fill="#30399a"/>
<circle cx="405.11" cy="462.80" r="0.88" fill="#30399a"/>
<circle cx="408.76" cy="462.80" r="0.88" fill="#30399a"/>
<circle cx="412.42" cy="462.80" r="0.88" fill="#30399a"/>
<circle cx="416.08" cy="462.80" r="0.88" fill="#30399a"/>
<circle cx="419.74" cy="462.80" r="0.88" fill="#30399a"/>
<circle cx="423.39" cy="462.80" r="0.88" fill="#30399a"/>
<circle cx="427.05" cy="462.80" r="0.88" fill="#30399a"/>
<line x1="395.90" y1="468.42" x2="399.30" y2="468.42" stroke="#222" stroke-width="1.1"/>
<text x="392.80" y="470.19" font-size="4.928" text-anchor="end" textLength="25.68" lengthAdjust="spacingAndGlyphs"><tspan fill="#9a9a9a">CCL5_</tspan><tspan fill="#1e1e1e">CCR5</tspan></text>
<circle cx="401.45" cy="468.42" r="0.88" fill="#30399a"/>
<circle cx="405.11" cy="468.42" r="0.88" fill="#30399a"/>
<circle cx="408.76" cy="468.42" r="0.88" fill="#30399a"/>
<circle cx="412.42" cy="468.42" r="0.88" fill="#30399a"/>
<circle cx="416.08" cy="468.42" r="0.88" fill="#30399a"/>
<circle cx="419.74" cy="468.42" r="0.88" fill="#30399a"/>
<circle cx="423.39" cy="468.42" r="0.88" fill="#30399a"/>
<circle cx="427.05" cy="468.42" r="0.88" fill="#30399a"/>
<line x1="395.90" y1="474.04" x2="399.30" y2="474.04" stroke="#222" stroke-width="1.1"/>
<text x="392.80" y="475.81" font-size="4.928" text-anchor="end" textLength="32.03" lengthAdjust="spacingAndGlyphs"><tspan fill="#9a9a9a">ADRB2_</tspan><tspan fill="#1e1e1e">VEGFB</tspan></text>
<circle cx="401.45" cy="474.04" r="0.88" fill="#5a238a"/>
<circle cx="405.11" cy="474.04" r="0.88" fill="#5a238a"/>
<circle cx="408.76" cy="474.04" r="0.88" fill="#5a238a"/>
<circle cx="412.42" cy="474.04" r="0.88" fill="#5a238a"/>
<circle cx="416.08" cy="474.04" r="0.88" fill="#5a238a"/>
<circle cx="419.74" cy="474.04" r="0.88" fill="#5a238a"/>
<circle cx="423.39" cy="474.04" r="0.88" fill="#5a238a"/>
<circle cx="427.05" cy="474.04" r="0.88" fill="#5a238a"/>
<line x1="401.45" y1="477.30" x2="401.45" y2="480.80" stroke="#333" stroke-width="0.9"/>
<text x="401.45" y="488.00" font-size="5.0" text-anchor="middle" fill="#5a63a6">1</text>
<line x1="405.11" y1="477.30" x2="405.11" y2="480.80" stroke="#333" stroke-width="0.9"/>
<text x="405.11" y="488.00" font-size="5.0" text-anchor="middle" fill="#5a63a6">2</text>
<line x1="408.76" y1="477.30" x2="408.76" y2="480.80" stroke="#333" stroke-width="0.9"/>
<text x="408.76" y="488.00" font-size="5.0" text-anchor="middle" fill="#5a63a6">3</text>
<line x1="412.42" y1="477.30" x2="412.42" y2="480.80" stroke="#333" stroke-width="0.9"/>
<text x="412.42" y="488.00" font-size="5.0" text-anchor="middle" fill="#5a63a6">4</text>
<line x1="416.08" y1="477.30" x2="416.08" y2="480.80" stroke="#333" stroke-width="0.9"/>
<text x="416.08" y="488.00" font-size="5.0" text-anchor="middle" fill="#5a63a6">5</text>
<line x1="419.74" y1="477.30" x2="419.74" y2="480.80" stroke="#333" stroke-width="0.9"/>
<text x="419.74" y="488.00" font-size="5.0" text-anchor="middle" fill="#5a63a6">6</text>
<line x1="423.39" y1="477.30" x2="423.39" y2="480.80" stroke="#333" stroke-width="0.9"/>
<text x="423.39" y="488.00" font-size="5.0" text-anchor="middle" fill="#5a63a6">7</text>
<line x1="427.05" y1="477.30" x2="427.05" y2="480.80" stroke="#333" stroke-width="0.9"/>
<text x="427.05" y="488.00" font-size="5.0" text-anchor="middle" fill="#5a63a6">8</text>
<text x="414.25" y="343.14" font-size="7.616" text-anchor="middle" fill="#1a1a1a" textLength="24.56" lengthAdjust="spacingAndGlyphs">Memory</text>
<text x="374.70" y="488.05" font-size="5.152" text-anchor="middle" fill="#222" textLength="2.81" lengthAdjust="spacingAndGlyphs">T</text>
<text x="389.70" y="488.05" font-size="5.152" text-anchor="middle" fill="#222" textLength="10.60" lengthAdjust="spacingAndGlyphs">HSPC</text>
<line x1="374.70" y1="478.00" x2="374.70" y2="479.60" stroke="#333" stroke-width="0.6"/>
<line x1="388.90" y1="478.00" x2="388.90" y2="479.60" stroke="#333" stroke-width="0.6"/>
<line x1="485.25" y1="347.80" x2="485.25" y2="476.70" stroke="#ececec" stroke-width="0.7"/>
<line x1="488.89" y1="347.80" x2="488.89" y2="476.70" stroke="#ececec" stroke-width="0.7"/>
<line x1="492.54" y1="347.80" x2="492.54" y2="476.70" stroke="#ececec" stroke-width="0.7"/>
<line x1="496.18" y1="347.80" x2="496.18" y2="476.70" stroke="#ececec" stroke-width="0.7"/>
<line x1="499.82" y1="347.80" x2="499.82" y2="476.70" stroke="#ececec" stroke-width="0.7"/>
<line x1="503.46" y1="347.80" x2="503.46" y2="476.70" stroke="#ececec" stroke-width="0.7"/>
<line x1="507.11" y1="347.80" x2="507.11" y2="476.70" stroke="#ececec" stroke-width="0.7"/>
<line x1="510.75" y1="347.80" x2="510.75" y2="476.70" stroke="#ececec" stroke-width="0.7"/>
<rect x="483.10" y="347.20" width="29.80" height="130.10" fill="none" stroke="#1a1a1a" stroke-width="1.05"/>
<line x1="479.70" y1="352.50" x2="483.10" y2="352.50" stroke="#222" stroke-width="1.1"/>
<text x="476.70" y="354.31" font-size="5.04" text-anchor="end" textLength="31.39" lengthAdjust="spacingAndGlyphs"><tspan fill="#1e1e1e">KLRC2_HLA−E</tspan></text>
<circle cx="485.25" cy="352.50" r="1.64" fill="#3a2b8e"/>
<circle cx="488.89" cy="352.50" r="0.88" fill="#30399a"/>
<circle cx="492.54" cy="352.50" r="0.88" fill="#30399a"/>
<circle cx="496.18" cy="352.50" r="0.88" fill="#30399a"/>
<circle cx="499.82" cy="352.50" r="0.88" fill="#30399a"/>
<circle cx="503.46" cy="352.50" r="0.88" fill="#30399a"/>
<circle cx="507.11" cy="352.50" r="0.88" fill="#30399a"/>
<circle cx="510.75" cy="352.50" r="0.88" fill="#30399a"/>
<line x1="479.70" y1="361.68" x2="483.10" y2="361.68" stroke="#222" stroke-width="1.1"/>
<text x="476.70" y="363.49" font-size="5.04" text-anchor="end" textLength="34.76" lengthAdjust="spacingAndGlyphs"><tspan fill="#1e1e1e">CXCR4_CXCL12</tspan></text>
<circle cx="485.25" cy="361.68" r="0.88" fill="#cc2038"/>
<circle cx="488.89" cy="361.68" r="0.88" fill="#cc2038"/>
<circle cx="492.54" cy="361.68" r="0.88" fill="#cc2038"/>
<circle cx="496.18" cy="361.68" r="0.88" fill="#cc2038"/>
<circle cx="499.82" cy="361.68" r="0.88" fill="#cc2038"/>
<circle cx="503.46" cy="361.68" r="0.88" fill="#cc2038"/>
<circle cx="507.11" cy="361.68" r="0.88" fill="#cc2038"/>
<circle cx="510.75" cy="361.68" r="1.64" fill="#cc2038"/>
<line x1="479.70" y1="370.86" x2="483.10" y2="370.86" stroke="#222" stroke-width="1.1"/>
<text x="476.70" y="372.67" font-size="5.04" text-anchor="end" textLength="34.52" lengthAdjust="spacingAndGlyphs"><tspan fill="#1e1e1e">CLEC2D_KLRB1</tspan></text>
<circle cx="485.25" cy="370.86" r="0.88" fill="#8c1f72"/>
<circle cx="488.89" cy="370.86" r="1.42" fill="#8c1f72"/>
<circle cx="492.54" cy="370.86" r="0.88" fill="#8c1f72"/>
<circle cx="496.18" cy="370.86" r="0.88" fill="#8c1f72"/>
<circle cx="499.82" cy="370.86" r="0.88" fill="#8c1f72"/>
<circle cx="503.46" cy="370.86" r="1.42" fill="#8c1f72"/>
<circle cx="507.11" cy="370.86" r="0.88" fill="#8c1f72"/>
<circle cx="510.75" cy="370.86" r="0.88" fill="#8c1f72"/>
<line x1="479.70" y1="380.04" x2="483.10" y2="380.04" stroke="#222" stroke-width="1.1"/>
<text x="476.70" y="381.85" font-size="5.04" text-anchor="end" textLength="33.00" lengthAdjust="spacingAndGlyphs"><tspan fill="#1e1e1e">NAMPT_NTRK1</tspan></text>
<circle cx="485.25" cy="380.04" r="0.88" fill="#30399a"/>
<circle cx="488.89" cy="380.04" r="0.88" fill="#30399a"/>
<circle cx="492.54" cy="380.04" r="0.88" fill="#30399a"/>
<circle cx="496.18" cy="380.04" r="0.88" fill="#30399a"/>
<circle cx="499.82" cy="380.04" r="1.64" fill="#5a238a"/>
<circle cx="503.46" cy="380.04" r="0.88" fill="#30399a"/>
<circle cx="507.11" cy="380.04" r="0.88" fill="#30399a"/>
<circle cx="510.75" cy="380.04" r="0.88" fill="#30399a"/>
<line x1="479.70" y1="389.22" x2="483.10" y2="389.22" stroke="#222" stroke-width="1.1"/>
<text x="476.70" y="391.03" font-size="5.04" text-anchor="end" textLength="23.25" lengthAdjust="spacingAndGlyphs"><tspan fill="#1e1e1e">TIGIT_PVR</tspan></text>
<circle cx="485.25" cy="389.22" r="1.64" fill="#3a2b8e"/>
<circle cx="488.89" cy="389.22" r="0.88" fill="#30399a"/>
<circle cx="492.54" cy="389.22" r="0.88" fill="#30399a"/>
<circle cx="496.18" cy="389.22" r="0.88" fill="#30399a"/>
<circle cx="499.82" cy="389.22" r="0.88" fill="#30399a"/>
<circle cx="503.46" cy="389.22" r="0.88" fill="#30399a"/>
<circle cx="507.11" cy="389.22" r="0.88" fill="#30399a"/>
<circle cx="510.75" cy="389.22" r="0.88" fill="#30399a"/>
<line x1="479.70" y1="398.40" x2="483.10" y2="398.40" stroke="#222" stroke-width="1.1"/>
<text x="476.70" y="400.21" font-size="5.04" text-anchor="end" textLength="23.26" lengthAdjust="spacingAndGlyphs"><tspan fill="#1e1e1e">CD96_PVR</tspan></text>
<circle cx="485.25" cy="398.40" r="1.64" fill="#5a238a"/>
<circle cx="488.89" cy="398.40" r="0.88" fill="#5a238a"/>
<circle cx="492.54" cy="398.40" r="0.88" fill="#5a238a"/>
<circle cx="496.18" cy="398.40" r="0.88" fill="#30399a"/>
<circle cx="499.82" cy="398.40" r="0.88" fill="#5a238a"/>
<circle cx="503.46" cy="398.40" r="0.88" fill="#5a238a"/>
<circle cx="507.11" cy="398.40" r="0.88" fill="#5a238a"/>
<circle cx="510.75" cy="398.40" r="0.88" fill="#30399a"/>
<line x1="479.70" y1="407.58" x2="483.10" y2="407.58" stroke="#222" stroke-width="1.1"/>
<text x="476.70" y="409.39" font-size="5.04" text-anchor="end" textLength="45.02" lengthAdjust="spacingAndGlyphs"><tspan fill="#1e1e1e">CD47_SIRB1 complex</tspan></text>
<circle cx="485.25" cy="407.58" r="0.88" fill="#5a238a"/>
<circle cx="488.89" cy="407.58" r="0.88" fill="#30399a"/>
<circle cx="492.54" cy="407.58" r="0.88" fill="#5a238a"/>
<circle cx="496.18" cy="407.58" r="0.88" fill="#30399a"/>
<circle cx="499.82" cy="407.58" r="0.88" fill="#30399a"/>
<circle cx="503.46" cy="407.58" r="1.64" fill="#5a238a"/>
<circle cx="507.11" cy="407.58" r="0.88" fill="#5a238a"/>
<circle cx="510.75" cy="407.58" r="1.42" fill="#5a238a"/>
<line x1="479.70" y1="416.76" x2="483.10" y2="416.76" stroke="#222" stroke-width="1.1"/>
<text x="476.70" y="418.57" font-size="5.04" text-anchor="end" textLength="45.14" lengthAdjust="spacingAndGlyphs"><tspan fill="#1e1e1e">CD94:NKG2C_HLA−E</tspan></text>
<circle cx="485.25" cy="416.76" r="1.64" fill="#3a2b8e"/>
<circle cx="488.89" cy="416.76" r="0.88" fill="#30399a"/>
<circle cx="492.54" cy="416.76" r="0.88" fill="#30399a"/>
<circle cx="496.18" cy="416.76" r="0.88" fill="#30399a"/>
<circle cx="499.82" cy="416.76" r="0.88" fill="#30399a"/>
<circle cx="503.46" cy="416.76" r="0.88" fill="#30399a"/>
<circle cx="507.11" cy="416.76" r="0.88" fill="#30399a"/>
<circle cx="510.75" cy="416.76" r="0.88" fill="#30399a"/>
<line x1="479.70" y1="425.94" x2="483.10" y2="425.94" stroke="#222" stroke-width="1.1"/>
<text x="476.70" y="427.75" font-size="5.04" text-anchor="end" textLength="28.76" lengthAdjust="spacingAndGlyphs"><tspan fill="#1e1e1e">ANXA1_FPR1</tspan></text>
<circle cx="485.25" cy="425.94" r="0.88" fill="#8c1f72"/>
<circle cx="488.89" cy="425.94" r="0.88" fill="#8c1f72"/>
<circle cx="492.54" cy="425.94" r="0.88" fill="#8c1f72"/>
<circle cx="496.18" cy="425.94" r="0.88" fill="#8c1f72"/>
<circle cx="499.82" cy="425.94" r="0.88" fill="#8c1f72"/>
<circle cx="503.46" cy="425.94" r="1.64" fill="#b3124e"/>
<circle cx="507.11" cy="425.94" r="0.88" fill="#8c1f72"/>
<circle cx="510.75" cy="425.94" r="0.88" fill="#30399a"/>
<line x1="479.70" y1="435.12" x2="483.10" y2="435.12" stroke="#222" stroke-width="1.1"/>
<text x="476.70" y="436.93" font-size="5.04" text-anchor="end" textLength="32.14" lengthAdjust="spacingAndGlyphs"><tspan fill="#1e1e1e">HLA−C_FAM3C</tspan></text>
<circle cx="485.25" cy="435.12" r="1.64" fill="#5a238a"/>
<circle cx="488.89" cy="435.12" r="1.64" fill="#5a238a"/>
<circle cx="492.54" cy="435.12" r="1.64" fill="#5a238a"/>
<circle cx="496.18" cy="435.12" r="1.64" fill="#5a238a"/>
<circle cx="499.82" cy="435.12" r="1.64" fill="#5a238a"/>
<circle cx="503.46" cy="435.12" r="1.64" fill="#5a238a"/>
<circle cx="507.11" cy="435.12" r="1.64" fill="#5a238a"/>
<circle cx="510.75" cy="435.12" r="1.64" fill="#5a238a"/>
<line x1="479.70" y1="444.30" x2="483.10" y2="444.30" stroke="#222" stroke-width="1.1"/>
<text x="476.70" y="446.11" font-size="5.04" text-anchor="end" textLength="38.02" lengthAdjust="spacingAndGlyphs"><tspan fill="#1e1e1e">LCK</tspan><tspan fill="#9a9a9a">_CD8 receptor</tspan></text>
<circle cx="485.25" cy="444.30" r="0.88" fill="#8c1f72"/>
<circle cx="488.89" cy="444.30" r="0.88" fill="#8c1f72"/>
<circle cx="492.54" cy="444.30" r="0.88" fill="#8c1f72"/>
<circle cx="496.18" cy="444.30" r="0.88" fill="#8c1f72"/>
<circle cx="499.82" cy="444.30" r="0.88" fill="#8c1f72"/>
<circle cx="503.46" cy="444.30" r="0.88" fill="#8c1f72"/>
<circle cx="507.11" cy="444.30" r="0.88" fill="#8c1f72"/>
<circle cx="510.75" cy="444.30" r="0.88" fill="#30399a"/>
<line x1="479.70" y1="453.48" x2="483.10" y2="453.48" stroke="#222" stroke-width="1.1"/>
<text x="476.70" y="455.29" font-size="5.04" text-anchor="end" textLength="37.77" lengthAdjust="spacingAndGlyphs"><tspan fill="#9a9a9a">IL18 receptor_</tspan><tspan fill="#1e1e1e">IL18</tspan></text>
<circle cx="485.25" cy="453.48" r="0.88" fill="#6c2a98"/>
<circle cx="488.89" cy="453.48" r="0.88" fill="#6c2a98"/>
<circle cx="492.54" cy="453.48" r="0.88" fill="#6c2a98"/>
<circle cx="496.18" cy="453.48" r="0.88" fill="#6c2a98"/>
<circle cx="499.82" cy="453.48" r="0.88" fill="#6c2a98"/>
<circle cx="503.46" cy="453.48" r="0.88" fill="#6c2a98"/>
<circle cx="507.11" cy="453.48" r="0.88" fill="#6c2a98"/>
<circle cx="510.75" cy="453.48" r="0.88" fill="#6c2a98"/>
<line x1="479.70" y1="462.66" x2="483.10" y2="462.66" stroke="#222" stroke-width="1.1"/>
<text x="476.70" y="464.47" font-size="5.04" text-anchor="end" textLength="29.01" lengthAdjust="spacingAndGlyphs"><tspan fill="#9a9a9a">CCL5_</tspan><tspan fill="#1e1e1e">ACKR1</tspan></text>
<circle cx="485.25" cy="462.66" r="0.88" fill="#30399a"/>
<circle cx="488.89" cy="462.66" r="0.88" fill="#30399a"/>
<circle cx="492.54" cy="462.66" r="0.88" fill="#30399a"/>
<circle cx="496.18" cy="462.66" r="0.88" fill="#30399a"/>
<circle cx="499.82" cy="462.66" r="0.88" fill="#30399a"/>
<circle cx="503.46" cy="462.66" r="0.88" fill="#30399a"/>
<circle cx="507.11" cy="462.66" r="0.88" fill="#30399a"/>
<circle cx="510.75" cy="462.66" r="0.88" fill="#30399a"/>
<line x1="479.70" y1="471.84" x2="483.10" y2="471.84" stroke="#222" stroke-width="1.1"/>
<text x="476.70" y="473.65" font-size="5.04" text-anchor="end" textLength="26.26" lengthAdjust="spacingAndGlyphs"><tspan fill="#9a9a9a">CCL5_</tspan><tspan fill="#1e1e1e">CCR5</tspan></text>
<circle cx="485.25" cy="471.84" r="0.88" fill="#30399a"/>
<circle cx="488.89" cy="471.84" r="0.88" fill="#30399a"/>
<circle cx="492.54" cy="471.84" r="0.88" fill="#30399a"/>
<circle cx="496.18" cy="471.84" r="0.88" fill="#30399a"/>
<circle cx="499.82" cy="471.84" r="0.88" fill="#30399a"/>
<circle cx="503.46" cy="471.84" r="0.88" fill="#30399a"/>
<circle cx="507.11" cy="471.84" r="0.88" fill="#30399a"/>
<circle cx="510.75" cy="471.84" r="0.88" fill="#30399a"/>
<line x1="485.25" y1="477.30" x2="485.25" y2="480.80" stroke="#333" stroke-width="0.9"/>
<text x="485.25" y="488.00" font-size="5.0" text-anchor="middle" fill="#5a63a6">1</text>
<line x1="488.89" y1="477.30" x2="488.89" y2="480.80" stroke="#333" stroke-width="0.9"/>
<text x="488.89" y="488.00" font-size="5.0" text-anchor="middle" fill="#5a63a6">2</text>
<line x1="492.54" y1="477.30" x2="492.54" y2="480.80" stroke="#333" stroke-width="0.9"/>
<text x="492.54" y="488.00" font-size="5.0" text-anchor="middle" fill="#5a63a6">3</text>
<line x1="496.18" y1="477.30" x2="496.18" y2="480.80" stroke="#333" stroke-width="0.9"/>
<text x="496.18" y="488.00" font-size="5.0" text-anchor="middle" fill="#5a63a6">4</text>
<line x1="499.82" y1="477.30" x2="499.82" y2="480.80" stroke="#333" stroke-width="0.9"/>
<text x="499.82" y="488.00" font-size="5.0" text-anchor="middle" fill="#5a63a6">5</text>
<line x1="503.46" y1="477.30" x2="503.46" y2="480.80" stroke="#333" stroke-width="0.9"/>
<text x="503.46" y="488.00" font-size="5.0" text-anchor="middle" fill="#5a63a6">6</text>
<line x1="507.11" y1="477.30" x2="507.11" y2="480.80" stroke="#333" stroke-width="0.9"/>
<text x="507.11" y="488.00" font-size="5.0" text-anchor="middle" fill="#5a63a6">7</text>
<line x1="510.75" y1="477.30" x2="510.75" y2="480.80" stroke="#333" stroke-width="0.9"/>
<text x="510.75" y="488.00" font-size="5.0" text-anchor="middle" fill="#5a63a6">8</text>
<text x="498.00" y="343.14" font-size="7.616" text-anchor="middle" fill="#1a1a1a" textLength="23.31" lengthAdjust="spacingAndGlyphs">Effector</text>
<text x="462.70" y="488.05" font-size="5.152" text-anchor="middle" fill="#222" textLength="2.81" lengthAdjust="spacingAndGlyphs">T</text>
<text x="475.80" y="488.05" font-size="5.152" text-anchor="middle" fill="#222" textLength="10.60" lengthAdjust="spacingAndGlyphs">HSPC</text>
<line x1="462.70" y1="478.00" x2="462.70" y2="479.60" stroke="#333" stroke-width="0.6"/>
<line x1="475.00" y1="478.00" x2="475.00" y2="479.60" stroke="#333" stroke-width="0.6"/>
<text x="156.60" y="328.41" font-size="6.7" text-anchor="middle" fill="#1a1a1a">CD4<tspan font-size="3.4" dy="-2.2">+</tspan><tspan dy="2.2"> T cells</tspan></text>
<line x1="81.20" y1="333.10" x2="231.20" y2="333.10" stroke="#222" stroke-width="0.9"/>
<text x="411.80" y="328.41" font-size="6.7" text-anchor="middle" fill="#1a1a1a">CD8<tspan font-size="3.4" dy="-2.2">+</tspan><tspan dy="2.2"> T cells</tspan></text>
<line x1="334.80" y1="333.10" x2="488.30" y2="333.10" stroke="#222" stroke-width="0.9"/>
<line x1="59.20" y1="498.40" x2="512.70" y2="498.40" stroke="#4d5080" stroke-width="1.1"/>
<text x="222.60" y="505.97" font-size="4.928" fill="#5a63a6" textLength="28.20" lengthAdjust="spacingAndGlyphs">HSPC clusters</text>
<text x="72.10" y="515.11" font-size="5.04" fill="#5a63a6" textLength="25.51" lengthAdjust="spacingAndGlyphs">1, HSC/MPP</text>
<text x="72.10" y="522.41" font-size="5.04" fill="#5a63a6" textLength="17.26" lengthAdjust="spacingAndGlyphs">2, LMPP</text>
<text x="116.70" y="515.11" font-size="5.04" fill="#5a63a6" textLength="14.75" lengthAdjust="spacingAndGlyphs">3, MEP</text>
<text x="116.70" y="522.41" font-size="5.04" fill="#5a63a6" textLength="14.26" lengthAdjust="spacingAndGlyphs">4, MLP</text>
<text x="148.10" y="514.81" font-size="5.04" fill="#5a63a6" textLength="14.75" lengthAdjust="spacingAndGlyphs">5, EBM</text>
<text x="148.10" y="522.61" font-size="5.04" fill="#5a63a6" textLength="15.76" lengthAdjust="spacingAndGlyphs">6, Neu1</text>
<text x="181.10" y="514.81" font-size="5.04" fill="#5a63a6" textLength="15.76" lengthAdjust="spacingAndGlyphs">7, Neu2</text>
<text x="181.10" y="522.61" font-size="5.04" fill="#5a63a6" textLength="14.50" lengthAdjust="spacingAndGlyphs">8, MD1</text>
<text x="345.50" y="507.78" font-size="6.6" text-anchor="middle" fill="#333" textLength="25.00" lengthAdjust="spacingAndGlyphs">Expression</text>
<defs><linearGradient id="eg" x1="0" x2="1" y1="0" y2="0"><stop offset="0" stop-color="#262a7e"/><stop offset="0.5" stop-color="#7c2a8e"/><stop offset="1" stop-color="#cc2030"/></linearGradient></defs>
<rect x="328.20" y="511.70" width="34.60" height="5.30" fill="url(#eg)" stroke="#888" stroke-width="0.4"/>
<line x1="339.60" y1="511.90" x2="339.60" y2="516.80" stroke="#fff" stroke-width="0.4" opacity="0.6"/>
<line x1="351.00" y1="511.90" x2="351.00" y2="516.80" stroke="#fff" stroke-width="0.4" opacity="0.6"/>
<text x="329.40" y="524.94" font-size="5.376" text-anchor="middle" fill="#222" textLength="6.67" lengthAdjust="spacingAndGlyphs" transform="rotate(-90 329.40 523.00)">0.0</text>
<text x="337.90" y="524.94" font-size="5.376" text-anchor="middle" fill="#222" textLength="6.67" lengthAdjust="spacingAndGlyphs" transform="rotate(-90 337.90 523.00)">0.5</text>
<text x="345.80" y="524.94" font-size="5.376" text-anchor="middle" fill="#222" textLength="6.67" lengthAdjust="spacingAndGlyphs" transform="rotate(-90 345.80 523.00)">1.0</text>
<text x="353.70" y="524.94" font-size="5.376" text-anchor="middle" fill="#222" textLength="6.67" lengthAdjust="spacingAndGlyphs" transform="rotate(-90 353.70 523.00)">1.5</text>
<text x="361.80" y="524.94" font-size="5.376" text-anchor="middle" fill="#222" textLength="6.67" lengthAdjust="spacingAndGlyphs" transform="rotate(-90 361.80 523.00)">2.0</text>
<text x="402.50" y="512.78" font-size="6.048" text-anchor="middle" fill="#222">-log<tspan font-size="3.7" dy="1.9">10</tspan><tspan dy="-1.9">(</tspan><tspan font-style="italic">P</tspan>)</text>
<circle cx="385.70" cy="522.50" r="0.80" fill="#111"/>
<text x="385.70" y="531.14" font-size="5.376" text-anchor="middle" fill="#222" textLength="6.67" lengthAdjust="spacingAndGlyphs" transform="rotate(-90 385.70 529.20)">1.0</text>
<circle cx="394.00" cy="522.50" r="1.80" fill="#111"/>
<text x="394.00" y="531.14" font-size="5.376" text-anchor="middle" fill="#222" textLength="6.67" lengthAdjust="spacingAndGlyphs" transform="rotate(-90 394.00 529.20)">1.5</text>
<circle cx="402.00" cy="522.50" r="2.05" fill="#111"/>
<text x="402.00" y="531.14" font-size="5.376" text-anchor="middle" fill="#222" textLength="6.67" lengthAdjust="spacingAndGlyphs" transform="rotate(-90 402.00 529.20)">2.0</text>
<circle cx="410.10" cy="522.50" r="2.20" fill="#111"/>
<text x="410.10" y="531.14" font-size="5.376" text-anchor="middle" fill="#222" textLength="6.67" lengthAdjust="spacingAndGlyphs" transform="rotate(-90 410.10 529.20)">2.5</text>
<circle cx="418.90" cy="522.50" r="2.40" fill="#111"/>
<text x="418.90" y="531.14" font-size="5.376" text-anchor="middle" fill="#222" textLength="6.67" lengthAdjust="spacingAndGlyphs" transform="rotate(-90 418.90 529.20)">3.0</text>
</svg>
<div class="frame"></div>
</body></html>
